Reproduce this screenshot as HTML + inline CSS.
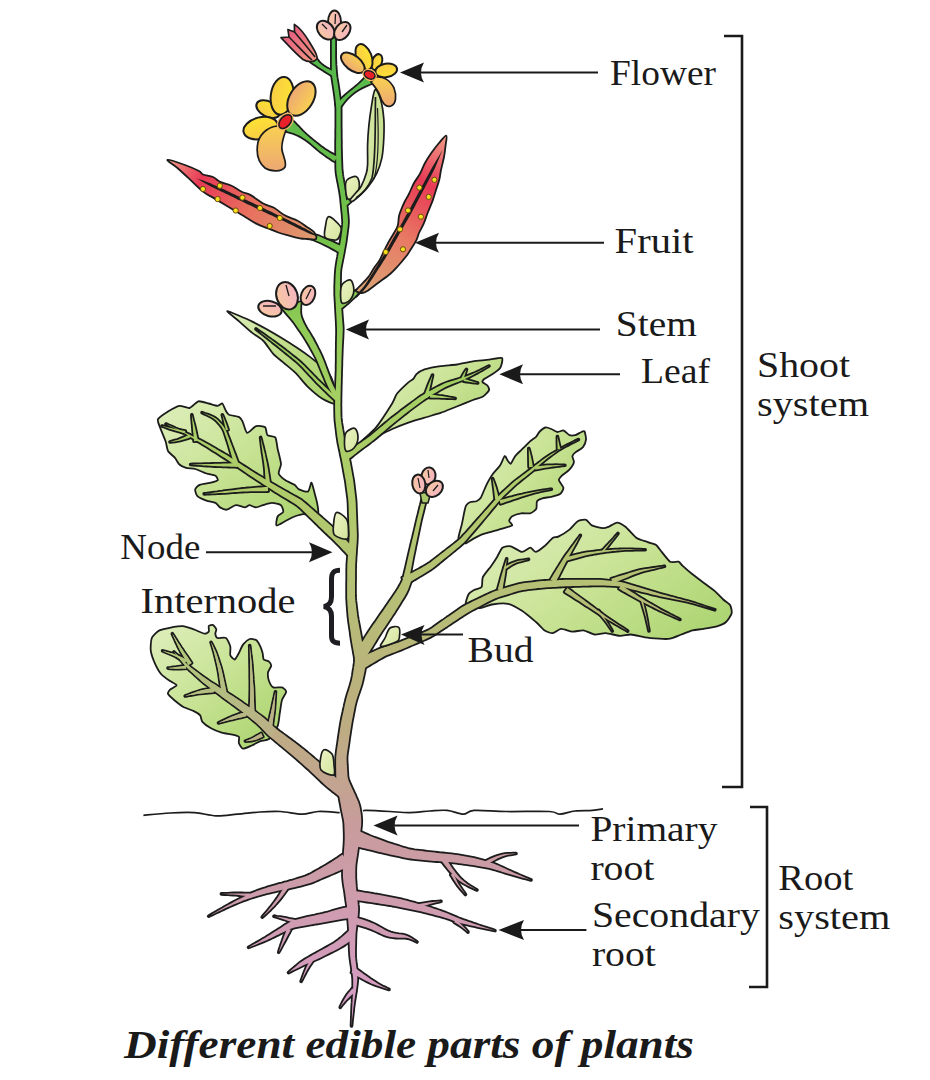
<!DOCTYPE html>
<html><head><meta charset="utf-8"><style>
html,body{margin:0;padding:0;background:#fff;width:930px;height:1080px;overflow:hidden}
svg{display:block}
.t{font-family:"Liberation Serif",serif;font-size:36px;fill:#1a1a1a}
.cap{font-family:"Liberation Serif",serif;font-size:40px;font-weight:bold;font-style:italic;fill:#1a1a1a}
.ln{stroke:#1a1a1a;stroke-width:2;fill:none}
.br{stroke:#1a1a1a;stroke-width:2.6;fill:none}
.ah{fill:#1a1a1a}
</style></head><body>
<svg width="930" height="1080" viewBox="0 0 930 1080">
<defs>
<linearGradient id="gStem" gradientUnits="userSpaceOnUse" x1="0" y1="0" x2="0" y2="1030">
<stop offset="0" stop-color="#4cb44c"/>
<stop offset="0.10" stop-color="#5cba4a"/>
<stop offset="0.25" stop-color="#78c34a"/>
<stop offset="0.38" stop-color="#a4d062"/>
<stop offset="0.48" stop-color="#b0cb6a"/>
<stop offset="0.58" stop-color="#b6bf76"/>
<stop offset="0.68" stop-color="#bcb07e"/>
<stop offset="0.74" stop-color="#c0a88a"/>
<stop offset="0.80" stop-color="#c89c9c"/>
<stop offset="1" stop-color="#d89cca"/>
</linearGradient>
<linearGradient id="gLeaf" x1="0" y1="0" x2="1" y2="1">
<stop offset="0" stop-color="#dfefbd"/>
<stop offset="0.5" stop-color="#c6e292"/>
<stop offset="1" stop-color="#a6d168"/>
</linearGradient>
<linearGradient id="gLeafR" x1="0" y1="0.2" x2="1" y2="0.8">
<stop offset="0" stop-color="#dcedb8"/>
<stop offset="0.5" stop-color="#c9e395"/>
<stop offset="1" stop-color="#add572"/>
</linearGradient>
<linearGradient id="gLeafL" x1="1" y1="1" x2="0" y2="0">
<stop offset="0" stop-color="#a6d168"/>
<stop offset="0.6" stop-color="#c4e08e"/>
<stop offset="1" stop-color="#deeebc"/>
</linearGradient>
<linearGradient id="gStip" x1="0" y1="0" x2="1" y2="1">
<stop offset="0" stop-color="#eef3c6"/>
<stop offset="1" stop-color="#d2e59c"/>
</linearGradient>
<linearGradient id="gYel" x1="0" y1="0" x2="0" y2="1">
<stop offset="0" stop-color="#fee233"/>
<stop offset="1" stop-color="#f8cc46"/>
</linearGradient>
<linearGradient id="gOra" x1="0" y1="0" x2="0" y2="1">
<stop offset="0" stop-color="#f9d052"/>
<stop offset="1" stop-color="#eda873"/>
</linearGradient>
<linearGradient id="gPink" x1="0" y1="0" x2="0" y2="1">
<stop offset="0" stop-color="#f4b4c0"/>
<stop offset="1" stop-color="#f8c8a2"/>
</linearGradient>
<linearGradient id="gTulip" x1="0" y1="0" x2="1" y2="1">
<stop offset="0" stop-color="#e2507e"/>
<stop offset="1" stop-color="#f29a82"/>
</linearGradient>
<linearGradient id="gFruitL" gradientUnits="userSpaceOnUse" x1="168" y1="160" x2="322" y2="240">
<stop offset="0" stop-color="#f29a86"/>
<stop offset="0.22" stop-color="#e83a56"/>
<stop offset="0.55" stop-color="#e8705e"/>
<stop offset="1" stop-color="#dca070"/>
</linearGradient>
<linearGradient id="gFruitR" gradientUnits="userSpaceOnUse" x1="446" y1="136" x2="356" y2="296">
<stop offset="0" stop-color="#f29a86"/>
<stop offset="0.28" stop-color="#e83a56"/>
<stop offset="0.6" stop-color="#e87a64"/>
<stop offset="1" stop-color="#daa878"/>
</linearGradient>
<linearGradient id="gPod" x1="0" y1="0" x2="1" y2="0">
<stop offset="0" stop-color="#e6f0c0"/>
<stop offset="1" stop-color="#c6df8e"/>
</linearGradient>
<clipPath id="cBll"><path d="M151.8,638C152.7,635.7 157.1,631.6 159.4,630.4C161.7,629.2 169.7,627.7 172.3,627.2C174.9,626.7 180.6,625.9 183,626.1C185.4,626.3 191.4,628.6 193.8,629.4C196.2,630.2 202.8,633.5 204.5,633.7C206.2,633.9 208.3,632.3 208.8,631.5C209.3,630.7 208.3,626.8 208.8,626.1C209.3,625.4 212.3,624.7 213.1,625.1C213.9,625.5 216.1,628.5 216.3,629.4C216.5,630.3 215.2,632.8 215.3,633.7C215.4,634.6 216.2,637.5 217.4,638C218.6,638.5 224.6,637.1 226,638C227.4,638.9 229.8,644.7 230.3,646.6C230.8,648.5 229.8,653.8 230.3,655.2C230.8,656.6 233.7,659.7 234.6,659.5C235.5,659.3 238,654.7 238.9,653C239.8,651.3 242,645.9 243.2,644.4C244.4,642.9 248.3,639.5 249.7,639C251.1,638.5 254.9,639.3 256.1,640.1C257.3,640.9 259.7,645.2 260.4,646.6C261.1,648 262.2,651.6 262.6,653C263,654.4 263,658.6 263.7,659.5C264.4,660.4 268.2,660.9 269,661.6C269.8,662.3 271.3,664.7 271.2,665.9C271.1,667.1 268.2,670.7 268,672.4C267.8,674.1 268.4,679.4 269,681C269.6,682.6 271.9,686.7 273.3,687.4C274.7,688.1 280.5,686.9 281.9,687.4C283.3,687.9 286.2,690.3 286.2,691.7C286.2,693.1 282.6,697.9 281.9,700.3C281.2,702.7 280.3,710.4 279.8,713.2C279.3,716 278.8,723.3 277.6,726.1C276.4,728.9 270.9,737.3 269,739C267.1,740.7 262.3,740.5 260.4,741.2C258.5,741.9 253.7,744.7 251.8,745.5C249.9,746.3 244.6,748.9 243.2,748.7C241.8,748.5 239.4,744.6 238.9,743.3C238.4,742 239.6,737.8 238.9,736.9C238.2,736 234.4,735.2 232.5,734.7C230.6,734.2 224.1,733.3 221.7,732.6C219.3,731.9 213.1,729.5 211,728.3C208.9,727.1 203.6,723.2 202.4,721.8C201.2,720.4 201.1,716.6 200.2,715.4C199.3,714.2 195.7,712 193.8,711.1C191.9,710.2 185.1,708 183,706.8C180.9,705.6 176.1,701.7 174.4,700.3C172.8,698.9 168.5,695.1 168,693.9C167.5,692.7 169.2,690.5 170.1,689.6C171,688.7 176.6,686.2 176.6,685.3C176.6,684.4 171.8,682.2 170.1,681C168.4,679.8 163.2,676.4 161.5,674.5C159.8,672.6 156.3,666.4 155.1,663.8C153.9,661.2 151.2,653.7 150.8,650.9C150.4,648.1 150.9,640.3 151.8,638Z"/></clipPath><linearGradient id="gBllV" gradientUnits="userSpaceOnUse" x1="282" y1="738" x2="175" y2="650"><stop offset="0" stop-color="#bcae88"/><stop offset="0.35" stop-color="#b6b884"/><stop offset="1" stop-color="#aec878"/></linearGradient></defs>
<g id="plant">
<path d="M143.4,815.3C147.8,814.9 161.5,813.5 170,813C178.5,812.5 186.8,812.1 194.5,812.6C202.2,813.1 208.8,815.5 216,815.8C223.2,816.1 230.2,814.8 237.5,814.2C244.8,813.6 252.8,812.5 260,812C267.2,811.5 273.5,811.1 280.5,811.5C287.5,811.9 295.7,814.2 302,814.2C308.3,814.2 311.9,811.8 318.2,811.5C324.5,811.2 336.1,812.4 339.7,812.6 M363,811C363.6,810.9 362.1,810.3 366.6,810.4C371.1,810.5 382.8,811.1 390,811.5C397.2,811.9 402.9,812.7 409.6,812.6C416.3,812.5 423.7,811.4 430,811C436.3,810.6 441.6,809.9 447.2,810.4C452.8,810.9 458.8,814.2 463.3,814.2C467.8,814.2 466.9,810.9 474.1,810.4C481.3,809.9 493.8,811.3 506.3,811.5C518.9,811.7 540.4,811 549.4,811.5C558.4,812 555.7,814.3 560,814.2C564.3,814.1 569.6,811.6 575,811C580.4,810.4 587.7,810.8 592.4,810.4C597.1,810 601.2,809.1 603,808.8" fill="none" stroke="#1c1c1c" stroke-width="1.7"/>
<path d="M227.3,311.1C228.7,311.1 246.4,318.7 252.3,321.6C258.2,324.5 274.9,333.8 281.3,337.7C287.7,341.6 305,353 310.3,357.1C315.6,361.2 327,371.2 329.7,374.8C332.4,378.4 334.3,386.8 335,390C335.7,393.2 337.4,403.1 336,404C334.6,404.9 325.2,400.5 322,398.5C318.8,396.5 310,388.9 307.1,386.1C304.2,383.3 298.3,375.7 295.8,373.2C293.3,370.7 287,365.6 284.5,363.5C282,361.4 275.5,356.4 273.2,353.9C270.9,351.4 265.8,343.3 263.5,341C261.2,338.7 255,335 252.3,332.9C249.6,330.8 242.2,324 239.4,321.6C236.7,319.2 225.9,311.1 227.3,311.1Z" fill="url(#gLeafL)" stroke="#1c1c1c" stroke-width="1.8" stroke-linejoin="round"/>
<path d="M502,358C503.2,358.9 501.4,365.9 500.3,367.7C499.2,369.5 494.1,373 492.3,374.2C490.5,375.4 485.3,378.1 484.2,379C483.1,379.9 482.2,381.6 482.6,382.3C483,383 486.7,384.6 487.4,385.5C488.1,386.4 489.5,389.1 489,390.3C488.5,391.5 484.4,395.7 482.6,396.8C480.8,397.9 475.7,398.9 472.9,400C470.1,401.1 460.4,405.1 456.8,406.5C453.2,407.9 444.2,411.7 440.6,412.9C437,414.1 428,416.6 424.5,417.7C421,418.8 411.9,421.4 408.4,422.6C404.9,423.8 395.9,427.4 392.3,429C388.7,430.6 379,435.6 376.1,437.1C373.2,438.6 367.6,442.6 366,443C364.4,443.4 360.9,442.7 362,441C363.1,439.3 372.8,431.6 376.1,427.4C379.4,423.2 390,406.9 392.3,403.2C394.6,399.5 395.3,395.8 397.1,393.5C398.9,391.2 406.6,383.9 408.4,382.3C410.2,380.7 412.3,379.9 413.2,379C414.1,378.1 415.3,375.3 416.5,374.2C417.7,373.1 421.8,370.3 424.5,369.4C427.2,368.5 437,366.6 440.6,366.1C444.2,365.6 453.2,365 456.8,364.5C460.4,364 469.4,361.8 472.9,361.3C476.4,360.8 485.8,360.1 489,359.7C492.2,359.3 500.8,357.1 502,358Z" fill="url(#gLeafR)" stroke="#1c1c1c" stroke-width="1.8" stroke-linejoin="round"/>
<path d="M157.9,419.4C158.6,417.3 165.6,413 168,411.5C170.4,410 177,406.2 179.4,405.8C181.8,405.4 187.4,408.5 189.5,408C191.6,407.5 196.4,401.8 198.5,401.3C200.6,400.8 206.6,403 208.7,403.5C210.8,404 216.2,405.8 217.7,405.8C219.2,405.8 221.4,403 222.3,403.5C223.2,404 224.9,409.1 225.6,410.3C226.3,411.5 227.5,414.1 229,414.8C230.5,415.5 237.7,416.4 239.2,417.1C240.7,417.8 241.7,419.9 242.6,421.6C243.5,423.3 245.6,432.4 247.1,432.9C248.6,433.4 254.1,426.7 256.1,426.1C258.1,425.5 264,426.3 265.2,427.3C266.4,428.3 266.3,434.1 267.4,435.2C268.5,436.3 274.2,435.9 275.3,437.4C276.4,438.9 277.1,446.5 277.6,448.7C278.1,450.9 279.4,456 279.8,457.7C280.2,459.4 281.1,462.8 281,464.5C280.9,466.2 278.2,471.8 278.7,473.5C279.2,475.2 283.8,479.1 285.5,480.3C287.2,481.5 293,483.8 294.5,484.8C296,485.8 297.5,488.7 299,489.4C300.5,490.1 306.6,492.3 308,491.6C309.4,490.9 310.8,482.3 311.5,482.6C312.2,482.9 314.2,491.7 314.8,493.9C315.4,496.1 316.7,500.8 317.1,502.9C317.5,505 318.7,511.7 318.2,513.1C317.7,514.5 314.2,515.2 312.6,515.3C311,515.4 305.5,514.1 303.5,514.2C301.5,514.3 296.5,515.8 294.5,516.5C292.5,517.2 287.5,520 285.5,521C283.5,522 277.4,526 276.5,525.5C275.6,525 276.9,518 277.6,516.5C278.3,515 282.8,513.2 283.2,512C283.6,510.8 282.2,506.2 281,505.2C279.8,504.2 274,502.9 272,502.9C270,502.9 264.6,504.7 262.9,505.2C261.2,505.7 257.6,507.4 256.1,507.4C254.6,507.4 250.6,505.2 249.4,505.2C248.2,505.2 246.3,507.4 244.8,507.4C243.3,507.4 237.8,504.9 235.8,505.2C233.8,505.5 228.5,509.5 226.8,509.7C225.1,509.9 221.2,508.1 220,507.4C218.8,506.7 217,503.6 215.5,502.9C214,502.2 208.5,501.3 206.5,500.6C204.5,499.9 198.6,497.3 197.4,496.1C196.2,494.9 194.9,490.6 195.2,489.4C195.5,488.2 198,485.5 199.7,484.8C201.4,484.1 209,483.1 211,482.6C213,482.1 217.2,481 217.7,480.3C218.2,479.6 216.7,476.5 215.5,475.8C214.3,475.1 208.7,474.2 206.5,473.5C204.3,472.8 197.4,469.6 195.2,469C193,468.4 187.8,468.4 186.1,467.9C184.4,467.4 180.6,465.6 179.4,464.5C178.2,463.4 176.1,459.2 174.8,457.7C173.5,456.2 169,452.7 168,451C167,449.3 166.5,444.1 165.8,441.9C165.1,439.7 162.2,433.1 161.3,430.6C160.4,428.1 157.2,421.5 157.9,419.4Z" fill="url(#gLeaf)" stroke="#1c1c1c" stroke-width="1.8" stroke-linejoin="round"/>
<path d="M584.5,431.3C585,432.1 586.2,437.9 586,439.6C585.8,441.3 584.2,445.7 583,447.1C581.8,448.5 576.6,451.4 575.4,452.4C574.2,453.4 572.6,455 572.4,456.1C572.2,457.2 574.2,460.7 573.9,462.2C573.6,463.7 570.7,468.2 569.4,469.7C568.1,471.2 563.1,474.5 561.9,475.7C560.7,476.9 558.7,478.9 558.9,480.2C559.1,481.5 563.2,486.2 563.4,487.7C563.6,489.2 561.7,492.8 560.4,493.8C559.1,494.8 553.3,496.3 551.3,496.8C549.3,497.3 543.9,497.8 542.3,498.3C540.7,498.8 537.7,500.1 537,501.3C536.3,502.5 537,507.5 536.3,508.8C535.6,510.1 532,512.8 530.3,513.3C528.6,513.8 523.2,513 521.2,513.3C519.2,513.6 513.5,515.5 512.2,516.3C510.9,517.1 509.2,519.9 509.2,520.9C509.2,521.9 512.9,524.6 512.2,525.4C511.5,526.2 505.4,527.7 503.2,528.4C501,529.1 494.9,530.7 492.6,531.4C490.3,532.1 484.2,533.6 482.1,534.4C480,535.2 474.9,537.9 473.1,538.9C471.3,539.9 467.3,543 466.1,543.3C464.9,543.6 462.8,542.6 462,542C461.2,541.4 458.4,540.1 458.4,538.2C458.4,536.3 461.1,527.3 461.8,524.4C462.5,521.5 463.9,513.6 464.4,511.5C464.9,509.4 465.4,506.5 466.1,505.5C466.8,504.5 469.3,502.5 470.4,502C471.5,501.5 475.4,501.7 476.5,501.2C477.6,500.7 480,498.9 480.8,497.7C481.6,496.5 483.4,491.8 484.2,490C485,488.2 487.2,483.4 488.1,481.7C489,480 491.3,476 492.6,474.2C493.9,472.4 498.9,467.2 500.2,465.2C501.5,463.2 503.9,456.6 504.7,456.1C505.5,455.6 507,459.8 507.7,460.6C508.4,461.4 509.9,464.2 510.7,463.7C511.5,463.2 514,457.6 515.2,456.1C516.4,454.6 520,451.3 521.2,450.1C522.4,448.9 524.8,446.6 525.8,445.6C526.8,444.6 529.1,442.1 530.3,441.1C531.5,440.1 535.3,437.6 536.3,436.6C537.3,435.6 538.3,433 539.3,432C540.3,431 544,427.8 545.3,427.5C546.6,427.2 550,428.5 551.3,429C552.6,429.5 556.1,431.8 557.4,432C558.7,432.2 562.1,430.2 563.4,430.5C564.7,430.8 568.1,434.6 569.4,435.1C570.7,435.6 574.1,435.4 575.4,435.1C576.7,434.8 580.4,432.4 581.4,432C582.4,431.6 584,430.5 584.5,431.3Z" fill="url(#gLeafR)" stroke="#1c1c1c" stroke-width="1.8" stroke-linejoin="round"/>
<path d="M466,605C464.8,603.5 467.8,595.6 468.7,594C469.6,592.4 472.6,590.8 474,590C475.4,589.2 480.6,588.4 481.6,587C482.6,585.6 481.8,579.3 482.9,577C484,574.7 489.7,568 491.2,565.9C492.7,563.8 495.6,559.5 496.8,557.5C498,555.5 500.9,548.9 502.4,547.7C503.9,546.5 508.7,545.8 510.8,546.3C512.9,546.8 519.8,551.7 521.9,551.9C524,552.1 528.8,547.7 530.3,547.7C531.8,547.7 534.4,552.1 535.9,551.9C537.4,551.7 542.5,547.8 544.3,546.3C546.1,544.8 551.2,539.1 552.7,538C554.2,536.9 556.5,537.5 558.3,536.6C560.1,535.7 567.4,531.3 569.5,529.6C571.6,527.9 576,522.3 577.8,521.2C579.6,520.1 584.7,519.3 586.2,519.8C587.7,520.3 590,524.5 591.8,525.4C593.6,526.3 601.2,528 603,528.2C604.8,528.4 607.1,527.4 608.6,526.8C610.1,526.2 615.2,522.6 617,522.6C618.8,522.6 623.2,525.1 625.4,526.8C627.6,528.5 634.1,536.3 636.6,538C639.1,539.7 645.6,541.3 647.7,542.1C649.8,542.9 654.6,543.8 656.1,544.9C657.6,546 660.2,550.1 661.7,551.9C663.2,553.7 668.3,560.6 670.1,561.7C671.9,562.8 677.1,561.2 678.5,561.7C679.9,562.2 681.2,564.5 682.7,565.9C684.2,567.3 690.2,572.5 692.5,574.3C694.8,576.1 701.1,580.9 703.6,582.7C706.1,584.5 712.6,589.3 714.8,591.1C717,592.9 721.5,597.9 723.2,599.5C724.9,601.1 729.3,603.7 730.2,605.2C731.1,606.7 732.1,611.7 731.6,613.5C731.1,615.3 727.5,620.6 726,622C724.5,623.4 720.1,625.3 717.6,626.1C715.1,626.9 706.4,628.4 703.6,628.9C700.8,629.4 695,629.7 692.5,630.3C690,630.9 683.8,633.6 681.3,634.5C678.8,635.4 672.5,638.2 670,638.7C667.5,639.2 661.8,638.9 659,638.7C656.2,638.5 648.1,637.8 645,637.3C641.9,636.8 633.8,634.7 631,634.5C628.2,634.3 622.6,636.1 619.8,635.9C617,635.7 608.6,633.3 605.8,633.1C603,632.9 597.1,634.8 594.6,634.5C592.1,634.2 585.9,630.6 583.4,630.3C580.9,630 574.8,631.9 572.3,631.7C569.8,631.5 563.2,628.7 561,628.9C558.8,629.1 554.5,632.9 552.7,633.1C550.9,633.3 546.1,631.5 544.3,630.3C542.5,629.1 538.5,624.1 536,622C533.5,619.9 525.1,612.8 522,610.8C518.9,608.8 511.3,604.5 508,603.8C504.7,603.1 495.1,604 492,604.5C488.9,605 482.9,607.9 480,608C477.1,608.1 467.2,606.5 466,605Z" fill="url(#gLeafR)" stroke="#1c1c1c" stroke-width="1.8" stroke-linejoin="round"/>
<path d="M151.8,638C152.7,635.7 157.1,631.6 159.4,630.4C161.7,629.2 169.7,627.7 172.3,627.2C174.9,626.7 180.6,625.9 183,626.1C185.4,626.3 191.4,628.6 193.8,629.4C196.2,630.2 202.8,633.5 204.5,633.7C206.2,633.9 208.3,632.3 208.8,631.5C209.3,630.7 208.3,626.8 208.8,626.1C209.3,625.4 212.3,624.7 213.1,625.1C213.9,625.5 216.1,628.5 216.3,629.4C216.5,630.3 215.2,632.8 215.3,633.7C215.4,634.6 216.2,637.5 217.4,638C218.6,638.5 224.6,637.1 226,638C227.4,638.9 229.8,644.7 230.3,646.6C230.8,648.5 229.8,653.8 230.3,655.2C230.8,656.6 233.7,659.7 234.6,659.5C235.5,659.3 238,654.7 238.9,653C239.8,651.3 242,645.9 243.2,644.4C244.4,642.9 248.3,639.5 249.7,639C251.1,638.5 254.9,639.3 256.1,640.1C257.3,640.9 259.7,645.2 260.4,646.6C261.1,648 262.2,651.6 262.6,653C263,654.4 263,658.6 263.7,659.5C264.4,660.4 268.2,660.9 269,661.6C269.8,662.3 271.3,664.7 271.2,665.9C271.1,667.1 268.2,670.7 268,672.4C267.8,674.1 268.4,679.4 269,681C269.6,682.6 271.9,686.7 273.3,687.4C274.7,688.1 280.5,686.9 281.9,687.4C283.3,687.9 286.2,690.3 286.2,691.7C286.2,693.1 282.6,697.9 281.9,700.3C281.2,702.7 280.3,710.4 279.8,713.2C279.3,716 278.8,723.3 277.6,726.1C276.4,728.9 270.9,737.3 269,739C267.1,740.7 262.3,740.5 260.4,741.2C258.5,741.9 253.7,744.7 251.8,745.5C249.9,746.3 244.6,748.9 243.2,748.7C241.8,748.5 239.4,744.6 238.9,743.3C238.4,742 239.6,737.8 238.9,736.9C238.2,736 234.4,735.2 232.5,734.7C230.6,734.2 224.1,733.3 221.7,732.6C219.3,731.9 213.1,729.5 211,728.3C208.9,727.1 203.6,723.2 202.4,721.8C201.2,720.4 201.1,716.6 200.2,715.4C199.3,714.2 195.7,712 193.8,711.1C191.9,710.2 185.1,708 183,706.8C180.9,705.6 176.1,701.7 174.4,700.3C172.8,698.9 168.5,695.1 168,693.9C167.5,692.7 169.2,690.5 170.1,689.6C171,688.7 176.6,686.2 176.6,685.3C176.6,684.4 171.8,682.2 170.1,681C168.4,679.8 163.2,676.4 161.5,674.5C159.8,672.6 156.3,666.4 155.1,663.8C153.9,661.2 151.2,653.7 150.8,650.9C150.4,648.1 150.9,640.3 151.8,638Z" fill="url(#gLeaf)" stroke="#1c1c1c" stroke-width="1.8" stroke-linejoin="round"/>
<g fill="#1c1c1c" stroke="#1c1c1c" stroke-width="3.6" stroke-linejoin="round"><path d="M331.8,36 L331.8,38.7 L331.8,41.3 L331.8,44 L331.8,46.7 L331.8,49.3 L331.8,52 L331.8,54.7 L331.8,57.3 L331.8,59.9 L331.8,62.5 L331.8,65.1 L331.8,67.6 L331.8,70.1 L331.9,72.6 L332,75.2 L332.3,77.8 L332.7,80.3 L333.1,82.9 L333.5,85.4 L333.9,87.9 L334.3,90.4 L334.6,93 L335,95.6 L335.3,98.3 L335.6,100.9 L335.9,103.6 L336.1,106.2 L336.3,108.8 L336.3,111.4 L336.3,114.1 L336.3,116.9 L336.3,119.6 L336.3,122.3 L336.3,124.9 L336.3,127.5 L336.2,130 L336.2,132.5 L336.2,135 L336.2,137.5 L336.1,140 L336.1,142.5 L336.1,145 L336.1,147.5 L336.1,150.1 L336.1,152.8 L336.1,155.6 L336.1,158.3 L336.2,161.1 L336.2,163.8 L336.2,166.6 L336.3,169.4 L336.5,172.3 L336.9,175.1 L337.4,177.9 L337.9,180.7 L338.5,183.5 L339,186.2 L339.5,188.9 L340,191.6 L340.4,194.3 L340.8,196.8 L341.1,199.3 L341.3,201.9 L341.6,204.4 L341.8,207 L342.1,209.5 L342.3,212.1 L342.6,214.6 L342.8,217.1 L343,219.6 L343.1,222 L343,224.4 L342.7,226.9 L342.4,229.4 L342.1,232 L341.7,234.5 L341.4,237.1 L341,239.6 L340.6,242.1 L340.2,244.6 L339.7,247.1 L339.3,249.6 L338.8,252.1 L338.4,254.6 L338,257.1 L337.5,259.6 L337.1,262.1 L336.7,264.6 L336.3,267.2 L336,269.9 L335.8,272.7 L335.6,275.4 L335.5,278.2 L335.4,280.9 L335.3,283.7 L335.2,286.5 L335.2,289.2 L335.2,292.1 L335.2,294.9 L335.4,297.7 L335.5,300.4 L335.7,303.2 L335.8,305.9 L336,308.7 L336.1,311.4 L336.3,314.1 L336.4,316.7 L336.6,319.2 L336.7,321.7 L336.8,324.2 L336.9,326.6 L337,329.1 L337,331.7 L337,334.3 L336.9,337 L336.9,339.8 L336.8,342.5 L336.8,345.2 L336.8,347.9 L336.7,350.7 L336.7,353.5 L336.7,356.2 L336.7,359 L336.7,361.7 L336.6,364.5 L336.6,367.2 L336.6,369.8 L336.5,372.4 L336.4,374.9 L336.3,377.4 L336.2,379.9 L336.1,382.4 L336,384.9 L335.9,387.4 L335.7,389.9 L335.6,392.4 L335.5,394.9 L335.4,397.4 L335.3,399.9 L335.1,402.4 L335.1,405 L335.1,407.5 L335.1,410 L335.2,412.6 L335.2,415.1 L335.3,417.6 L335.4,420.2 L335.7,422.8 L336,425.4 L336.3,427.9 L336.6,430.4 L336.9,432.9 L337.2,435.5 L337.6,438 L338,440.6 L338.4,443.3 L339,445.9 L339.5,448.5 L340.1,451.1 L340.6,453.7 L341.1,456.3 L341.7,458.8 L342.2,461.5 L342.7,464.2 L343.2,466.9 L343.7,469.7 L344.2,472.4 L344.7,475.2 L345.2,477.9 L345.7,480.5 L346.1,483 L346.4,485.5 L346.7,488 L347.1,490.5 L347.4,493 L347.7,495.4 L348.1,497.9 L348.3,500.4 L348.5,502.9 L348.6,505.4 L348.7,508.1 L348.7,510.7 L348.8,513.3 L348.9,516 L349,518.6 L349.1,521.3 L349.2,523.9 L349.3,526.6 L349.3,529.2 L349.4,531.8 L349.5,534.4 L349.5,536.9 L349.4,539.3 L349.2,541.8 L349,544.4 L348.8,546.9 L348.5,549.4 L348.3,552 L348.1,554.5 L347.9,557.1 L347.7,559.6 L347.5,562.2 L347.3,564.8 L347.3,567.5 L347.2,570 L347.2,572.6 L347.2,575.1 L347.2,577.7 L347.2,580.2 L347.1,582.7 L347.1,585.3 L347.1,587.8 L347.1,590.4 L347.1,592.9 L347.1,595.5 L347.1,598.2 L347.3,600.8 L347.4,603.4 L347.6,605.9 L347.8,608.4 L348,610.9 L348.2,613.5 L348.4,616 L348.7,618.7 L349,621.4 L349.4,624.1 L349.8,626.8 L350.2,629.4 L350.6,632.1 L350.9,634.8 L351.3,637.5 L351.7,640.2 L352.2,642.9 L352.6,645.6 L353.1,648.2 L353.6,650.9 L354,653.4 L354.5,655.9 L354.8,658.1 L354.9,660.2 L354.8,662.2 L354.5,664.6 L354.1,667.3 L353.6,670 L353.2,672.8 L352.8,675.5 L352.3,678.1 L351.8,680.6 L351.1,683.1 L350.4,685.6 L349.6,688.1 L348.8,690.7 L347.9,693.3 L347.1,696 L346.3,698.7 L345.7,701.4 L345,704.1 L344.5,706.6 L343.9,709.2 L343.4,711.7 L342.8,714.3 L342.2,716.9 L341.7,719.5 L341.2,722.1 L340.7,724.8 L340.3,727.5 L339.9,730.1 L339.5,732.7 L339.1,735.3 L338.7,737.9 L338.4,740.6 L338,743.2 L337.6,745.8 L337.2,748.4 L336.8,751.1 L336.5,753.8 L336.2,756.7 L336.1,759.5 L336.1,762.2 L336.1,764.8 L336.1,767.4 L336.2,770 L336.2,772.5 L336.2,775.2 L336.3,778 L336.6,780.9 L337,783.9 L337.5,786.7 L338,789.3 L338.4,791.9 L338.9,794.5 L339.4,797 L339.8,799.6 L340.3,802.1 L340.8,804.6 L341.2,807 L341.6,809.3 L342.1,811.7 L342.7,814.2 L343.2,816.9 L343.7,819.3 L344.1,821.5 L344.3,823.7 L344.4,826.1 L344.5,828.7 L344.6,831.4 L344.7,834.1 L344.7,836.8 L344.7,839.3 L344.6,841.8 L344.5,844.2 L344.3,846.7 L344.1,849.2 L343.9,851.8 L343.8,854.3 L343.6,856.8 L343.4,859.3 L343.2,862 L343.1,864.7 L343,867.4 L342.9,870.1 L342.9,872.8 L342.9,875.6 L343.1,878.6 L343.4,881.6 L343.8,884.7 L344.3,887.7 L344.8,890.5 L345.2,893.1 L345.5,895.7 L345.9,898.2 L346.2,900.7 L346.6,903.2 L346.9,905.6 L347.2,908 L347.5,910.3 L347.7,912.6 L347.9,915 L348.1,917.5 L348.2,920.1 L348.4,922.7 L348.6,925.2 L348.8,927.8 L348.9,930.4 L349.1,933 L349.2,935.6 L349.3,938.1 L349.4,940.7 L349.5,943.2 L349.6,945.8 L349.7,948.4 L349.8,950.9 L350,953.6 L350.2,956.3 L350.5,959 L350.9,961.8 L351.3,964.6 L351.7,967.3 L352.1,970.1 L352.5,972.8 L352.8,975.5 L353.1,978.2 L353.2,981 L353.2,983.9 L353.2,986.8 L353.1,989.6 L353,992.3 L352.9,994.9 L352.7,997.4 L352.6,999.9 L352.5,1002.4 L352.3,1005 L352.2,1007.6 L352.1,1010.2 L352,1012.8 L351.9,1015.5 L351.8,1018.1 L351.7,1020.7 L351.6,1023.4 L351.5,1026 L351.5,1026 L351.8,1023.4 L352,1020.8 L352.3,1018.1 L352.6,1015.5 L352.9,1012.9 L353.2,1010.3 L353.4,1007.7 L353.8,1005.1 L354.1,1002.6 L354.5,1000.1 L354.9,997.6 L355.3,995.1 L355.7,992.6 L356.1,989.9 L356.5,987.1 L356.9,984.1 L357.2,981.1 L357.3,978.1 L357.3,975.1 L357,972.2 L356.6,969.4 L356.3,966.7 L356,963.9 L355.6,961.2 L355.3,958.5 L355.1,955.9 L355.1,953.4 L355.1,950.8 L355.1,948.3 L355.2,945.8 L355.3,943.2 L355.3,940.6 L355.4,938.1 L355.5,935.6 L355.6,933 L355.9,930.5 L356.2,928 L356.5,925.5 L356.8,922.9 L357.1,920.4 L357.5,917.8 L357.8,915.2 L358,912.5 L358.2,909.8 L358.1,907 L357.8,904.4 L357.6,901.8 L357.3,899.3 L357,896.8 L356.7,894.3 L356.4,891.7 L356.2,889.1 L355.9,886.2 L355.7,883.3 L355.5,880.5 L355.3,877.8 L355.3,875.3 L355.3,872.8 L355.3,870.3 L355.4,867.8 L355.5,865.4 L355.8,863.1 L356.1,860.7 L356.5,858.2 L356.9,855.7 L357.3,853.2 L357.6,850.8 L358,848.3 L358.4,845.7 L358.8,843.2 L359.2,840.5 L359.5,837.7 L359.9,835 L360.3,832.3 L360.6,829.6 L361,826.7 L361.2,823.7 L361.3,820.4 L361.1,817.1 L360.8,813.9 L360.3,811 L359.8,808 L359.1,805 L358.2,802.2 L357.1,799.6 L356,797.2 L355,794.8 L353.9,792.4 L352.8,790.1 L351.7,787.7 L350.7,785.4 L349.6,783.1 L348.7,781 L348.1,779 L347.6,776.9 L347.4,774.6 L347.3,772.1 L347.1,769.6 L347,767 L346.8,764.5 L346.7,762 L346.6,759.6 L346.6,757.3 L346.8,754.9 L347.1,752.5 L347.5,749.9 L347.9,747.3 L348.3,744.7 L348.7,742.1 L349,739.4 L349.4,736.8 L349.8,734.2 L350.2,731.6 L350.6,729 L351,726.4 L351.4,723.9 L351.8,721.4 L352.3,718.9 L352.8,716.4 L353.3,713.8 L353.8,711.3 L354.3,708.7 L354.8,706.2 L355.4,703.7 L356,701.3 L356.7,698.9 L357.5,696.4 L358.4,693.9 L359.3,691.3 L360.2,688.7 L361.1,686 L361.9,683.2 L362.6,680.3 L363.2,677.5 L363.8,674.7 L364.4,672 L364.9,669.2 L365.5,666.4 L366,663.3 L366.1,660 L365.8,656.8 L365.2,653.8 L364.5,651.1 L363.9,648.6 L363.2,646 L362.5,643.5 L361.9,641 L361.4,638.5 L360.9,635.9 L360.4,633.2 L359.9,630.6 L359.4,627.9 L358.9,625.2 L358.4,622.6 L357.9,620 L357.5,617.5 L357.1,615 L356.8,612.6 L356.5,610.1 L356.2,607.6 L355.9,605.1 L355.6,602.6 L355.3,600.2 L355.1,597.8 L355,595.4 L355,592.9 L355,590.4 L355,587.9 L355,585.3 L355,582.8 L355.1,580.3 L355.1,577.7 L355.1,575.2 L355.1,572.6 L355.1,570.1 L355.2,567.6 L355.2,565.2 L355.3,562.7 L355.5,560.2 L355.6,557.7 L355.8,555.1 L356,552.6 L356.1,550 L356.3,547.5 L356.5,544.9 L356.7,542.3 L356.8,539.7 L356.9,537 L356.9,534.3 L356.8,531.6 L356.7,528.9 L356.6,526.3 L356.5,523.7 L356.4,521 L356.3,518.4 L356.2,515.7 L356.1,513.1 L356,510.4 L355.9,507.8 L355.8,505.1 L355.7,502.5 L355.5,499.8 L355.2,497.1 L354.9,494.6 L354.6,492 L354.3,489.5 L354,487 L353.7,484.5 L353.4,481.9 L353,479.3 L352.5,476.6 L352,473.8 L351.5,471.1 L351,468.3 L350.5,465.6 L350,462.8 L349.4,460.1 L348.8,457.3 L348.2,454.7 L347.5,452 L346.8,449.5 L346.2,446.9 L345.5,444.4 L344.8,441.9 L344.3,439.4 L343.7,437 L343.3,434.5 L342.9,432.1 L342.4,429.6 L342,427.1 L341.6,424.6 L341.2,422.2 L340.9,419.8 L340.7,417.4 L340.6,414.9 L340.5,412.4 L340.5,410 L340.5,407.5 L340.4,405 L340.5,402.6 L340.5,400.1 L340.5,397.6 L340.6,395.1 L340.6,392.6 L340.7,390.1 L340.7,387.6 L340.8,385.1 L340.9,382.6 L340.9,380.1 L341,377.6 L341.1,375.1 L341.1,372.5 L341.2,369.9 L341.3,367.3 L341.4,364.5 L341.4,361.8 L341.5,359 L341.6,356.3 L341.7,353.5 L341.8,350.8 L341.9,348.1 L342,345.4 L342.2,342.7 L342.3,340 L342.5,337.2 L342.6,334.5 L342.7,331.8 L342.8,329.1 L342.7,326.4 L342.5,323.8 L342.3,321.3 L342.1,318.8 L341.9,316.3 L341.7,313.7 L341.5,311 L341.3,308.3 L341,305.6 L340.8,302.8 L340.6,300.1 L340.4,297.3 L340.2,294.6 L340.1,291.9 L340,289.3 L340,286.5 L340,283.8 L340.1,281.1 L340.1,278.3 L340.1,275.6 L340.2,272.9 L340.4,270.3 L340.7,267.9 L341.2,265.4 L341.7,262.9 L342.2,260.4 L342.7,257.9 L343.2,255.4 L343.7,252.9 L344.1,250.4 L344.6,247.9 L345,245.4 L345.5,242.9 L345.9,240.3 L346.2,237.8 L346.6,235.2 L346.9,232.6 L347.2,230 L347.6,227.4 L347.8,224.8 L348,222 L347.9,219.3 L347.7,216.7 L347.5,214.1 L347.2,211.6 L347,209 L346.7,206.5 L346.5,203.9 L346.2,201.4 L345.9,198.8 L345.7,196.2 L345.3,193.6 L344.9,190.8 L344.5,188.1 L344,185.3 L343.5,182.5 L343.1,179.8 L342.6,177.1 L342.2,174.4 L341.9,171.7 L341.6,169.1 L341.5,166.4 L341.4,163.7 L341.3,160.9 L341.2,158.2 L341.1,155.5 L341.1,152.7 L341,150.1 L340.9,147.5 L340.9,145 L340.9,142.5 L340.9,140 L340.8,137.5 L340.8,135 L340.8,132.5 L340.8,130 L340.7,127.5 L340.7,124.9 L340.7,122.3 L340.7,119.6 L340.7,116.9 L340.7,114.1 L340.7,111.4 L340.7,108.7 L340.5,105.9 L340.3,103.1 L340,100.4 L339.7,97.7 L339.3,95.1 L339,92.4 L338.6,89.8 L338.2,87.2 L337.8,84.6 L337.4,82.1 L337,79.7 L336.6,77.2 L336.3,74.8 L336.1,72.4 L335.9,69.9 L335.7,67.4 L335.5,64.9 L335.4,62.4 L335.3,59.9 L335.2,57.3 L335.2,54.7 L335.2,52 L335.2,49.3 L335.2,46.7 L335.2,44 L335.2,41.3 L335.2,38.7 L335.2,36Z"/><path d="M310.8,61.8 L313.3,63.4 L315.8,65.1 L318.5,66.9 L321.3,68.7 L324.2,70.6 L327.2,72.4 L330.1,74.2 L333,76 L335,72 L331.9,70.7 L328.9,69.3 L325.9,67.8 L323.2,66 L320.7,64.1 L318.6,61.9 L316.9,59.6 L315.2,57.2Z"/><path d="M368.4,74.6 L365.9,77.2 L363.5,79.7 L361.3,82 L359.1,84.1 L356.9,86 L354.7,87.8 L352.4,89.7 L350,91.6 L347.6,93.6 L345.2,95.7 L342.9,97.8 L340.6,100 L338.3,102.2 L336.1,104.4 L339.9,107.6 L341.7,105.1 L343.5,102.7 L345.4,100.3 L347.5,98 L349.7,95.9 L352,93.9 L354.3,92.1 L356.6,90.5 L359.1,89 L361.6,87.6 L364.2,86.3 L367.1,85 L370.3,83.7 L373.6,82.4Z"/><path d="M283.7,130.3 L286.3,131 L289,131.7 L291.6,132.4 L294.2,133.3 L296.8,134.4 L299.3,135.6 L301.6,136.8 L303.7,138.2 L305.8,139.5 L307.9,141 L309.9,142.6 L311.9,144.2 L313.8,145.9 L315.8,147.6 L317.9,149.4 L320.1,151.2 L322.6,153 L325.1,154.9 L327.6,156.7 L330.1,158.3 L332.4,159.9 L334.7,161.3 L337.3,156.7 L334.9,155.5 L332.5,154.2 L330,152.9 L327.5,151.3 L324.9,149.7 L322.5,148 L320.3,146.4 L318.2,144.7 L316.2,143.1 L314.1,141.5 L312.1,139.8 L310.1,138.2 L308.2,136.5 L306.2,134.8 L304.3,133.1 L302.4,131.3 L300.5,129.2 L298.5,127.1 L296.4,124.9 L294.4,122.7 L292.3,120.7 L290.3,118.7Z"/><path d="M346.3,205.5 L348.5,203.4 L350.8,201.4 L353.1,199.3 L355.4,197.3 L357.8,195.3 L360.1,193.3 L357.9,190.7 L355.6,192.7 L353.2,194.7 L350.9,196.7 L348.5,198.6 L346.1,200.6 L343.7,202.5Z"/><path d="M341.4,246.1 L338.9,245 L336.3,243.9 L333.8,242.7 L331.2,241.6 L328.7,240.5 L326.3,239.4 L323.8,238.4 L321.4,237.3 L318.9,236.3 L316.3,235.4 L313.8,234.6 L311.2,233.7 L308.7,232.9 L307.3,237.1 L309.8,238 L312.2,238.9 L314.7,239.9 L317,240.9 L319.4,241.9 L321.7,243 L324.1,244.2 L326.5,245.3 L328.9,246.5 L331.3,247.8 L333.7,249.1 L336.1,250.5 L338.6,251.9Z"/><path d="M341.6,308.2 L343.5,306.6 L345.5,304.9 L347.5,303.3 L349.5,301.5 L351.6,299.5 L353.8,297.5 L356,295.4 L358.1,293.3 L355.9,290.7 L353.5,292.6 L351.2,294.5 L348.9,296.4 L346.7,298.1 L344.6,299.6 L342.5,301 L340.5,302.4 L338.4,303.8Z"/><path d="M338.9,397 L337.6,394.3 L336.2,391.7 L334.9,389.1 L333.6,386.5 L332.4,384.1 L331.4,381.7 L330.5,379.4 L329.6,377.1 L328.8,374.7 L327.9,372.4 L327,370 L326.1,367.7 L325.3,365.3 L324.4,363 L323.5,360.6 L322.5,358.2 L321.5,355.7 L320.3,353.2 L319.1,350.7 L317.8,348.3 L316.6,345.8 L315.3,343.4 L314,340.9 L312.7,338.4 L311.2,336 L309.8,333.6 L308.3,331.2 L306.8,328.9 L305.5,326.5 L304.2,324.2 L303.1,321.9 L302.1,319.5 L301.2,317.2 L300.6,314.8 L300.3,312.3 L300.3,309.8 L300.4,307.3 L300.5,304.8 L300.8,302.1 L282.2,307.9 L284,310.2 L285.9,312.5 L287.8,314.8 L289.8,317 L291.6,319.2 L293.3,321.3 L294.9,323.5 L296.5,325.7 L298,327.9 L299.6,330.2 L301.2,332.5 L302.7,334.8 L304.2,337.1 L305.7,339.4 L307.1,341.7 L308.5,344 L309.8,346.3 L311.1,348.7 L312.4,351.1 L313.7,353.5 L315,355.9 L316.2,358.2 L317.2,360.5 L318.2,362.7 L319.1,365 L320.1,367.4 L321,369.7 L322,372 L322.9,374.3 L323.9,376.6 L324.9,378.9 L325.8,381.3 L326.9,383.7 L328,386.2 L329.3,388.7 L330.7,391.3 L332.2,393.9 L333.6,396.5 L335.1,399Z"/><path d="M364.8,659 L366.2,656.8 L367.5,654.6 L368.9,652.4 L370.2,650.2 L371.6,648.1 L372.9,645.9 L374.2,643.7 L375.6,641.5 L376.9,639.3 L378.3,637.1 L379.6,635 L381,632.8 L382.5,630.6 L383.9,628.4 L385.4,626.2 L386.9,624 L388.4,621.8 L389.9,619.6 L391.3,617.4 L392.8,615.1 L394.3,612.9 L395.7,610.6 L397.2,608.3 L398.6,606.1 L400,603.8 L401.3,601.6 L402.8,599.3 L404.2,597 L405.6,594.6 L406.9,592.1 L408.1,589.5 L409,586.9 L409.9,584.4 L410.8,582 L411.6,579.5 L404.4,576.5 L403.2,578.8 L402.1,581.2 L401,583.5 L399.8,585.7 L398.7,587.7 L397.4,589.8 L396,591.9 L394.6,594 L393.1,596.2 L391.6,598.4 L390.1,600.6 L388.6,602.8 L387.1,605 L385.7,607.1 L384.2,609.3 L382.7,611.4 L381.1,613.6 L379.6,615.8 L378.1,618 L376.6,620.2 L375.1,622.4 L373.5,624.6 L372,626.8 L370.5,629 L369,631.2 L367.6,633.4 L366.2,635.6 L364.8,637.8 L363.5,640 L362.1,642.1 L360.7,644.3 L359.3,646.5 L357.9,648.6 L356.5,650.8 L355.2,653Z"/><path d="M408.9,580.6 L409.4,577.9 L409.9,575.2 L410.4,572.6 L410.9,569.9 L411.4,567.2 L411.9,564.5 L412.4,561.9 L412.9,559.2 L413.4,556.6 L413.9,554 L414.5,551.4 L415,548.8 L415.5,546.2 L416.1,543.6 L416.6,541.1 L417.1,538.5 L417.7,535.9 L418.2,533.3 L418.8,530.7 L419.3,528.2 L419.8,525.6 L420.4,523 L420.9,520.5 L421.5,518 L422.1,515.5 L422.8,513 L423.4,510.5 L424,508 L424.6,505.5 L425.3,503 L425.9,500.5 L422.1,499.5 L421.5,502 L420.9,504.5 L420.2,507 L419.6,509.5 L419,512 L418.4,514.5 L417.7,517 L417.1,519.6 L416.5,522.1 L415.9,524.7 L415.3,527.3 L414.7,529.8 L414.1,532.4 L413.5,535 L412.9,537.5 L412.2,540.1 L411.6,542.7 L411,545.2 L410.4,547.8 L409.8,550.3 L409.2,552.9 L408.6,555.5 L408,558.2 L407.4,560.8 L406.8,563.5 L406.2,566.1 L405.6,568.8 L404.9,571.4 L404.3,574.1 L403.7,576.7 L403.1,579.4Z"/><path d="M352.5,845.5 L355.1,846.1 L357.6,846.7 L360.2,847.3 L362.8,847.9 L365.5,848.5 L368.2,849.2 L370.9,849.8 L373.7,850.5 L376.5,851.2 L379.3,851.9 L382.1,852.5 L384.9,853.2 L387.5,853.8 L390.1,854.4 L392.7,854.9 L395.2,855.5 L397.7,856.1 L400.3,856.6 L402.8,857.2 L405.5,857.7 L408.2,858.2 L410.9,858.6 L413.5,858.9 L416,859.2 L418.6,859.4 L421.1,859.7 L423.6,859.9 L426.1,860.2 L428.7,860.4 L431.3,860.7 L434,860.9 L436.8,861.1 L439.6,861.3 L442.4,861.6 L445.2,861.8 L448,862 L450.8,862.2 L453.5,862.5 L456.2,862.8 L458.9,863.2 L461.7,863.5 L464.4,863.9 L467.2,864.3 L469.9,864.7 L472.7,865 L475.4,865.5 L478.1,865.9 L480.9,866.5 L483.8,867 L486.6,867.5 L489.4,868.1 L492.1,868.7 L494.7,869.4 L497.3,870.2 L499.9,871 L502.6,871.9 L505.2,872.7 L507.8,873.5 L510.5,874.3 L513.1,875.1 L515.6,875.8 L518.2,876.5 L520.8,877.2 L523.3,877.9 L525.9,878.6 L528.4,879.3 L531,880 L531,880 L528.6,879 L526.1,877.9 L523.7,876.9 L521.2,875.8 L518.8,874.8 L516.4,873.7 L513.9,872.7 L511.5,871.6 L509,870.5 L506.5,869.3 L504,868.1 L501.5,867 L499,865.8 L496.4,864.7 L493.7,863.6 L490.9,862.7 L488,861.8 L485.2,861 L482.4,860.2 L479.6,859.5 L476.7,858.8 L473.9,858.1 L471.1,857.6 L468.3,857.1 L465.6,856.6 L462.8,856.1 L460.1,855.6 L457.3,855.1 L454.5,854.7 L451.6,854.3 L448.8,854 L446,853.7 L443.2,853.4 L440.4,853.2 L437.6,852.9 L434.8,852.6 L432.2,852.3 L429.6,852 L427,851.7 L424.5,851.4 L422,851.1 L419.5,850.8 L417,850.5 L414.5,850.2 L412.2,849.8 L409.8,849.4 L407.5,848.8 L405.2,848.1 L402.7,847.4 L400.3,846.6 L397.8,845.8 L395.3,845.1 L392.9,844.3 L390.4,843.5 L387.9,842.7 L385.3,841.8 L382.7,840.8 L380,839.8 L377.3,838.8 L374.6,837.8 L372.1,836.8 L369.6,835.8 L367.2,834.7 L364.8,833.7 L362.4,832.6 L359.9,831.5 L357.5,830.5Z"/><path d="M486.9,864.7 L489.1,863.3 L491.3,862 L493.5,860.7 L495.7,859.5 L498,858.3 L500.4,857.3 L502.8,856.3 L505.3,855.5 L507.9,854.8 L510.5,854.4 L513.3,853.9 L516,853.5 L516,853.5 L513.2,853.6 L510.5,853.7 L507.7,853.8 L505,854.1 L502.3,854.6 L499.7,855.2 L497.1,856 L494.5,856.9 L492.1,857.9 L489.7,859 L487.4,860.2 L485.1,861.3Z"/><path d="M442,861.4 L443.8,863.8 L445.7,866.3 L447.6,868.7 L449.5,871 L451.4,873.1 L453.4,875.1 L455.3,877 L457.3,878.9 L459.4,880.7 L461.7,882.2 L464.1,883.7 L466.5,885 L469,886.3 L471.6,887.6 L474.3,888.8 L477,890 L477,890 L474.4,888.5 L471.9,887 L469.4,885.5 L467.1,883.9 L465,882.3 L462.9,880.6 L461,878.9 L459.2,877 L457.5,875 L455.8,872.9 L454.2,870.8 L452.5,868.6 L450.9,866.2 L449.3,863.7 L447.7,861.2 L446,858.6Z"/><path d="M450.7,874.7 L452.1,876.8 L453.4,879 L454.7,881.1 L456.2,883.3 L457.7,885.5 L459.5,887.7 L461.5,890 L463.5,892.2 L465.5,894.5 L465.5,894.5 L463.8,892 L462,889.5 L460.4,887.1 L458.9,884.7 L457.6,882.4 L456.5,880.1 L455.4,877.8 L454.3,875.6 L453.3,873.3Z"/><path d="M351.3,899.4 L353.9,899.8 L356.5,900.1 L359,900.5 L361.6,900.8 L364.1,901.2 L366.7,901.6 L369.2,901.9 L371.8,902.3 L374.3,902.7 L376.9,903.1 L379.4,903.5 L382,903.9 L384.5,904.3 L387.1,904.7 L389.6,905.1 L392.2,905.6 L394.7,906 L397.2,906.4 L399.6,906.9 L402,907.4 L404.5,907.9 L407,908.4 L409.4,909 L411.9,909.5 L414.4,910 L416.8,910.5 L419.3,911.1 L421.7,911.6 L424.2,912.2 L426.7,912.8 L429.1,913.4 L431.7,914 L434.2,914.7 L436.7,915.4 L439.2,916 L441.7,916.7 L444.2,917.4 L446.7,918.2 L449.2,919.1 L451.7,920 L454.2,921 L456.8,921.9 L459.4,922.7 L462.1,923.4 L464.7,924 L467.3,924.6 L469.9,925.2 L472.5,925.8 L475.1,926.3 L477.7,926.9 L480.2,927.4 L482.7,928 L485.1,928.5 L487.6,929 L490.1,929.5 L492.5,930.1 L495,930.6 L495,930.6 L492.6,929.8 L490.2,929 L487.8,928.2 L485.4,927.4 L483,926.7 L480.6,925.9 L478.2,925.1 L475.7,924.2 L473.2,923.4 L470.7,922.5 L468.1,921.7 L465.6,920.8 L463.1,920 L460.6,919 L458.2,918.1 L455.8,917 L453.3,916 L450.8,914.9 L448.3,913.8 L445.8,912.8 L443.3,911.9 L440.8,911 L438.3,910.1 L435.8,909.3 L433.3,908.5 L430.9,907.6 L428.4,906.8 L425.9,906 L423.4,905.3 L420.9,904.6 L418.4,903.9 L416,903.3 L413.6,902.6 L411.1,901.9 L408.7,901.3 L406.2,900.6 L403.8,900 L401.3,899.3 L398.7,898.7 L396.2,898.2 L393.6,897.7 L391,897.2 L388.5,896.7 L385.9,896.2 L383.4,895.8 L380.8,895.3 L378.3,894.8 L375.7,894.4 L373.1,893.9 L370.5,893.5 L368,893.1 L365.4,892.7 L362.9,892.3 L360.3,891.8 L357.8,891.4 L355.2,891 L352.7,890.6Z"/><path d="M418.4,907.6 L421.4,906.7 L424.3,905.8 L427.2,904.9 L430.1,904.1 L432.8,903.3 L435.6,902.6 L438.3,902 L441,901.3 L441,901.3 L438.2,901.5 L435.4,901.7 L432.6,901.9 L429.7,902.2 L426.7,902.7 L423.7,903.2 L420.6,903.8 L417.6,904.4Z"/><path d="M454.2,922.2 L456.6,923.6 L459,925.1 L461.4,926.7 L463.6,928.4 L465.8,930.2 L468,932 L468,932 L466.2,929.8 L464.3,927.7 L462.3,925.6 L460.2,923.6 L458,921.7 L455.8,919.8Z"/><path d="M351.1,923.3 L353.7,924 L356.3,924.6 L358.9,925.3 L361.5,926 L364,926.7 L366.7,927.6 L369.3,928.6 L372,929.6 L374.5,930.7 L376.8,931.7 L379.1,932.8 L381.4,933.9 L383.9,935 L386.6,936 L389.5,936.8 L392.6,937.3 L395.8,937.6 L398.9,937.7 L401.9,937.7 L404.8,937.8 L407.7,938.1 L410.8,939 L413.9,940.3 L417,942 L417,942 L414.1,939.9 L411.2,938 L408.3,936.4 L405.2,935.2 L402.1,934.5 L399.1,934.2 L396.2,933.8 L393.4,933.2 L390.7,932.4 L388.2,931.5 L385.9,930.4 L383.8,929.2 L381.7,928 L379.4,926.7 L377,925.4 L374.4,924.1 L371.7,922.9 L368.9,921.7 L366.1,920.7 L363.4,919.7 L360.7,918.9 L358.1,918.2 L355.5,917.4 L352.9,916.7Z"/><path d="M351.4,972.5 L353.7,973.9 L356,975.3 L358.4,976.7 L360.8,978 L363.4,979.4 L365.9,980.8 L368.6,982.1 L371.3,983.4 L374.1,984.5 L376.9,985.6 L379.9,986.6 L382.9,987.6 L385.9,988.5 L389,989.4 L389,989.4 L386.1,988 L383.2,986.7 L380.5,985.2 L377.8,983.7 L375.3,982.1 L372.9,980.5 L370.5,978.9 L368.1,977.2 L365.7,975.6 L363.4,974 L361.2,972.3 L359,970.7 L356.8,969.1 L354.6,967.5Z"/><path d="M352.4,988.4 L350.6,990.6 L348.7,992.8 L346.8,995.2 L345.1,997.9 L343.4,1000.9 L341.8,1004.1 L340.2,1007.4 L340.2,1007.4 L342.4,1004.5 L344.7,1001.8 L346.9,999.4 L349.2,997.3 L351.3,995.3 L353.4,993.4 L355.6,991.6Z"/><path d="M342.6,854.5 L340,856.3 L337.6,858 L335.2,859.6 L332.9,861.1 L330.7,862.4 L328.4,863.8 L326.1,865.2 L323.8,866.6 L321.4,867.9 L319.1,869.3 L316.7,870.6 L314.3,871.9 L312,873.3 L309.7,874.5 L307.5,875.5 L305.2,876.5 L302.8,877.3 L300.3,878 L297.7,878.8 L295.2,879.6 L292.6,880.4 L290,881.1 L287.3,881.9 L284.6,882.6 L281.8,883.4 L278.9,884.1 L276.1,884.9 L273.3,885.7 L270.6,886.5 L267.9,887.3 L265.3,888.2 L262.6,889 L259.9,889.9 L257.3,890.8 L254.6,891.9 L252,893 L249.5,894.1 L246.9,895.3 L244.4,896.5 L241.9,897.7 L239.4,899 L236.9,900.3 L234.5,901.6 L232.1,902.9 L229.6,904.2 L227.3,905.5 L224.9,906.8 L222.6,908.2 L220.3,909.5 L218,910.8 L215.7,912.2 L213.3,913.5 L211,914.9 L208.7,916.2 L208.7,916.2 L211.1,915 L213.5,913.9 L215.9,912.7 L218.4,911.6 L220.8,910.4 L223.2,909.3 L225.6,908.1 L228,907 L230.5,905.9 L233,904.8 L235.5,903.8 L238.1,902.7 L240.6,901.7 L243.2,900.6 L245.7,899.7 L248.3,898.7 L250.9,897.9 L253.6,897 L256.2,896.2 L258.8,895.4 L261.4,894.7 L264.1,894 L266.7,893.3 L269.4,892.7 L272.1,892 L274.8,891.4 L277.6,890.8 L280.4,890.2 L283.2,889.6 L286.1,889 L288.9,888.4 L291.7,887.8 L294.4,887.2 L297.1,886.5 L299.7,885.9 L302.3,885.2 L304.9,884.6 L307.6,883.8 L310.4,883 L313.1,882 L315.7,880.9 L318.2,879.8 L320.7,878.7 L323.2,877.6 L325.7,876.5 L328.2,875.5 L330.7,874.4 L333.2,873.4 L335.7,872.3 L338.3,871.2 L341,869.9 L343.8,868.5 L346.6,867 L349.4,865.5Z"/><path d="M250.1,893.6 L247.3,893.5 L244.5,893.5 L241.7,893.4 L238.8,893.4 L236,893.4 L233.1,893.4 L230.2,893.5 L227.2,893.7 L224.3,893.8 L221.4,893.9 L221.4,893.9 L224.3,894.1 L227.2,894.2 L230.2,894.4 L233.1,894.6 L235.9,894.8 L238.7,895.1 L241.5,895.4 L244.3,895.7 L247.1,896.1 L249.9,896.4Z"/><path d="M285.1,884.8 L283.9,887.1 L282.6,889.4 L281.3,891.6 L280,893.9 L278.7,896 L277.3,898.2 L275.8,900.2 L274.3,902.3 L272.8,904.3 L271.2,906.4 L269.4,908.5 L267.7,910.7 L265.8,912.9 L264,915 L262.2,917.2 L262.2,917.2 L264.3,915.3 L266.4,913.4 L268.5,911.5 L270.5,909.6 L272.5,907.6 L274.4,905.7 L276.1,903.7 L277.8,901.8 L279.5,899.8 L281.1,897.8 L282.7,895.7 L284.3,893.5 L285.8,891.4 L287.3,889.3 L288.9,887.2Z"/><path d="M351.2,906.6 L347.7,907.2 L344.4,907.8 L341.3,908.5 L338.4,909.3 L335.7,910 L333,910.8 L330.4,911.6 L327.7,912.4 L325.1,913 L322.5,913.7 L319.9,914.3 L317.3,914.8 L314.7,915.4 L312.1,915.9 L309.5,916.5 L306.8,917.1 L304.1,917.7 L301.2,918.4 L298.2,919.2 L295.2,920 L292.2,921 L289.6,922.3 L287.2,923.7 L285,925.1 L282.9,926.5 L280.8,927.9 L278.6,929.3 L276.4,930.7 L274.2,932.1 L271.9,933.5 L269.7,934.9 L267.5,936.3 L265.3,937.7 L262.9,939.1 L260.6,940.5 L258.2,941.9 L255.8,943.2 L253.4,944.6 L251,946 L248.6,947.4 L248.6,947.4 L251.2,946.4 L253.8,945.4 L256.3,944.4 L258.9,943.3 L261.5,942.3 L264,941.3 L266.6,940.2 L269,939.1 L271.4,937.9 L273.8,936.8 L276.1,935.6 L278.5,934.5 L280.8,933.3 L283.2,932.2 L285.5,931.1 L287.8,930.1 L290,929.1 L292.2,928.2 L294.5,927.5 L297,926.9 L299.8,926.4 L302.7,925.9 L305.6,925.4 L308.3,924.9 L311,924.5 L313.6,924.1 L316.3,923.6 L318.9,923.2 L321.6,922.7 L324.3,922.3 L327,921.8 L329.7,921.3 L332.5,920.8 L335.3,920.3 L338,919.8 L340.7,919.3 L343.5,918.8 L346.3,918.4 L349.5,917.9 L352.8,917.4Z"/><path d="M297.4,920.4 L294.6,919.8 L291.8,919.2 L289,918.7 L286.1,918.1 L283.1,917.6 L280.1,917.1 L277,916.7 L273.9,916.2 L273.9,916.2 L276.9,917.1 L279.8,918.1 L282.8,919 L285.6,919.9 L288.4,920.9 L291.2,921.8 L293.9,922.7 L296.6,923.6Z"/><path d="M287.2,928.2 L286.1,931 L285.1,933.8 L284,936.6 L283,939.4 L282.1,942 L281.2,944.6 L280.4,947.1 L279.5,949.7 L278.7,952.2 L278.7,952.2 L280,949.9 L281.3,947.5 L282.5,945.2 L283.8,942.8 L285.2,940.3 L286.5,937.8 L287.9,935.1 L289.4,932.5 L290.8,929.8Z"/><path d="M349.1,930.6 L346.9,932.7 L344.7,934.7 L342.6,936.6 L340.5,938.3 L338.4,939.9 L336.3,941.4 L334.2,942.9 L332,944.3 L329.7,945.6 L327.4,946.9 L325,948.2 L322.7,949.5 L320.3,950.8 L318,952.1 L315.7,953.4 L313.4,954.6 L311.1,955.9 L308.8,957.2 L306.6,958.5 L304.2,959.9 L301.9,961.4 L299.6,963.1 L297.4,965 L295.1,966.9 L292.9,968.8 L290.7,970.7 L288.5,972.6 L288.5,972.6 L291.1,971.3 L293.7,970 L296.4,968.7 L299,967.4 L301.5,966.2 L304,965 L306.4,963.9 L308.8,962.9 L311.2,961.8 L313.5,960.7 L315.9,959.7 L318.4,958.6 L320.8,957.4 L323.2,956.2 L325.6,955 L328,953.8 L330.4,952.6 L332.8,951.4 L335.3,950.2 L337.7,948.9 L340.2,947.5 L342.6,946.1 L345,944.6 L347.4,942.9 L349.9,941.1 L352.4,939.3 L354.9,937.4Z"/><path d="M311.5,957.1 L310.2,959.7 L308.9,962.3 L307.5,965 L306.3,967.6 L305.2,970.4 L304.1,973.1 L303.1,975.9 L302.1,978.6 L301.1,981.4 L301.1,981.4 L302.5,978.8 L303.8,976.2 L305.2,973.6 L306.5,971 L308,968.5 L309.5,966.1 L311.1,963.7 L312.8,961.3 L314.5,958.9Z"/><path d="M338.1,398.9 L336.1,397.1 L334.2,395.3 L332.3,393.5 L330.4,391.7 L328.5,390 L326.6,388.2 L324.6,386.4 L322.7,384.6 L320.8,382.8 L319,381 L317.1,379.2 L315.3,377.3 L313.5,375.5 L311.7,373.6 L309.9,371.7 L308,369.8 L306.2,367.9 L304.4,366 L302.5,364.2 L300.6,362.4 L298.6,360.7 L296.6,359 L294.6,357.4 L292.6,355.9 L290.6,354.3 L288.6,352.7 L286.5,351.1 L284.5,349.5 L282.5,348 L280.5,346.4 L278.4,344.9 L276.4,343.5 L274.4,342 L272.3,340.6 L270.3,339.1 L268.2,337.7 L266.2,336.2 L264.2,334.8 L262.1,333.3 L260.1,331.9 L258,330.4 L256,329 L256,329 L258,330.6 L259.9,332.1 L261.9,333.7 L263.8,335.2 L265.8,336.8 L267.8,338.3 L269.7,339.9 L271.7,341.4 L273.6,343 L275.6,344.5 L277.6,346.1 L279.5,347.7 L281.5,349.3 L283.5,350.9 L285.5,352.5 L287.4,354.1 L289.4,355.7 L291.4,357.3 L293.4,359 L295.4,360.6 L297.3,362.2 L299.2,363.9 L301,365.7 L302.8,367.6 L304.6,369.5 L306.4,371.4 L308.1,373.3 L309.9,375.2 L311.7,377.1 L313.5,379.1 L315.3,381 L317.1,382.9 L319,384.7 L320.9,386.6 L322.8,388.4 L324.6,390.2 L326.5,392 L328.4,393.9 L330.3,395.7 L332.2,397.5 L334.1,399.3 L335.9,401.1Z"/><path d="M348,459.6 L349.9,458.1 L351.9,456.5 L353.8,454.9 L355.8,453.4 L357.8,451.8 L359.8,450.2 L362,448.6 L364.3,446.9 L366.6,445.2 L368.9,443.5 L371.2,441.7 L373.4,440 L375.6,438.3 L377.6,436.6 L379.7,434.8 L381.7,433.1 L383.7,431.4 L385.7,429.7 L387.7,428 L389.6,426.3 L391.6,424.7 L393.6,423 L395.6,421.4 L397.5,419.9 L399.5,418.3 L401.5,416.7 L403.5,415.1 L405.5,413.5 L407.4,412 L409.4,410.4 L411.4,408.9 L413.4,407.4 L415.5,405.9 L417.6,404.4 L419.6,402.9 L421.7,401.4 L423.7,399.9 L425.8,398.5 L427.9,397.2 L430.1,395.8 L432.4,394.5 L434.6,393.2 L436.9,391.9 L439.1,390.5 L441.4,389.2 L443.6,388 L445.8,386.8 L448.2,385.8 L450.6,384.8 L453,383.8 L455.5,382.8 L457.9,381.9 L460.4,380.9 L462.9,379.9 L465.4,378.8 L468,377.6 L470.5,376.3 L473,374.9 L475.5,373.6 L478,372.3 L480.3,371 L482.5,369.8 L484.7,368.5 L486.8,367.3 L489,366 L489,366 L486.8,367.1 L484.5,368.3 L482.3,369.4 L480,370.6 L477.7,371.7 L475.2,372.8 L472.5,373.9 L469.9,374.9 L467.3,375.9 L464.7,376.9 L462.1,377.8 L459.6,378.6 L457.1,379.4 L454.5,380.2 L452,380.9 L449.5,381.7 L446.9,382.6 L444.4,383.6 L441.9,384.7 L439.5,385.9 L437.2,387.1 L434.9,388.3 L432.6,389.6 L430.3,390.8 L428,392 L425.7,393.3 L423.4,394.7 L421.2,396.1 L419,397.6 L416.9,399.1 L414.9,400.6 L412.8,402.1 L410.7,403.7 L408.6,405.2 L406.6,406.7 L404.6,408.2 L402.5,409.8 L400.5,411.3 L398.5,412.9 L396.5,414.4 L394.5,415.9 L392.4,417.5 L390.4,419.1 L388.4,420.8 L386.4,422.5 L384.3,424.2 L382.3,425.9 L380.3,427.6 L378.3,429.3 L376.3,431 L374.4,432.6 L372.3,434.3 L370.3,436 L368.1,437.6 L365.8,439.2 L363.4,440.8 L361.1,442.5 L358.8,444.1 L356.5,445.6 L354.3,447.2 L352.2,448.6 L350.2,450.1 L348.1,451.5 L346.1,452.9 L344,454.4Z"/><path d="M354.2,549.1 L352.5,547.2 L350.8,545.3 L349.1,543.4 L347.4,541.6 L345.7,539.7 L344,537.8 L342.1,535.9 L340.2,534 L338.3,532.3 L336.4,530.6 L334.6,528.9 L332.7,527.2 L330.8,525.5 L328.8,523.8 L326.8,522 L324.8,520.3 L322.7,518.5 L320.7,516.7 L318.6,515 L316.6,513.2 L314.5,511.4 L312.5,509.6 L310.4,507.8 L308.4,506 L306.3,504.2 L304.2,502.4 L301.9,500.6 L299.6,499.1 L297.3,497.7 L295.1,496.5 L292.8,495.2 L290.6,494 L288.4,492.7 L286.2,491.5 L284,490.3 L281.8,489 L279.6,487.8 L277.4,486.6 L275.3,485.3 L273.1,484 L270.9,482.7 L268.7,481.3 L266.5,480 L264.2,478.7 L262,477.3 L259.8,476 L257.6,474.7 L255.4,473.4 L253.2,472 L251.1,470.7 L248.9,469.2 L246.7,467.8 L244.4,466.4 L242.2,465 L240,463.6 L237.8,462.2 L235.6,460.8 L233.4,459.3 L231.2,457.9 L228.9,456.5 L226.6,455.1 L224.3,453.8 L222,452.4 L219.6,451 L217.3,449.7 L215,448.3 L212.7,447 L210.3,445.6 L208,444.3 L205.7,443 L203.4,441.7 L201.1,440.6 L198.8,439.4 L196.6,438.3 L194.3,437.1 L192.1,436 L189.8,434.8 L187.5,433.7 L185.2,432.5 L182.8,431.5 L180.4,430.4 L178,429.3 L175.6,428.3 L173.2,427.2 L170.8,426.1 L168.4,425.1 L166,424 L166,424 L168.3,425.2 L170.7,426.4 L173,427.6 L175.4,428.7 L177.7,429.9 L180.1,431.1 L182.4,432.3 L184.7,433.5 L186.9,434.8 L189.1,436.1 L191.3,437.4 L193.5,438.7 L195.6,440 L197.8,441.3 L200,442.5 L202.2,443.9 L204.4,445.2 L206.6,446.6 L208.9,448 L211.1,449.4 L213.4,450.9 L215.7,452.3 L218,453.8 L220.2,455.2 L222.5,456.7 L224.8,458.1 L227,459.5 L229.2,461 L231.3,462.5 L233.5,464 L235.6,465.5 L237.8,467 L239.9,468.5 L242.1,469.9 L244.3,471.4 L246.4,472.9 L248.6,474.4 L250.8,475.9 L252.9,477.3 L255.1,478.8 L257.3,480.2 L259.4,481.6 L261.6,483 L263.7,484.4 L265.9,485.8 L268,487.2 L270.2,488.6 L272.4,490 L274.6,491.4 L276.7,492.7 L278.9,494 L281.1,495.4 L283.2,496.7 L285.4,498 L287.5,499.3 L289.7,500.6 L291.9,501.9 L294,503.2 L296,504.5 L297.9,505.9 L299.8,507.5 L301.7,509.3 L303.6,511.2 L305.6,513.1 L307.5,515 L309.5,516.9 L311.4,518.8 L313.4,520.7 L315.3,522.6 L317.3,524.5 L319.2,526.4 L321.1,528.3 L323,530.1 L324.9,531.9 L326.7,533.6 L328.6,535.4 L330.4,537.1 L332.2,538.8 L334,540.6 L335.7,542.3 L337.4,544 L339.2,545.8 L340.9,547.6 L342.6,549.4 L344.4,551.3 L346.1,553.1 L347.8,554.9Z"/><path d="M405.8,584.3 L408.1,583 L410.4,581.7 L412.7,580.4 L415,579.1 L417.3,577.7 L419.7,576.3 L422,574.9 L424.4,573.5 L426.8,572 L429.2,570.5 L431.6,568.9 L433.9,567.2 L436.1,565.5 L438.2,563.8 L440.3,562 L442.4,560.3 L444.5,558.6 L446.6,556.9 L448.8,555.2 L450.9,553.4 L453,551.7 L455.1,550 L457.2,548.2 L459.4,546.5 L461.5,544.6 L463.6,542.7 L465.5,540.7 L467.3,538.7 L469.1,536.6 L470.8,534.6 L472.6,532.6 L474.3,530.6 L476,528.5 L477.7,526.5 L479.4,524.5 L481.1,522.5 L482.8,520.4 L484.5,518.4 L486.2,516.4 L487.9,514.4 L489.6,512.3 L491.2,510.3 L492.9,508.3 L494.6,506.3 L496.3,504.2 L498,502.2 L499.7,500.3 L501.4,498.4 L503.1,496.5 L504.9,494.8 L506.8,493 L508.6,491.2 L510.5,489.5 L512.3,487.7 L514.2,485.9 L516.1,484.2 L518.2,482.5 L520.3,480.8 L522.4,479.1 L524.6,477.4 L526.8,475.7 L528.9,473.9 L531.1,472.2 L533.2,470.4 L535.2,468.6 L537.3,466.8 L539.3,465 L541.4,463.2 L543.5,461.5 L545.5,459.7 L547.6,458.1 L549.7,456.5 L551.9,454.9 L554,453.4 L556.1,451.8 L558.3,450.3 L560.5,448.9 L562.7,447.6 L564.9,446.4 L567.2,445.3 L569.4,444.1 L571.7,443 L573.9,441.9 L576.2,440.7 L578.4,439.6 L578.4,439.6 L576.1,440.7 L573.9,441.8 L571.6,443 L569.4,444.1 L567.1,445.2 L564.9,446.3 L562.6,447.5 L560.4,448.7 L558.1,450 L555.9,451.4 L553.6,452.7 L551.3,454.1 L549.1,455.5 L546.8,457 L544.6,458.5 L542.4,460.1 L540.2,461.8 L538.1,463.4 L535.9,465.1 L533.8,466.8 L531.6,468.5 L529.5,470.2 L527.3,471.8 L525.1,473.5 L522.9,475.1 L520.7,476.8 L518.5,478.5 L516.3,480.1 L514.1,481.8 L512.1,483.6 L510.2,485.3 L508.3,487 L506.4,488.8 L504.5,490.5 L502.6,492.2 L500.7,494 L498.8,495.9 L496.9,497.8 L495.2,499.8 L493.4,501.8 L491.7,503.7 L489.9,505.7 L488.2,507.7 L486.4,509.7 L484.7,511.6 L483,513.6 L481.2,515.6 L479.5,517.6 L477.7,519.5 L476,521.5 L474.2,523.5 L472.5,525.5 L470.7,527.4 L468.9,529.4 L467.2,531.4 L465.4,533.4 L463.6,535.3 L461.9,537.2 L460.1,539 L458.1,540.7 L456,542.4 L453.9,544.1 L451.7,545.8 L449.6,547.4 L447.4,549.1 L445.3,550.8 L443.1,552.5 L441,554.1 L438.8,555.8 L436.7,557.5 L434.5,559.1 L432.4,560.8 L430.3,562.4 L428.1,563.8 L425.9,565.2 L423.6,566.6 L421.2,567.9 L418.8,569.3 L416.4,570.5 L414,571.8 L411.7,572.9 L409.3,574.1 L407,575.3 L404.6,576.5 L402.2,577.7Z"/><path d="M362.7,669.1 L364.9,667.8 L367.1,666.5 L369.4,665.1 L371.6,663.8 L373.8,662.5 L376.1,661.1 L378.3,659.8 L380.5,658.5 L382.7,657.3 L384.8,656.1 L387,655.1 L389.3,654.2 L391.6,653.3 L394.1,652.4 L396.5,651.4 L398.9,650.5 L401.4,649.5 L403.9,648.4 L406.4,647.4 L408.9,646.3 L411.4,645.2 L413.9,644.2 L416.4,643.1 L418.8,642 L421.3,640.9 L423.8,639.9 L426.3,638.8 L428.9,637.6 L431.4,636.3 L433.8,634.9 L436.1,633.5 L438.3,632.1 L440.4,630.6 L442.5,629.2 L444.7,627.8 L446.8,626.4 L448.9,624.9 L451.1,623.5 L453.2,622.1 L455.3,620.7 L457.5,619.3 L459.6,617.8 L461.7,616.4 L463.9,615 L465.9,613.7 L468,612.4 L470.1,611.2 L472.4,610 L474.6,608.8 L477,607.6 L479.3,606.4 L481.6,605.2 L483.9,604 L486.2,602.8 L488.5,601.6 L490.8,600.4 L493.1,599.3 L495.4,598.3 L497.7,597.4 L500.2,596.6 L502.8,595.8 L505.4,595 L508,594.2 L510.6,593.4 L513.2,592.6 L515.7,591.8 L518.2,591 L520.7,590.5 L523,590 L525.4,589.7 L527.9,589.3 L530.4,589 L532.9,588.7 L535.4,588.4 L537.9,588.1 L540.3,587.9 L542.7,587.7 L545.2,587.5 L547.7,587.3 L550.2,587.2 L552.7,587 L555.2,586.9 L557.7,586.7 L560.2,586.6 L562.7,586.5 L565.1,586.3 L567.6,586.2 L570.1,586.2 L572.5,586.1 L575,586 L577.5,585.9 L580,585.9 L582.5,585.8 L585,585.7 L587.5,585.7 L590,585.6 L592.5,585.5 L595,585.4 L597.5,585.4 L599.9,585.4 L602.4,585.4 L604.8,585.5 L607.3,585.7 L609.8,585.8 L612.3,585.9 L614.8,586 L617.2,586.2 L619.6,586.5 L622,586.9 L624.4,587.5 L626.9,588.1 L629.5,588.7 L632,589.4 L634.5,590 L637,590.6 L639.5,591.2 L642,591.9 L644.6,592.5 L647.1,593.1 L649.6,593.7 L652.1,594.4 L654.6,595 L657.2,595.6 L659.7,596.2 L662.2,596.8 L664.7,597.3 L667.3,597.8 L669.8,598.3 L672.3,598.8 L674.8,599.3 L677.3,599.8 L679.9,600.3 L682.4,600.8 L684.9,601.3 L687.4,601.8 L689.9,602.4 L692.4,603.1 L694.9,603.8 L697.4,604.5 L699.9,605.3 L702.4,606 L704.8,606.8 L707.3,607.5 L709.8,608.3 L712.3,609 L714.8,609.8 L714.8,609.8 L712.3,609 L709.9,608.2 L707.4,607.4 L704.9,606.6 L702.4,605.8 L700,604.9 L697.5,604.1 L695,603.3 L692.6,602.5 L690.1,601.8 L687.6,601.1 L685.1,600.4 L682.6,599.7 L680.1,599 L677.7,598.4 L675.2,597.7 L672.7,597.1 L670.2,596.4 L667.7,595.7 L665.3,595.1 L662.8,594.4 L660.3,593.7 L657.8,593 L655.4,592.2 L652.9,591.5 L650.4,590.8 L647.9,590 L645.4,589.3 L643,588.5 L640.5,587.8 L638,587 L635.5,586.3 L633,585.5 L630.5,584.8 L628.1,584 L625.6,583.3 L623,582.6 L620.4,582 L617.8,581.5 L615.2,581.2 L612.7,581 L610.2,580.7 L607.7,580.5 L605.2,580.2 L602.6,580 L600.1,579.8 L597.5,579.7 L595,579.7 L592.5,579.7 L590,579.7 L587.5,579.7 L585,579.7 L582.5,579.7 L580,579.7 L577.5,579.7 L575,579.7 L572.5,579.7 L569.9,579.7 L567.4,579.7 L564.9,579.8 L562.3,579.9 L559.8,580 L557.3,580.2 L554.8,580.3 L552.3,580.5 L549.8,580.6 L547.3,580.8 L544.8,580.9 L542.3,581.1 L539.7,581.3 L537.1,581.6 L534.6,581.9 L532.1,582.2 L529.6,582.5 L527.1,582.8 L524.6,583.1 L521.9,583.5 L519.2,584 L516.5,584.7 L513.9,585.4 L511.2,586.2 L508.6,587 L506,587.8 L503.4,588.6 L500.8,589.4 L498.2,590.3 L495.5,591.1 L492.9,592.1 L490.3,593.2 L487.9,594.3 L485.5,595.4 L483.1,596.6 L480.8,597.7 L478.4,598.8 L476.1,600 L473.7,601.1 L471.4,602.2 L469,603.4 L466.6,604.6 L464.2,605.9 L461.9,607.3 L459.7,608.8 L457.6,610.3 L455.5,611.7 L453.4,613.2 L451.2,614.7 L449.1,616.2 L447,617.6 L444.9,619.1 L442.8,620.6 L440.7,622 L438.6,623.5 L436.5,625 L434.4,626.5 L432.4,627.9 L430.3,629.3 L428.2,630.5 L426,631.5 L423.7,632.5 L421.2,633.5 L418.7,634.5 L416.2,635.5 L413.6,636.5 L411.1,637.5 L408.6,638.5 L406.1,639.5 L403.6,640.5 L401.1,641.5 L398.7,642.4 L396.2,643.2 L393.8,644 L391.4,644.8 L388.9,645.6 L386.4,646.4 L383.9,647.2 L381.3,648.2 L378.8,649.2 L376.3,650.3 L373.9,651.4 L371.5,652.5 L369.2,653.5 L366.8,654.6 L364.4,655.7 L362.1,656.7 L359.7,657.8 L357.3,658.9Z"/><path d="M347.9,787 L345.9,785.5 L343.9,783.9 L341.9,782.3 L339.9,780.8 L337.9,779.2 L336,777.7 L334.1,776.1 L332.3,774.6 L330.5,772.9 L328.6,771.2 L326.7,769.5 L324.8,767.8 L322.9,766 L321,764.3 L318.9,762.4 L316.8,760.6 L314.6,758.8 L312.5,756.9 L310.3,755.1 L308.1,753.3 L305.9,751.4 L303.7,749.6 L301.5,747.9 L299.3,746.2 L297.1,744.5 L294.9,742.8 L292.7,741.2 L290.5,739.5 L288.3,737.9 L286,736.2 L283.8,734.6 L281.6,733 L279.4,731.4 L277.3,729.8 L275.2,728.2 L273.2,726.5 L271.2,724.7 L269.2,722.8 L267,720.9 L264.9,719 L262.7,717.2 L260.6,715.6 L258.5,714.1 L256.5,712.6 L254.4,711 L252.3,709.5 L250.2,707.9 L247.9,706.4 L245.7,704.9 L243.4,703.4 L241.2,701.8 L238.9,700.3 L236.7,698.8 L234.4,697.3 L232.2,695.8 L229.9,694.4 L227.8,692.9 L225.6,691.5 L223.5,690.2 L221.3,688.8 L219.2,687.4 L217,686 L214.9,684.6 L212.7,683.3 L210.6,681.9 L208.5,680.5 L206.4,679 L204.2,677.5 L202,675.9 L199.8,674.3 L197.6,672.6 L195.4,671 L193.2,669.3 L191.1,667.7 L189.1,666 L187.1,664.3 L185.2,662.6 L183.3,660.8 L181.5,659.1 L179.6,657.3 L177.7,655.5 L175.9,653.8 L174,652 L174,652 L175.6,654 L177.3,656 L178.9,658 L180.5,659.9 L182.2,661.9 L183.8,663.9 L185.5,665.9 L187.3,667.9 L189.2,669.8 L191.3,671.7 L193.3,673.5 L195.4,675.4 L197.4,677.2 L199.5,679.1 L201.5,680.9 L203.6,682.7 L205.7,684.3 L207.8,685.9 L209.8,687.5 L211.8,689 L213.9,690.5 L215.9,692.1 L218,693.6 L220,695.1 L222,696.7 L224.1,698.2 L226.2,699.7 L228.3,701.3 L230.5,702.9 L232.7,704.5 L234.9,706.1 L237.1,707.7 L239.2,709.3 L241.4,710.9 L243.6,712.5 L245.6,714.1 L247.6,715.7 L249.6,717.3 L251.5,718.9 L253.5,720.5 L255.4,722.1 L257.3,723.7 L259.1,725.4 L261,727.2 L262.8,729.2 L264.8,731.3 L266.8,733.4 L268.9,735.4 L271.1,737.4 L273.3,739.2 L275.4,741 L277.5,742.7 L279.6,744.5 L281.7,746.2 L283.8,747.9 L285.9,749.7 L288,751.4 L290.1,753.2 L292.2,755 L294.2,756.7 L296.3,758.5 L298.4,760.3 L300.5,762.2 L302.6,764 L304.7,765.9 L306.8,767.8 L308.9,769.6 L310.8,771.5 L312.7,773.2 L314.6,775 L316.4,776.7 L318.3,778.5 L320.1,780.3 L322,782.1 L324,783.9 L326,785.7 L328,787.4 L330.1,789.1 L332.1,790.7 L334.1,792.2 L336.1,793.8 L338.1,795.4 L340.1,797Z"/><path d="M427.8,397.5 L428.4,394.7 L429,391.9 L429.5,389.1 L430.1,386.3 L430.7,383.5 L431.3,380.7 L432,377.8 L432.6,375 L432.6,375 L431.4,377.7 L430.3,380.3 L429.1,383 L428,385.7 L427,388.4 L426,391.1 L425.1,393.8 L424.2,396.5Z"/><path d="M429.9,397.6 L432.9,397.7 L435.9,397.8 L438.9,397.8 L441.7,397.9 L444.5,398 L447.2,398.1 L449.9,398.2 L452.5,398.3 L455.2,398.4 L455.2,398.4 L452.6,397.9 L450,397.5 L447.3,397 L444.7,396.6 L441.9,396.1 L439.1,395.7 L436.1,395.2 L433.1,394.8 L430.1,394.4Z"/><path d="M463.3,380.5 L464.1,377.5 L464.9,374.6 L465.7,372 L466.5,369.4 L466.5,369.4 L464.9,371.6 L463.4,374 L462,376.7 L460.7,379.5Z"/><path d="M463.7,381.1 L466.7,381.6 L469.7,382 L472.4,382.4 L475.1,382.7 L477.7,383 L477.7,383 L475.2,382.3 L472.6,381.5 L469.9,380.7 L467.2,379.8 L464.3,378.9Z"/><path d="M197.9,440.7 L197.3,438.1 L196.8,435.6 L196.2,433 L195.7,430.4 L195.1,427.8 L194.5,425.2 L193.8,422.6 L193.1,420 L192.5,417.4 L191.8,414.8 L191.8,414.8 L192,417.5 L192.2,420.2 L192.4,422.8 L192.7,425.5 L192.9,428.2 L193.1,430.8 L193.4,433.4 L193.6,436 L193.9,438.7 L194.1,441.3Z"/><path d="M238,462.3 L237.1,459.8 L236.1,457.2 L235.2,454.7 L234.2,452.2 L233.2,449.6 L232.3,447.1 L231.3,444.6 L230.4,442.2 L229.5,439.7 L228.5,437.3 L227.6,434.9 L226.7,432.5 L225.6,430.1 L224.3,427.7 L222.8,425.5 L221,423.5 L219.1,421.5 L217.2,419.6 L215,417.9 L212.5,416.6 L209.9,415.5 L207.3,414.5 L204.6,413.6 L202,412.6 L202,412.6 L204.6,413.8 L207.1,415 L209.6,416.2 L212.1,417.5 L214.3,418.9 L216.2,420.6 L218,422.5 L219.8,424.5 L221.4,426.6 L222.8,428.7 L223.9,430.9 L224.7,433.2 L225.5,435.7 L226.3,438.1 L227.1,440.6 L227.9,443 L228.7,445.5 L229.4,448.1 L230.2,450.7 L230.9,453.3 L231.7,455.9 L232.4,458.5 L233.2,461.1 L234,463.7Z"/><path d="M228.1,429.7 L227.1,426.7 L226.1,423.8 L224.9,420.8 L223.7,417.8 L222.3,414.8 L222.3,414.8 L223.1,418 L223.8,421.1 L224.5,424.2 L225.2,427.3 L225.9,430.3Z"/><path d="M270.1,483.8 L269.7,481.2 L269.4,478.6 L269,476.1 L268.6,473.5 L268.2,471 L267.8,468.4 L267.3,465.7 L266.8,463.1 L266.2,460.4 L265.6,457.8 L265,455.1 L264.5,452.5 L263.8,449.9 L263.2,447.4 L262.6,444.9 L261.9,442.4 L261.3,439.9 L260.6,437.4 L260.6,437.4 L260.9,440 L261.2,442.5 L261.5,445.1 L261.8,447.6 L262.2,450.2 L262.5,452.9 L263,455.5 L263.4,458.2 L263.8,460.9 L264.2,463.5 L264.5,466.2 L264.8,468.8 L265,471.3 L265.1,473.9 L265.3,476.5 L265.5,479.1 L265.7,481.7 L265.9,484.2Z"/><path d="M237,463.1 L234.2,463.2 L231.5,463.3 L228.8,463.4 L226,463.5 L223.3,463.6 L220.5,463.7 L217.8,463.8 L215,463.8 L212.3,463.9 L209.6,464 L206.9,464.1 L204.2,464.1 L201.5,464.2 L198.7,464.3 L196,464.4 L193.3,464.4 L190.6,464.5 L190.6,464.5 L193.3,464.7 L196,464.9 L198.7,465 L201.4,465.2 L204.1,465.4 L206.9,465.6 L209.6,465.8 L212.3,466 L215,466.1 L217.7,466.2 L220.5,466.3 L223.2,466.4 L226,466.5 L228.8,466.6 L231.5,466.7 L234.2,466.8 L237,466.9Z"/><path d="M267.9,486.9 L265.4,487 L262.8,487.2 L260.3,487.4 L257.7,487.6 L255.1,487.8 L252.6,488 L250,488.2 L247.5,488.4 L244.9,488.7 L242.4,488.9 L239.9,489.2 L237.4,489.5 L234.9,489.9 L232.4,490.2 L229.9,490.5 L227.4,490.8 L224.9,491.1 L222.3,491.5 L219.7,491.8 L217.1,492.2 L214.6,492.5 L212,492.9 L209.4,493.2 L206.8,493.6 L204.2,493.9 L204.2,493.9 L206.8,493.8 L209.4,493.6 L212,493.5 L214.6,493.4 L217.3,493.3 L219.9,493.1 L222.5,493 L225,492.9 L227.6,492.7 L230.1,492.5 L232.6,492.3 L235.1,492.1 L237.6,492 L240.1,491.8 L242.6,491.6 L245.1,491.5 L247.6,491.4 L250.2,491.3 L252.7,491.3 L255.3,491.3 L257.9,491.3 L260.4,491.2 L263,491.2 L265.5,491.2 L268.1,491.1Z"/><path d="M189.5,434.7 L187,435.8 L184.6,437 L182.2,438 L179.8,439 L177.4,439.9 L174.9,440.6 L172.5,441.3 L170,442 L170,442 L172.5,441.7 L175.1,441.4 L177.6,441 L180.2,440.5 L182.8,439.8 L185.4,439 L188,438.2 L190.5,437.3Z"/><path d="M185.3,430.9 L182.6,430.4 L180,429.9 L177.4,429.4 L174.8,428.9 L172.2,428.3 L169.6,427.8 L167.1,427.2 L164.5,426.6 L162,426 L162,426 L164.5,426.9 L166.9,427.8 L169.4,428.7 L171.9,429.5 L174.4,430.3 L177,431 L179.6,431.7 L182.2,432.4 L184.7,433.1Z"/><path d="M498.9,498.7 L498.2,495.9 L497.5,493.2 L496.7,490.4 L495.9,487.6 L494.9,484.7 L493.8,481.7 L492.6,478.7 L492.6,478.7 L493,481.9 L493.4,485 L493.8,488.1 L494.2,491 L494.5,493.8 L494.8,496.6 L495.1,499.3Z"/><path d="M500.5,503.8 L503,503 L505.5,502.1 L508,501.3 L510.4,500.5 L512.9,499.6 L515.4,498.8 L517.8,498 L520.3,497.1 L522.8,496.3 L525.2,495.5 L527.7,494.7 L530.2,494 L532.7,493.2 L535.2,492.5 L537.8,491.9 L540.5,491.3 L543.2,490.8 L545.9,490.3 L548.6,489.7 L551.3,489.2 L551.3,489.2 L548.6,489.6 L545.8,490 L543.1,490.4 L540.4,490.8 L537.7,491.2 L535,491.7 L532.4,492.2 L529.8,492.7 L527.3,493.3 L524.8,493.8 L522.2,494.4 L519.7,494.9 L517.2,495.6 L514.6,496.2 L512.1,496.9 L509.6,497.5 L507,498.2 L504.5,498.9 L502,499.5 L499.5,500.2Z"/><path d="M532.9,466.8 L532.5,464.3 L532,461.8 L531.5,459.3 L531,456.7 L530.3,454.1 L529.6,451.3 L528.8,448.6 L528.8,448.6 L528.8,451.4 L528.8,454.3 L528.9,457 L528.9,459.6 L529,462.2 L529,464.7 L529.1,467.2Z"/><path d="M535.2,469.6 L537.7,469.2 L540.2,468.7 L542.7,468.3 L545.2,467.8 L547.7,467.4 L550.3,467 L553.1,466.6 L556,466.2 L559,465.9 L561.9,465.5 L564.9,465.2 L564.9,465.2 L561.9,465.2 L558.9,465.2 L555.9,465.1 L553,465.2 L550.1,465.2 L547.4,465.3 L544.9,465.5 L542.3,465.7 L539.8,465.9 L537.3,466.2 L534.8,466.4Z"/><path d="M560.4,448.8 L559.5,445.8 L558.8,442.8 L558.1,439.7 L557.4,436.6 L557.4,436.6 L557.4,439.8 L557.4,443 L557.5,446.1 L557.6,449.2Z"/><path d="M502.3,590.5 L502.8,587.9 L503.2,585.3 L503.6,582.7 L504.1,580.1 L504.5,577.5 L504.9,574.9 L505.3,572.2 L505.6,569.6 L505.9,566.8 L506.2,564.1 L506.4,561.4 L506.7,558.7 L506.7,558.7 L505.9,561.3 L505.1,563.9 L504.3,566.5 L503.5,569.1 L502.7,571.7 L501.9,574.2 L501.2,576.8 L500.5,579.3 L499.8,581.9 L499.1,584.4 L498.4,586.9 L497.7,589.5Z"/><path d="M505.6,569 L508,567.4 L510.5,565.8 L512.9,564.3 L515.3,563.1 L517.9,562.1 L520.5,561.4 L523.1,560.7 L525.8,560 L528.5,559.4 L528.5,559.4 L525.8,559.8 L523.1,560.2 L520.3,560.6 L517.6,561.1 L514.9,561.9 L512.2,562.9 L509.6,564.2 L507,565.6 L504.4,567Z"/><path d="M555.5,582.4 L556.7,580.1 L558,577.7 L559.2,575.4 L560.4,573 L561.6,570.7 L562.8,568.3 L564,566 L565.2,563.6 L566.4,561.3 L567.7,559 L568.9,556.6 L570.2,554.3 L571.4,551.9 L572.7,549.5 L574,547.2 L575.3,544.8 L576.6,542.4 L577.8,540 L579.1,537.7 L580.4,535.3 L580.4,535.3 L578.8,537.5 L577.2,539.6 L575.6,541.8 L574,544 L572.4,546.1 L570.8,548.3 L569.2,550.5 L567.6,552.7 L566,554.8 L564.5,557.1 L563,559.3 L561.6,561.6 L560.2,563.8 L558.8,566.1 L557.4,568.3 L556,570.6 L554.6,572.8 L553.2,575.1 L551.9,577.3 L550.5,579.6Z"/><path d="M566.5,560.8 L569.2,560.1 L571.9,559.3 L574.6,558.5 L577.3,557.7 L580,556.9 L582.6,556.2 L585.2,555.5 L587.7,555 L590.2,554.5 L592.7,554.1 L595.2,553.6 L597.7,553.2 L600.1,552.8 L602.6,552.4 L605.1,552 L607.6,551.7 L610.1,551.4 L612.6,551.1 L615,550.9 L617.5,550.6 L620,550.4 L622.5,550.2 L625,550 L627.5,549.9 L630,549.9 L632.6,549.9 L635.1,549.8 L637.6,549.8 L640.1,549.8 L642.7,549.8 L645.2,549.8 L645.2,549.8 L642.7,549.7 L640.2,549.6 L637.6,549.5 L635.1,549.5 L632.6,549.4 L630.1,549.3 L627.5,549.2 L625,549.2 L622.5,549.3 L620,549.4 L617.5,549.5 L615,549.6 L612.4,549.7 L609.9,549.9 L607.4,550 L604.9,550.2 L602.4,550.4 L599.9,550.7 L597.3,551 L594.8,551.4 L592.3,551.7 L589.8,552 L587.2,552.3 L584.6,552.8 L581.9,553.3 L579.2,553.9 L576.4,554.6 L573.7,555.2 L571,555.9 L568.2,556.5 L565.5,557.2Z"/><path d="M603.7,551.6 L605.3,549.5 L607,547.4 L608.7,545.3 L610.4,543.1 L612.3,540.7 L614.2,538.3 L616.1,535.9 L618,533.4 L618,533.4 L615.9,535.7 L613.9,538.1 L611.8,540.4 L609.8,542.5 L607.9,544.6 L606,546.6 L604.2,548.5 L602.3,550.4Z"/><path d="M612.8,583.3 L615.3,582.2 L617.8,581.2 L620.3,580.2 L622.8,579.2 L625.3,578.2 L627.9,577.2 L630.4,576.1 L632.9,575.1 L635.4,574.1 L637.9,573.2 L640.4,572.3 L643,571.5 L645.6,570.8 L648.3,570.2 L651,569.5 L653.7,568.9 L656.4,568.2 L659.1,567.6 L661.8,566.9 L664.5,566.3 L664.5,566.3 L661.8,566.7 L659,567.1 L656.3,567.5 L653.5,567.9 L650.8,568.3 L648,568.7 L645.3,569.1 L642.5,569.5 L639.8,570.1 L637.1,570.8 L634.5,571.5 L631.9,572.3 L629.3,573.1 L626.7,573.9 L624.1,574.7 L621.5,575.5 L618.9,576.3 L616.4,577.1 L613.8,577.9 L611.2,578.7Z"/><path d="M618.9,588.8 L621.2,590.1 L623.4,591.4 L625.7,592.6 L628,593.9 L630.2,595.2 L632.5,596.4 L634.8,597.7 L637,598.9 L639.3,600.2 L641.6,601.4 L643.8,602.5 L646.1,603.7 L648.4,604.8 L650.6,606 L652.9,607.1 L655.2,608.3 L657.5,609.4 L659.8,610.6 L662.3,611.7 L664.8,612.8 L667.3,613.9 L669.9,615 L672.4,616.2 L674.9,617.3 L677.5,618.4 L680,619.5 L680,619.5 L677.5,618.2 L675.1,617 L672.6,615.7 L670.1,614.5 L667.7,613.2 L665.2,611.9 L662.8,610.7 L660.4,609.4 L658.2,608.1 L656,606.8 L653.8,605.5 L651.6,604.2 L649.4,603 L647.2,601.7 L645,600.4 L642.9,599.1 L640.7,597.7 L638.5,596.4 L636.4,595 L634.2,593.6 L632,592.2 L629.8,590.8 L627.6,589.4 L625.5,588 L623.3,586.6 L621.1,585.2Z"/><path d="M641.1,601.2 L641.9,603.7 L642.6,606.2 L643.4,608.7 L644.1,611.1 L644.8,613.6 L645.5,616.1 L646.2,618.6 L646.7,621.1 L647.3,623.5 L647.9,626 L648.4,628.5 L649,631 L649,631 L648.6,628.5 L648.1,626 L647.7,623.5 L647.3,620.9 L646.8,618.4 L646.3,615.9 L645.8,613.4 L645.2,610.9 L644.6,608.3 L644,605.8 L643.5,603.3 L642.9,600.8Z"/><path d="M564.6,592 L566.8,593.4 L569,594.7 L571.1,596.1 L573.3,597.5 L575.4,598.9 L577.6,600.2 L579.8,601.6 L581.9,603 L584.1,604.4 L586.3,605.9 L588.6,607.3 L590.9,608.8 L593.1,610.3 L595.4,611.8 L597.7,613.3 L599.9,614.8 L602.2,616.2 L604.5,617.7 L606.8,619.1 L609.2,620.4 L611.5,621.8 L613.8,623.1 L616.1,624.4 L618.4,625.8 L620.7,627.1 L623.1,628.4 L625.4,629.8 L627.7,631.1 L627.7,631.1 L625.5,629.6 L623.3,628.1 L621,626.6 L618.8,625.2 L616.6,623.7 L614.4,622.2 L612.1,620.7 L609.9,619.2 L607.7,617.7 L605.5,616.2 L603.3,614.6 L601.2,613 L599,611.4 L596.8,609.8 L594.6,608.1 L592.5,606.5 L590.3,604.9 L588.1,603.3 L586,601.7 L583.9,600.1 L581.8,598.6 L579.7,597.1 L577.7,595.6 L575.6,594.1 L573.5,592.6 L571.5,591 L569.4,589.5 L567.4,588Z"/><path d="M597.3,611.6 L599,613.5 L600.7,615.4 L602.3,617.4 L604,619.4 L605.7,621.5 L607.3,623.8 L609,626.2 L610.6,628.6 L612.3,631.1 L612.3,631.1 L610.8,628.5 L609.3,626 L607.8,623.4 L606.3,621 L604.8,618.8 L603.3,616.6 L601.7,614.6 L600.2,612.5 L598.7,610.4Z"/><path d="M191.6,663 L190.1,660.8 L188.6,658.5 L187.1,656.3 L185.5,654.1 L184,651.9 L182.5,649.6 L181,647.4 L179.6,645.1 L178.1,642.9 L176.7,640.6 L175.2,638.3 L173.8,636 L172.3,633.7 L172.3,633.7 L173.4,636.2 L174.5,638.6 L175.6,641.1 L176.8,643.6 L177.9,646.1 L179.1,648.5 L180.4,650.9 L181.7,653.3 L183,655.6 L184.4,658 L185.7,660.3 L187.1,662.7 L188.4,665Z"/><path d="M186.7,659.8 L184.4,658.7 L182.2,657.5 L179.9,656.4 L177.6,655.4 L175.2,654.4 L172.7,653.6 L170.2,652.9 L167.7,652.2 L165.1,651.5 L162.6,650.9 L162.6,650.9 L165,651.9 L167.4,652.9 L169.9,653.9 L172.2,654.9 L174.5,656 L176.7,657.1 L178.9,658.4 L181,659.7 L183.2,660.9 L185.3,662.2Z"/><path d="M185.9,665.6 L183.4,666 L180.9,666.4 L178.4,666.7 L175.9,667.1 L173.3,667.4 L170.7,667.8 L168,668.1 L168,668.1 L170.7,668.4 L173.3,668.6 L176,668.7 L178.6,668.7 L181.1,668.6 L183.6,668.5 L186.1,668.4Z"/><path d="M226.4,691.6 L225.8,688.8 L225.2,686.1 L224.6,683.4 L224,680.6 L223.4,677.9 L222.8,675.2 L222.2,672.4 L221.5,669.7 L220.8,667.1 L220,664.5 L219.1,661.9 L218.3,659.4 L217.5,656.8 L216.6,654.3 L215.7,651.8 L214.6,649.4 L213.4,647 L212.2,644.6 L211,642.3 L211,642.3 L211.8,644.8 L212.6,647.3 L213.3,649.8 L214.1,652.3 L214.7,654.9 L215.4,657.5 L216,660 L216.6,662.6 L217.2,665.2 L217.8,667.8 L218.3,670.4 L218.8,673.1 L219.2,675.8 L219.6,678.6 L220,681.4 L220.4,684.1 L220.8,686.9 L221.2,689.7 L221.6,692.4Z"/><path d="M254.4,712 L254.3,709.2 L254.2,706.5 L254.1,703.8 L254,701 L253.9,698.2 L253.8,695.5 L253.7,692.8 L253.6,690.1 L253.5,687.5 L253.3,684.9 L253.1,682.4 L252.9,679.9 L252.8,677.4 L252.6,675 L252.4,672.5 L252.2,670 L252.1,667.4 L251.8,664.8 L251.6,662.1 L251.3,659.4 L251,656.6 L250.6,653.8 L250.3,651.1 L250,648.3 L249.7,645.5 L249.7,645.5 L249.8,648.3 L249.8,651.1 L249.9,653.9 L249.9,656.7 L250,659.5 L250,662.2 L250.1,664.9 L250.1,667.5 L250.2,670 L250.2,672.5 L250.2,675 L250.2,677.6 L250.3,680.1 L250.3,682.6 L250.3,685.1 L250.3,687.6 L250.3,690.1 L250.2,692.8 L250.2,695.5 L250.1,698.3 L250,701 L249.9,703.8 L249.8,706.5 L249.7,709.2 L249.6,712Z"/><path d="M213.7,687.9 L210.9,688.4 L208.1,689 L205.4,689.5 L202.6,690.1 L199.9,690.8 L197.3,691.6 L194.8,692.4 L192.4,693.3 L190,694.2 L187.6,695.1 L185.2,696 L185.2,696 L187.7,695.6 L190.3,695.1 L192.8,694.7 L195.3,694.2 L197.8,693.8 L200.4,693.5 L203.1,693.2 L205.9,692.9 L208.7,692.6 L211.5,692.4 L214.3,692.1Z"/><path d="M245.4,711.9 L242.7,712.9 L239.9,713.8 L237.1,714.8 L234.4,715.8 L231.6,716.8 L229,718 L226.3,719.2 L223.7,720.4 L221.1,721.7 L218.5,722.9 L218.5,722.9 L221.3,722.2 L224.1,721.5 L226.9,720.8 L229.7,720 L232.5,719.4 L235.3,718.7 L238.1,718 L240.9,717.4 L243.7,716.7 L246.6,716.1Z"/><path d="M272.1,726.4 L272.5,723.7 L272.9,721 L273.2,718.3 L273.6,715.6 L274,712.9 L274.3,710.2 L274.5,707.6 L274.7,704.9 L274.9,702.3 L275,699.6 L275.2,697 L275.3,694.3 L275.5,691.7 L275.5,691.7 L274.9,694.3 L274.4,696.9 L273.8,699.5 L273.3,702 L272.7,704.6 L272.2,707.2 L271.6,709.8 L271,712.4 L270.4,715 L269.8,717.7 L269.1,720.3 L268.5,723 L267.9,725.6Z"/><path d="M261.2,733.3 L258.7,734.7 L256.3,736.1 L253.9,737.5 L251.3,738.8 L248.5,740 L245.4,741.2 L245.4,741.2 L248.7,741 L251.9,740.6 L254.9,739.9 L257.6,738.9 L260.3,737.8 L262.8,736.7Z"/></g>
<g fill="url(#gStem)"><path d="M331.8,36 L331.8,38.7 L331.8,41.3 L331.8,44 L331.8,46.7 L331.8,49.3 L331.8,52 L331.8,54.7 L331.8,57.3 L331.8,59.9 L331.8,62.5 L331.8,65.1 L331.8,67.6 L331.8,70.1 L331.9,72.6 L332,75.2 L332.3,77.8 L332.7,80.3 L333.1,82.9 L333.5,85.4 L333.9,87.9 L334.3,90.4 L334.6,93 L335,95.6 L335.3,98.3 L335.6,100.9 L335.9,103.6 L336.1,106.2 L336.3,108.8 L336.3,111.4 L336.3,114.1 L336.3,116.9 L336.3,119.6 L336.3,122.3 L336.3,124.9 L336.3,127.5 L336.2,130 L336.2,132.5 L336.2,135 L336.2,137.5 L336.1,140 L336.1,142.5 L336.1,145 L336.1,147.5 L336.1,150.1 L336.1,152.8 L336.1,155.6 L336.1,158.3 L336.2,161.1 L336.2,163.8 L336.2,166.6 L336.3,169.4 L336.5,172.3 L336.9,175.1 L337.4,177.9 L337.9,180.7 L338.5,183.5 L339,186.2 L339.5,188.9 L340,191.6 L340.4,194.3 L340.8,196.8 L341.1,199.3 L341.3,201.9 L341.6,204.4 L341.8,207 L342.1,209.5 L342.3,212.1 L342.6,214.6 L342.8,217.1 L343,219.6 L343.1,222 L343,224.4 L342.7,226.9 L342.4,229.4 L342.1,232 L341.7,234.5 L341.4,237.1 L341,239.6 L340.6,242.1 L340.2,244.6 L339.7,247.1 L339.3,249.6 L338.8,252.1 L338.4,254.6 L338,257.1 L337.5,259.6 L337.1,262.1 L336.7,264.6 L336.3,267.2 L336,269.9 L335.8,272.7 L335.6,275.4 L335.5,278.2 L335.4,280.9 L335.3,283.7 L335.2,286.5 L335.2,289.2 L335.2,292.1 L335.2,294.9 L335.4,297.7 L335.5,300.4 L335.7,303.2 L335.8,305.9 L336,308.7 L336.1,311.4 L336.3,314.1 L336.4,316.7 L336.6,319.2 L336.7,321.7 L336.8,324.2 L336.9,326.6 L337,329.1 L337,331.7 L337,334.3 L336.9,337 L336.9,339.8 L336.8,342.5 L336.8,345.2 L336.8,347.9 L336.7,350.7 L336.7,353.5 L336.7,356.2 L336.7,359 L336.7,361.7 L336.6,364.5 L336.6,367.2 L336.6,369.8 L336.5,372.4 L336.4,374.9 L336.3,377.4 L336.2,379.9 L336.1,382.4 L336,384.9 L335.9,387.4 L335.7,389.9 L335.6,392.4 L335.5,394.9 L335.4,397.4 L335.3,399.9 L335.1,402.4 L335.1,405 L335.1,407.5 L335.1,410 L335.2,412.6 L335.2,415.1 L335.3,417.6 L335.4,420.2 L335.7,422.8 L336,425.4 L336.3,427.9 L336.6,430.4 L336.9,432.9 L337.2,435.5 L337.6,438 L338,440.6 L338.4,443.3 L339,445.9 L339.5,448.5 L340.1,451.1 L340.6,453.7 L341.1,456.3 L341.7,458.8 L342.2,461.5 L342.7,464.2 L343.2,466.9 L343.7,469.7 L344.2,472.4 L344.7,475.2 L345.2,477.9 L345.7,480.5 L346.1,483 L346.4,485.5 L346.7,488 L347.1,490.5 L347.4,493 L347.7,495.4 L348.1,497.9 L348.3,500.4 L348.5,502.9 L348.6,505.4 L348.7,508.1 L348.7,510.7 L348.8,513.3 L348.9,516 L349,518.6 L349.1,521.3 L349.2,523.9 L349.3,526.6 L349.3,529.2 L349.4,531.8 L349.5,534.4 L349.5,536.9 L349.4,539.3 L349.2,541.8 L349,544.4 L348.8,546.9 L348.5,549.4 L348.3,552 L348.1,554.5 L347.9,557.1 L347.7,559.6 L347.5,562.2 L347.3,564.8 L347.3,567.5 L347.2,570 L347.2,572.6 L347.2,575.1 L347.2,577.7 L347.2,580.2 L347.1,582.7 L347.1,585.3 L347.1,587.8 L347.1,590.4 L347.1,592.9 L347.1,595.5 L347.1,598.2 L347.3,600.8 L347.4,603.4 L347.6,605.9 L347.8,608.4 L348,610.9 L348.2,613.5 L348.4,616 L348.7,618.7 L349,621.4 L349.4,624.1 L349.8,626.8 L350.2,629.4 L350.6,632.1 L350.9,634.8 L351.3,637.5 L351.7,640.2 L352.2,642.9 L352.6,645.6 L353.1,648.2 L353.6,650.9 L354,653.4 L354.5,655.9 L354.8,658.1 L354.9,660.2 L354.8,662.2 L354.5,664.6 L354.1,667.3 L353.6,670 L353.2,672.8 L352.8,675.5 L352.3,678.1 L351.8,680.6 L351.1,683.1 L350.4,685.6 L349.6,688.1 L348.8,690.7 L347.9,693.3 L347.1,696 L346.3,698.7 L345.7,701.4 L345,704.1 L344.5,706.6 L343.9,709.2 L343.4,711.7 L342.8,714.3 L342.2,716.9 L341.7,719.5 L341.2,722.1 L340.7,724.8 L340.3,727.5 L339.9,730.1 L339.5,732.7 L339.1,735.3 L338.7,737.9 L338.4,740.6 L338,743.2 L337.6,745.8 L337.2,748.4 L336.8,751.1 L336.5,753.8 L336.2,756.7 L336.1,759.5 L336.1,762.2 L336.1,764.8 L336.1,767.4 L336.2,770 L336.2,772.5 L336.2,775.2 L336.3,778 L336.6,780.9 L337,783.9 L337.5,786.7 L338,789.3 L338.4,791.9 L338.9,794.5 L339.4,797 L339.8,799.6 L340.3,802.1 L340.8,804.6 L341.2,807 L341.6,809.3 L342.1,811.7 L342.7,814.2 L343.2,816.9 L343.7,819.3 L344.1,821.5 L344.3,823.7 L344.4,826.1 L344.5,828.7 L344.6,831.4 L344.7,834.1 L344.7,836.8 L344.7,839.3 L344.6,841.8 L344.5,844.2 L344.3,846.7 L344.1,849.2 L343.9,851.8 L343.8,854.3 L343.6,856.8 L343.4,859.3 L343.2,862 L343.1,864.7 L343,867.4 L342.9,870.1 L342.9,872.8 L342.9,875.6 L343.1,878.6 L343.4,881.6 L343.8,884.7 L344.3,887.7 L344.8,890.5 L345.2,893.1 L345.5,895.7 L345.9,898.2 L346.2,900.7 L346.6,903.2 L346.9,905.6 L347.2,908 L347.5,910.3 L347.7,912.6 L347.9,915 L348.1,917.5 L348.2,920.1 L348.4,922.7 L348.6,925.2 L348.8,927.8 L348.9,930.4 L349.1,933 L349.2,935.6 L349.3,938.1 L349.4,940.7 L349.5,943.2 L349.6,945.8 L349.7,948.4 L349.8,950.9 L350,953.6 L350.2,956.3 L350.5,959 L350.9,961.8 L351.3,964.6 L351.7,967.3 L352.1,970.1 L352.5,972.8 L352.8,975.5 L353.1,978.2 L353.2,981 L353.2,983.9 L353.2,986.8 L353.1,989.6 L353,992.3 L352.9,994.9 L352.7,997.4 L352.6,999.9 L352.5,1002.4 L352.3,1005 L352.2,1007.6 L352.1,1010.2 L352,1012.8 L351.9,1015.5 L351.8,1018.1 L351.7,1020.7 L351.6,1023.4 L351.5,1026 L351.5,1026 L351.8,1023.4 L352,1020.8 L352.3,1018.1 L352.6,1015.5 L352.9,1012.9 L353.2,1010.3 L353.4,1007.7 L353.8,1005.1 L354.1,1002.6 L354.5,1000.1 L354.9,997.6 L355.3,995.1 L355.7,992.6 L356.1,989.9 L356.5,987.1 L356.9,984.1 L357.2,981.1 L357.3,978.1 L357.3,975.1 L357,972.2 L356.6,969.4 L356.3,966.7 L356,963.9 L355.6,961.2 L355.3,958.5 L355.1,955.9 L355.1,953.4 L355.1,950.8 L355.1,948.3 L355.2,945.8 L355.3,943.2 L355.3,940.6 L355.4,938.1 L355.5,935.6 L355.6,933 L355.9,930.5 L356.2,928 L356.5,925.5 L356.8,922.9 L357.1,920.4 L357.5,917.8 L357.8,915.2 L358,912.5 L358.2,909.8 L358.1,907 L357.8,904.4 L357.6,901.8 L357.3,899.3 L357,896.8 L356.7,894.3 L356.4,891.7 L356.2,889.1 L355.9,886.2 L355.7,883.3 L355.5,880.5 L355.3,877.8 L355.3,875.3 L355.3,872.8 L355.3,870.3 L355.4,867.8 L355.5,865.4 L355.8,863.1 L356.1,860.7 L356.5,858.2 L356.9,855.7 L357.3,853.2 L357.6,850.8 L358,848.3 L358.4,845.7 L358.8,843.2 L359.2,840.5 L359.5,837.7 L359.9,835 L360.3,832.3 L360.6,829.6 L361,826.7 L361.2,823.7 L361.3,820.4 L361.1,817.1 L360.8,813.9 L360.3,811 L359.8,808 L359.1,805 L358.2,802.2 L357.1,799.6 L356,797.2 L355,794.8 L353.9,792.4 L352.8,790.1 L351.7,787.7 L350.7,785.4 L349.6,783.1 L348.7,781 L348.1,779 L347.6,776.9 L347.4,774.6 L347.3,772.1 L347.1,769.6 L347,767 L346.8,764.5 L346.7,762 L346.6,759.6 L346.6,757.3 L346.8,754.9 L347.1,752.5 L347.5,749.9 L347.9,747.3 L348.3,744.7 L348.7,742.1 L349,739.4 L349.4,736.8 L349.8,734.2 L350.2,731.6 L350.6,729 L351,726.4 L351.4,723.9 L351.8,721.4 L352.3,718.9 L352.8,716.4 L353.3,713.8 L353.8,711.3 L354.3,708.7 L354.8,706.2 L355.4,703.7 L356,701.3 L356.7,698.9 L357.5,696.4 L358.4,693.9 L359.3,691.3 L360.2,688.7 L361.1,686 L361.9,683.2 L362.6,680.3 L363.2,677.5 L363.8,674.7 L364.4,672 L364.9,669.2 L365.5,666.4 L366,663.3 L366.1,660 L365.8,656.8 L365.2,653.8 L364.5,651.1 L363.9,648.6 L363.2,646 L362.5,643.5 L361.9,641 L361.4,638.5 L360.9,635.9 L360.4,633.2 L359.9,630.6 L359.4,627.9 L358.9,625.2 L358.4,622.6 L357.9,620 L357.5,617.5 L357.1,615 L356.8,612.6 L356.5,610.1 L356.2,607.6 L355.9,605.1 L355.6,602.6 L355.3,600.2 L355.1,597.8 L355,595.4 L355,592.9 L355,590.4 L355,587.9 L355,585.3 L355,582.8 L355.1,580.3 L355.1,577.7 L355.1,575.2 L355.1,572.6 L355.1,570.1 L355.2,567.6 L355.2,565.2 L355.3,562.7 L355.5,560.2 L355.6,557.7 L355.8,555.1 L356,552.6 L356.1,550 L356.3,547.5 L356.5,544.9 L356.7,542.3 L356.8,539.7 L356.9,537 L356.9,534.3 L356.8,531.6 L356.7,528.9 L356.6,526.3 L356.5,523.7 L356.4,521 L356.3,518.4 L356.2,515.7 L356.1,513.1 L356,510.4 L355.9,507.8 L355.8,505.1 L355.7,502.5 L355.5,499.8 L355.2,497.1 L354.9,494.6 L354.6,492 L354.3,489.5 L354,487 L353.7,484.5 L353.4,481.9 L353,479.3 L352.5,476.6 L352,473.8 L351.5,471.1 L351,468.3 L350.5,465.6 L350,462.8 L349.4,460.1 L348.8,457.3 L348.2,454.7 L347.5,452 L346.8,449.5 L346.2,446.9 L345.5,444.4 L344.8,441.9 L344.3,439.4 L343.7,437 L343.3,434.5 L342.9,432.1 L342.4,429.6 L342,427.1 L341.6,424.6 L341.2,422.2 L340.9,419.8 L340.7,417.4 L340.6,414.9 L340.5,412.4 L340.5,410 L340.5,407.5 L340.4,405 L340.5,402.6 L340.5,400.1 L340.5,397.6 L340.6,395.1 L340.6,392.6 L340.7,390.1 L340.7,387.6 L340.8,385.1 L340.9,382.6 L340.9,380.1 L341,377.6 L341.1,375.1 L341.1,372.5 L341.2,369.9 L341.3,367.3 L341.4,364.5 L341.4,361.8 L341.5,359 L341.6,356.3 L341.7,353.5 L341.8,350.8 L341.9,348.1 L342,345.4 L342.2,342.7 L342.3,340 L342.5,337.2 L342.6,334.5 L342.7,331.8 L342.8,329.1 L342.7,326.4 L342.5,323.8 L342.3,321.3 L342.1,318.8 L341.9,316.3 L341.7,313.7 L341.5,311 L341.3,308.3 L341,305.6 L340.8,302.8 L340.6,300.1 L340.4,297.3 L340.2,294.6 L340.1,291.9 L340,289.3 L340,286.5 L340,283.8 L340.1,281.1 L340.1,278.3 L340.1,275.6 L340.2,272.9 L340.4,270.3 L340.7,267.9 L341.2,265.4 L341.7,262.9 L342.2,260.4 L342.7,257.9 L343.2,255.4 L343.7,252.9 L344.1,250.4 L344.6,247.9 L345,245.4 L345.5,242.9 L345.9,240.3 L346.2,237.8 L346.6,235.2 L346.9,232.6 L347.2,230 L347.6,227.4 L347.8,224.8 L348,222 L347.9,219.3 L347.7,216.7 L347.5,214.1 L347.2,211.6 L347,209 L346.7,206.5 L346.5,203.9 L346.2,201.4 L345.9,198.8 L345.7,196.2 L345.3,193.6 L344.9,190.8 L344.5,188.1 L344,185.3 L343.5,182.5 L343.1,179.8 L342.6,177.1 L342.2,174.4 L341.9,171.7 L341.6,169.1 L341.5,166.4 L341.4,163.7 L341.3,160.9 L341.2,158.2 L341.1,155.5 L341.1,152.7 L341,150.1 L340.9,147.5 L340.9,145 L340.9,142.5 L340.9,140 L340.8,137.5 L340.8,135 L340.8,132.5 L340.8,130 L340.7,127.5 L340.7,124.9 L340.7,122.3 L340.7,119.6 L340.7,116.9 L340.7,114.1 L340.7,111.4 L340.7,108.7 L340.5,105.9 L340.3,103.1 L340,100.4 L339.7,97.7 L339.3,95.1 L339,92.4 L338.6,89.8 L338.2,87.2 L337.8,84.6 L337.4,82.1 L337,79.7 L336.6,77.2 L336.3,74.8 L336.1,72.4 L335.9,69.9 L335.7,67.4 L335.5,64.9 L335.4,62.4 L335.3,59.9 L335.2,57.3 L335.2,54.7 L335.2,52 L335.2,49.3 L335.2,46.7 L335.2,44 L335.2,41.3 L335.2,38.7 L335.2,36Z"/><path d="M310.8,61.8 L313.3,63.4 L315.8,65.1 L318.5,66.9 L321.3,68.7 L324.2,70.6 L327.2,72.4 L330.1,74.2 L333,76 L335,72 L331.9,70.7 L328.9,69.3 L325.9,67.8 L323.2,66 L320.7,64.1 L318.6,61.9 L316.9,59.6 L315.2,57.2Z"/><path d="M368.4,74.6 L365.9,77.2 L363.5,79.7 L361.3,82 L359.1,84.1 L356.9,86 L354.7,87.8 L352.4,89.7 L350,91.6 L347.6,93.6 L345.2,95.7 L342.9,97.8 L340.6,100 L338.3,102.2 L336.1,104.4 L339.9,107.6 L341.7,105.1 L343.5,102.7 L345.4,100.3 L347.5,98 L349.7,95.9 L352,93.9 L354.3,92.1 L356.6,90.5 L359.1,89 L361.6,87.6 L364.2,86.3 L367.1,85 L370.3,83.7 L373.6,82.4Z"/><path d="M283.7,130.3 L286.3,131 L289,131.7 L291.6,132.4 L294.2,133.3 L296.8,134.4 L299.3,135.6 L301.6,136.8 L303.7,138.2 L305.8,139.5 L307.9,141 L309.9,142.6 L311.9,144.2 L313.8,145.9 L315.8,147.6 L317.9,149.4 L320.1,151.2 L322.6,153 L325.1,154.9 L327.6,156.7 L330.1,158.3 L332.4,159.9 L334.7,161.3 L337.3,156.7 L334.9,155.5 L332.5,154.2 L330,152.9 L327.5,151.3 L324.9,149.7 L322.5,148 L320.3,146.4 L318.2,144.7 L316.2,143.1 L314.1,141.5 L312.1,139.8 L310.1,138.2 L308.2,136.5 L306.2,134.8 L304.3,133.1 L302.4,131.3 L300.5,129.2 L298.5,127.1 L296.4,124.9 L294.4,122.7 L292.3,120.7 L290.3,118.7Z"/><path d="M346.3,205.5 L348.5,203.4 L350.8,201.4 L353.1,199.3 L355.4,197.3 L357.8,195.3 L360.1,193.3 L357.9,190.7 L355.6,192.7 L353.2,194.7 L350.9,196.7 L348.5,198.6 L346.1,200.6 L343.7,202.5Z"/><path d="M341.4,246.1 L338.9,245 L336.3,243.9 L333.8,242.7 L331.2,241.6 L328.7,240.5 L326.3,239.4 L323.8,238.4 L321.4,237.3 L318.9,236.3 L316.3,235.4 L313.8,234.6 L311.2,233.7 L308.7,232.9 L307.3,237.1 L309.8,238 L312.2,238.9 L314.7,239.9 L317,240.9 L319.4,241.9 L321.7,243 L324.1,244.2 L326.5,245.3 L328.9,246.5 L331.3,247.8 L333.7,249.1 L336.1,250.5 L338.6,251.9Z"/><path d="M341.6,308.2 L343.5,306.6 L345.5,304.9 L347.5,303.3 L349.5,301.5 L351.6,299.5 L353.8,297.5 L356,295.4 L358.1,293.3 L355.9,290.7 L353.5,292.6 L351.2,294.5 L348.9,296.4 L346.7,298.1 L344.6,299.6 L342.5,301 L340.5,302.4 L338.4,303.8Z"/><path d="M338.9,397 L337.6,394.3 L336.2,391.7 L334.9,389.1 L333.6,386.5 L332.4,384.1 L331.4,381.7 L330.5,379.4 L329.6,377.1 L328.8,374.7 L327.9,372.4 L327,370 L326.1,367.7 L325.3,365.3 L324.4,363 L323.5,360.6 L322.5,358.2 L321.5,355.7 L320.3,353.2 L319.1,350.7 L317.8,348.3 L316.6,345.8 L315.3,343.4 L314,340.9 L312.7,338.4 L311.2,336 L309.8,333.6 L308.3,331.2 L306.8,328.9 L305.5,326.5 L304.2,324.2 L303.1,321.9 L302.1,319.5 L301.2,317.2 L300.6,314.8 L300.3,312.3 L300.3,309.8 L300.4,307.3 L300.5,304.8 L300.8,302.1 L282.2,307.9 L284,310.2 L285.9,312.5 L287.8,314.8 L289.8,317 L291.6,319.2 L293.3,321.3 L294.9,323.5 L296.5,325.7 L298,327.9 L299.6,330.2 L301.2,332.5 L302.7,334.8 L304.2,337.1 L305.7,339.4 L307.1,341.7 L308.5,344 L309.8,346.3 L311.1,348.7 L312.4,351.1 L313.7,353.5 L315,355.9 L316.2,358.2 L317.2,360.5 L318.2,362.7 L319.1,365 L320.1,367.4 L321,369.7 L322,372 L322.9,374.3 L323.9,376.6 L324.9,378.9 L325.8,381.3 L326.9,383.7 L328,386.2 L329.3,388.7 L330.7,391.3 L332.2,393.9 L333.6,396.5 L335.1,399Z"/><path d="M364.8,659 L366.2,656.8 L367.5,654.6 L368.9,652.4 L370.2,650.2 L371.6,648.1 L372.9,645.9 L374.2,643.7 L375.6,641.5 L376.9,639.3 L378.3,637.1 L379.6,635 L381,632.8 L382.5,630.6 L383.9,628.4 L385.4,626.2 L386.9,624 L388.4,621.8 L389.9,619.6 L391.3,617.4 L392.8,615.1 L394.3,612.9 L395.7,610.6 L397.2,608.3 L398.6,606.1 L400,603.8 L401.3,601.6 L402.8,599.3 L404.2,597 L405.6,594.6 L406.9,592.1 L408.1,589.5 L409,586.9 L409.9,584.4 L410.8,582 L411.6,579.5 L404.4,576.5 L403.2,578.8 L402.1,581.2 L401,583.5 L399.8,585.7 L398.7,587.7 L397.4,589.8 L396,591.9 L394.6,594 L393.1,596.2 L391.6,598.4 L390.1,600.6 L388.6,602.8 L387.1,605 L385.7,607.1 L384.2,609.3 L382.7,611.4 L381.1,613.6 L379.6,615.8 L378.1,618 L376.6,620.2 L375.1,622.4 L373.5,624.6 L372,626.8 L370.5,629 L369,631.2 L367.6,633.4 L366.2,635.6 L364.8,637.8 L363.5,640 L362.1,642.1 L360.7,644.3 L359.3,646.5 L357.9,648.6 L356.5,650.8 L355.2,653Z"/><path d="M408.9,580.6 L409.4,577.9 L409.9,575.2 L410.4,572.6 L410.9,569.9 L411.4,567.2 L411.9,564.5 L412.4,561.9 L412.9,559.2 L413.4,556.6 L413.9,554 L414.5,551.4 L415,548.8 L415.5,546.2 L416.1,543.6 L416.6,541.1 L417.1,538.5 L417.7,535.9 L418.2,533.3 L418.8,530.7 L419.3,528.2 L419.8,525.6 L420.4,523 L420.9,520.5 L421.5,518 L422.1,515.5 L422.8,513 L423.4,510.5 L424,508 L424.6,505.5 L425.3,503 L425.9,500.5 L422.1,499.5 L421.5,502 L420.9,504.5 L420.2,507 L419.6,509.5 L419,512 L418.4,514.5 L417.7,517 L417.1,519.6 L416.5,522.1 L415.9,524.7 L415.3,527.3 L414.7,529.8 L414.1,532.4 L413.5,535 L412.9,537.5 L412.2,540.1 L411.6,542.7 L411,545.2 L410.4,547.8 L409.8,550.3 L409.2,552.9 L408.6,555.5 L408,558.2 L407.4,560.8 L406.8,563.5 L406.2,566.1 L405.6,568.8 L404.9,571.4 L404.3,574.1 L403.7,576.7 L403.1,579.4Z"/><path d="M352.5,845.5 L355.1,846.1 L357.6,846.7 L360.2,847.3 L362.8,847.9 L365.5,848.5 L368.2,849.2 L370.9,849.8 L373.7,850.5 L376.5,851.2 L379.3,851.9 L382.1,852.5 L384.9,853.2 L387.5,853.8 L390.1,854.4 L392.7,854.9 L395.2,855.5 L397.7,856.1 L400.3,856.6 L402.8,857.2 L405.5,857.7 L408.2,858.2 L410.9,858.6 L413.5,858.9 L416,859.2 L418.6,859.4 L421.1,859.7 L423.6,859.9 L426.1,860.2 L428.7,860.4 L431.3,860.7 L434,860.9 L436.8,861.1 L439.6,861.3 L442.4,861.6 L445.2,861.8 L448,862 L450.8,862.2 L453.5,862.5 L456.2,862.8 L458.9,863.2 L461.7,863.5 L464.4,863.9 L467.2,864.3 L469.9,864.7 L472.7,865 L475.4,865.5 L478.1,865.9 L480.9,866.5 L483.8,867 L486.6,867.5 L489.4,868.1 L492.1,868.7 L494.7,869.4 L497.3,870.2 L499.9,871 L502.6,871.9 L505.2,872.7 L507.8,873.5 L510.5,874.3 L513.1,875.1 L515.6,875.8 L518.2,876.5 L520.8,877.2 L523.3,877.9 L525.9,878.6 L528.4,879.3 L531,880 L531,880 L528.6,879 L526.1,877.9 L523.7,876.9 L521.2,875.8 L518.8,874.8 L516.4,873.7 L513.9,872.7 L511.5,871.6 L509,870.5 L506.5,869.3 L504,868.1 L501.5,867 L499,865.8 L496.4,864.7 L493.7,863.6 L490.9,862.7 L488,861.8 L485.2,861 L482.4,860.2 L479.6,859.5 L476.7,858.8 L473.9,858.1 L471.1,857.6 L468.3,857.1 L465.6,856.6 L462.8,856.1 L460.1,855.6 L457.3,855.1 L454.5,854.7 L451.6,854.3 L448.8,854 L446,853.7 L443.2,853.4 L440.4,853.2 L437.6,852.9 L434.8,852.6 L432.2,852.3 L429.6,852 L427,851.7 L424.5,851.4 L422,851.1 L419.5,850.8 L417,850.5 L414.5,850.2 L412.2,849.8 L409.8,849.4 L407.5,848.8 L405.2,848.1 L402.7,847.4 L400.3,846.6 L397.8,845.8 L395.3,845.1 L392.9,844.3 L390.4,843.5 L387.9,842.7 L385.3,841.8 L382.7,840.8 L380,839.8 L377.3,838.8 L374.6,837.8 L372.1,836.8 L369.6,835.8 L367.2,834.7 L364.8,833.7 L362.4,832.6 L359.9,831.5 L357.5,830.5Z"/><path d="M486.9,864.7 L489.1,863.3 L491.3,862 L493.5,860.7 L495.7,859.5 L498,858.3 L500.4,857.3 L502.8,856.3 L505.3,855.5 L507.9,854.8 L510.5,854.4 L513.3,853.9 L516,853.5 L516,853.5 L513.2,853.6 L510.5,853.7 L507.7,853.8 L505,854.1 L502.3,854.6 L499.7,855.2 L497.1,856 L494.5,856.9 L492.1,857.9 L489.7,859 L487.4,860.2 L485.1,861.3Z"/><path d="M442,861.4 L443.8,863.8 L445.7,866.3 L447.6,868.7 L449.5,871 L451.4,873.1 L453.4,875.1 L455.3,877 L457.3,878.9 L459.4,880.7 L461.7,882.2 L464.1,883.7 L466.5,885 L469,886.3 L471.6,887.6 L474.3,888.8 L477,890 L477,890 L474.4,888.5 L471.9,887 L469.4,885.5 L467.1,883.9 L465,882.3 L462.9,880.6 L461,878.9 L459.2,877 L457.5,875 L455.8,872.9 L454.2,870.8 L452.5,868.6 L450.9,866.2 L449.3,863.7 L447.7,861.2 L446,858.6Z"/><path d="M450.7,874.7 L452.1,876.8 L453.4,879 L454.7,881.1 L456.2,883.3 L457.7,885.5 L459.5,887.7 L461.5,890 L463.5,892.2 L465.5,894.5 L465.5,894.5 L463.8,892 L462,889.5 L460.4,887.1 L458.9,884.7 L457.6,882.4 L456.5,880.1 L455.4,877.8 L454.3,875.6 L453.3,873.3Z"/><path d="M351.3,899.4 L353.9,899.8 L356.5,900.1 L359,900.5 L361.6,900.8 L364.1,901.2 L366.7,901.6 L369.2,901.9 L371.8,902.3 L374.3,902.7 L376.9,903.1 L379.4,903.5 L382,903.9 L384.5,904.3 L387.1,904.7 L389.6,905.1 L392.2,905.6 L394.7,906 L397.2,906.4 L399.6,906.9 L402,907.4 L404.5,907.9 L407,908.4 L409.4,909 L411.9,909.5 L414.4,910 L416.8,910.5 L419.3,911.1 L421.7,911.6 L424.2,912.2 L426.7,912.8 L429.1,913.4 L431.7,914 L434.2,914.7 L436.7,915.4 L439.2,916 L441.7,916.7 L444.2,917.4 L446.7,918.2 L449.2,919.1 L451.7,920 L454.2,921 L456.8,921.9 L459.4,922.7 L462.1,923.4 L464.7,924 L467.3,924.6 L469.9,925.2 L472.5,925.8 L475.1,926.3 L477.7,926.9 L480.2,927.4 L482.7,928 L485.1,928.5 L487.6,929 L490.1,929.5 L492.5,930.1 L495,930.6 L495,930.6 L492.6,929.8 L490.2,929 L487.8,928.2 L485.4,927.4 L483,926.7 L480.6,925.9 L478.2,925.1 L475.7,924.2 L473.2,923.4 L470.7,922.5 L468.1,921.7 L465.6,920.8 L463.1,920 L460.6,919 L458.2,918.1 L455.8,917 L453.3,916 L450.8,914.9 L448.3,913.8 L445.8,912.8 L443.3,911.9 L440.8,911 L438.3,910.1 L435.8,909.3 L433.3,908.5 L430.9,907.6 L428.4,906.8 L425.9,906 L423.4,905.3 L420.9,904.6 L418.4,903.9 L416,903.3 L413.6,902.6 L411.1,901.9 L408.7,901.3 L406.2,900.6 L403.8,900 L401.3,899.3 L398.7,898.7 L396.2,898.2 L393.6,897.7 L391,897.2 L388.5,896.7 L385.9,896.2 L383.4,895.8 L380.8,895.3 L378.3,894.8 L375.7,894.4 L373.1,893.9 L370.5,893.5 L368,893.1 L365.4,892.7 L362.9,892.3 L360.3,891.8 L357.8,891.4 L355.2,891 L352.7,890.6Z"/><path d="M418.4,907.6 L421.4,906.7 L424.3,905.8 L427.2,904.9 L430.1,904.1 L432.8,903.3 L435.6,902.6 L438.3,902 L441,901.3 L441,901.3 L438.2,901.5 L435.4,901.7 L432.6,901.9 L429.7,902.2 L426.7,902.7 L423.7,903.2 L420.6,903.8 L417.6,904.4Z"/><path d="M454.2,922.2 L456.6,923.6 L459,925.1 L461.4,926.7 L463.6,928.4 L465.8,930.2 L468,932 L468,932 L466.2,929.8 L464.3,927.7 L462.3,925.6 L460.2,923.6 L458,921.7 L455.8,919.8Z"/><path d="M351.1,923.3 L353.7,924 L356.3,924.6 L358.9,925.3 L361.5,926 L364,926.7 L366.7,927.6 L369.3,928.6 L372,929.6 L374.5,930.7 L376.8,931.7 L379.1,932.8 L381.4,933.9 L383.9,935 L386.6,936 L389.5,936.8 L392.6,937.3 L395.8,937.6 L398.9,937.7 L401.9,937.7 L404.8,937.8 L407.7,938.1 L410.8,939 L413.9,940.3 L417,942 L417,942 L414.1,939.9 L411.2,938 L408.3,936.4 L405.2,935.2 L402.1,934.5 L399.1,934.2 L396.2,933.8 L393.4,933.2 L390.7,932.4 L388.2,931.5 L385.9,930.4 L383.8,929.2 L381.7,928 L379.4,926.7 L377,925.4 L374.4,924.1 L371.7,922.9 L368.9,921.7 L366.1,920.7 L363.4,919.7 L360.7,918.9 L358.1,918.2 L355.5,917.4 L352.9,916.7Z"/><path d="M351.4,972.5 L353.7,973.9 L356,975.3 L358.4,976.7 L360.8,978 L363.4,979.4 L365.9,980.8 L368.6,982.1 L371.3,983.4 L374.1,984.5 L376.9,985.6 L379.9,986.6 L382.9,987.6 L385.9,988.5 L389,989.4 L389,989.4 L386.1,988 L383.2,986.7 L380.5,985.2 L377.8,983.7 L375.3,982.1 L372.9,980.5 L370.5,978.9 L368.1,977.2 L365.7,975.6 L363.4,974 L361.2,972.3 L359,970.7 L356.8,969.1 L354.6,967.5Z"/><path d="M352.4,988.4 L350.6,990.6 L348.7,992.8 L346.8,995.2 L345.1,997.9 L343.4,1000.9 L341.8,1004.1 L340.2,1007.4 L340.2,1007.4 L342.4,1004.5 L344.7,1001.8 L346.9,999.4 L349.2,997.3 L351.3,995.3 L353.4,993.4 L355.6,991.6Z"/><path d="M342.6,854.5 L340,856.3 L337.6,858 L335.2,859.6 L332.9,861.1 L330.7,862.4 L328.4,863.8 L326.1,865.2 L323.8,866.6 L321.4,867.9 L319.1,869.3 L316.7,870.6 L314.3,871.9 L312,873.3 L309.7,874.5 L307.5,875.5 L305.2,876.5 L302.8,877.3 L300.3,878 L297.7,878.8 L295.2,879.6 L292.6,880.4 L290,881.1 L287.3,881.9 L284.6,882.6 L281.8,883.4 L278.9,884.1 L276.1,884.9 L273.3,885.7 L270.6,886.5 L267.9,887.3 L265.3,888.2 L262.6,889 L259.9,889.9 L257.3,890.8 L254.6,891.9 L252,893 L249.5,894.1 L246.9,895.3 L244.4,896.5 L241.9,897.7 L239.4,899 L236.9,900.3 L234.5,901.6 L232.1,902.9 L229.6,904.2 L227.3,905.5 L224.9,906.8 L222.6,908.2 L220.3,909.5 L218,910.8 L215.7,912.2 L213.3,913.5 L211,914.9 L208.7,916.2 L208.7,916.2 L211.1,915 L213.5,913.9 L215.9,912.7 L218.4,911.6 L220.8,910.4 L223.2,909.3 L225.6,908.1 L228,907 L230.5,905.9 L233,904.8 L235.5,903.8 L238.1,902.7 L240.6,901.7 L243.2,900.6 L245.7,899.7 L248.3,898.7 L250.9,897.9 L253.6,897 L256.2,896.2 L258.8,895.4 L261.4,894.7 L264.1,894 L266.7,893.3 L269.4,892.7 L272.1,892 L274.8,891.4 L277.6,890.8 L280.4,890.2 L283.2,889.6 L286.1,889 L288.9,888.4 L291.7,887.8 L294.4,887.2 L297.1,886.5 L299.7,885.9 L302.3,885.2 L304.9,884.6 L307.6,883.8 L310.4,883 L313.1,882 L315.7,880.9 L318.2,879.8 L320.7,878.7 L323.2,877.6 L325.7,876.5 L328.2,875.5 L330.7,874.4 L333.2,873.4 L335.7,872.3 L338.3,871.2 L341,869.9 L343.8,868.5 L346.6,867 L349.4,865.5Z"/><path d="M250.1,893.6 L247.3,893.5 L244.5,893.5 L241.7,893.4 L238.8,893.4 L236,893.4 L233.1,893.4 L230.2,893.5 L227.2,893.7 L224.3,893.8 L221.4,893.9 L221.4,893.9 L224.3,894.1 L227.2,894.2 L230.2,894.4 L233.1,894.6 L235.9,894.8 L238.7,895.1 L241.5,895.4 L244.3,895.7 L247.1,896.1 L249.9,896.4Z"/><path d="M285.1,884.8 L283.9,887.1 L282.6,889.4 L281.3,891.6 L280,893.9 L278.7,896 L277.3,898.2 L275.8,900.2 L274.3,902.3 L272.8,904.3 L271.2,906.4 L269.4,908.5 L267.7,910.7 L265.8,912.9 L264,915 L262.2,917.2 L262.2,917.2 L264.3,915.3 L266.4,913.4 L268.5,911.5 L270.5,909.6 L272.5,907.6 L274.4,905.7 L276.1,903.7 L277.8,901.8 L279.5,899.8 L281.1,897.8 L282.7,895.7 L284.3,893.5 L285.8,891.4 L287.3,889.3 L288.9,887.2Z"/><path d="M351.2,906.6 L347.7,907.2 L344.4,907.8 L341.3,908.5 L338.4,909.3 L335.7,910 L333,910.8 L330.4,911.6 L327.7,912.4 L325.1,913 L322.5,913.7 L319.9,914.3 L317.3,914.8 L314.7,915.4 L312.1,915.9 L309.5,916.5 L306.8,917.1 L304.1,917.7 L301.2,918.4 L298.2,919.2 L295.2,920 L292.2,921 L289.6,922.3 L287.2,923.7 L285,925.1 L282.9,926.5 L280.8,927.9 L278.6,929.3 L276.4,930.7 L274.2,932.1 L271.9,933.5 L269.7,934.9 L267.5,936.3 L265.3,937.7 L262.9,939.1 L260.6,940.5 L258.2,941.9 L255.8,943.2 L253.4,944.6 L251,946 L248.6,947.4 L248.6,947.4 L251.2,946.4 L253.8,945.4 L256.3,944.4 L258.9,943.3 L261.5,942.3 L264,941.3 L266.6,940.2 L269,939.1 L271.4,937.9 L273.8,936.8 L276.1,935.6 L278.5,934.5 L280.8,933.3 L283.2,932.2 L285.5,931.1 L287.8,930.1 L290,929.1 L292.2,928.2 L294.5,927.5 L297,926.9 L299.8,926.4 L302.7,925.9 L305.6,925.4 L308.3,924.9 L311,924.5 L313.6,924.1 L316.3,923.6 L318.9,923.2 L321.6,922.7 L324.3,922.3 L327,921.8 L329.7,921.3 L332.5,920.8 L335.3,920.3 L338,919.8 L340.7,919.3 L343.5,918.8 L346.3,918.4 L349.5,917.9 L352.8,917.4Z"/><path d="M297.4,920.4 L294.6,919.8 L291.8,919.2 L289,918.7 L286.1,918.1 L283.1,917.6 L280.1,917.1 L277,916.7 L273.9,916.2 L273.9,916.2 L276.9,917.1 L279.8,918.1 L282.8,919 L285.6,919.9 L288.4,920.9 L291.2,921.8 L293.9,922.7 L296.6,923.6Z"/><path d="M287.2,928.2 L286.1,931 L285.1,933.8 L284,936.6 L283,939.4 L282.1,942 L281.2,944.6 L280.4,947.1 L279.5,949.7 L278.7,952.2 L278.7,952.2 L280,949.9 L281.3,947.5 L282.5,945.2 L283.8,942.8 L285.2,940.3 L286.5,937.8 L287.9,935.1 L289.4,932.5 L290.8,929.8Z"/><path d="M349.1,930.6 L346.9,932.7 L344.7,934.7 L342.6,936.6 L340.5,938.3 L338.4,939.9 L336.3,941.4 L334.2,942.9 L332,944.3 L329.7,945.6 L327.4,946.9 L325,948.2 L322.7,949.5 L320.3,950.8 L318,952.1 L315.7,953.4 L313.4,954.6 L311.1,955.9 L308.8,957.2 L306.6,958.5 L304.2,959.9 L301.9,961.4 L299.6,963.1 L297.4,965 L295.1,966.9 L292.9,968.8 L290.7,970.7 L288.5,972.6 L288.5,972.6 L291.1,971.3 L293.7,970 L296.4,968.7 L299,967.4 L301.5,966.2 L304,965 L306.4,963.9 L308.8,962.9 L311.2,961.8 L313.5,960.7 L315.9,959.7 L318.4,958.6 L320.8,957.4 L323.2,956.2 L325.6,955 L328,953.8 L330.4,952.6 L332.8,951.4 L335.3,950.2 L337.7,948.9 L340.2,947.5 L342.6,946.1 L345,944.6 L347.4,942.9 L349.9,941.1 L352.4,939.3 L354.9,937.4Z"/><path d="M311.5,957.1 L310.2,959.7 L308.9,962.3 L307.5,965 L306.3,967.6 L305.2,970.4 L304.1,973.1 L303.1,975.9 L302.1,978.6 L301.1,981.4 L301.1,981.4 L302.5,978.8 L303.8,976.2 L305.2,973.6 L306.5,971 L308,968.5 L309.5,966.1 L311.1,963.7 L312.8,961.3 L314.5,958.9Z"/><path d="M338.1,398.9 L336.1,397.1 L334.2,395.3 L332.3,393.5 L330.4,391.7 L328.5,390 L326.6,388.2 L324.6,386.4 L322.7,384.6 L320.8,382.8 L319,381 L317.1,379.2 L315.3,377.3 L313.5,375.5 L311.7,373.6 L309.9,371.7 L308,369.8 L306.2,367.9 L304.4,366 L302.5,364.2 L300.6,362.4 L298.6,360.7 L296.6,359 L294.6,357.4 L292.6,355.9 L290.6,354.3 L288.6,352.7 L286.5,351.1 L284.5,349.5 L282.5,348 L280.5,346.4 L278.4,344.9 L276.4,343.5 L274.4,342 L272.3,340.6 L270.3,339.1 L268.2,337.7 L266.2,336.2 L264.2,334.8 L262.1,333.3 L260.1,331.9 L258,330.4 L256,329 L256,329 L258,330.6 L259.9,332.1 L261.9,333.7 L263.8,335.2 L265.8,336.8 L267.8,338.3 L269.7,339.9 L271.7,341.4 L273.6,343 L275.6,344.5 L277.6,346.1 L279.5,347.7 L281.5,349.3 L283.5,350.9 L285.5,352.5 L287.4,354.1 L289.4,355.7 L291.4,357.3 L293.4,359 L295.4,360.6 L297.3,362.2 L299.2,363.9 L301,365.7 L302.8,367.6 L304.6,369.5 L306.4,371.4 L308.1,373.3 L309.9,375.2 L311.7,377.1 L313.5,379.1 L315.3,381 L317.1,382.9 L319,384.7 L320.9,386.6 L322.8,388.4 L324.6,390.2 L326.5,392 L328.4,393.9 L330.3,395.7 L332.2,397.5 L334.1,399.3 L335.9,401.1Z"/><path d="M348,459.6 L349.9,458.1 L351.9,456.5 L353.8,454.9 L355.8,453.4 L357.8,451.8 L359.8,450.2 L362,448.6 L364.3,446.9 L366.6,445.2 L368.9,443.5 L371.2,441.7 L373.4,440 L375.6,438.3 L377.6,436.6 L379.7,434.8 L381.7,433.1 L383.7,431.4 L385.7,429.7 L387.7,428 L389.6,426.3 L391.6,424.7 L393.6,423 L395.6,421.4 L397.5,419.9 L399.5,418.3 L401.5,416.7 L403.5,415.1 L405.5,413.5 L407.4,412 L409.4,410.4 L411.4,408.9 L413.4,407.4 L415.5,405.9 L417.6,404.4 L419.6,402.9 L421.7,401.4 L423.7,399.9 L425.8,398.5 L427.9,397.2 L430.1,395.8 L432.4,394.5 L434.6,393.2 L436.9,391.9 L439.1,390.5 L441.4,389.2 L443.6,388 L445.8,386.8 L448.2,385.8 L450.6,384.8 L453,383.8 L455.5,382.8 L457.9,381.9 L460.4,380.9 L462.9,379.9 L465.4,378.8 L468,377.6 L470.5,376.3 L473,374.9 L475.5,373.6 L478,372.3 L480.3,371 L482.5,369.8 L484.7,368.5 L486.8,367.3 L489,366 L489,366 L486.8,367.1 L484.5,368.3 L482.3,369.4 L480,370.6 L477.7,371.7 L475.2,372.8 L472.5,373.9 L469.9,374.9 L467.3,375.9 L464.7,376.9 L462.1,377.8 L459.6,378.6 L457.1,379.4 L454.5,380.2 L452,380.9 L449.5,381.7 L446.9,382.6 L444.4,383.6 L441.9,384.7 L439.5,385.9 L437.2,387.1 L434.9,388.3 L432.6,389.6 L430.3,390.8 L428,392 L425.7,393.3 L423.4,394.7 L421.2,396.1 L419,397.6 L416.9,399.1 L414.9,400.6 L412.8,402.1 L410.7,403.7 L408.6,405.2 L406.6,406.7 L404.6,408.2 L402.5,409.8 L400.5,411.3 L398.5,412.9 L396.5,414.4 L394.5,415.9 L392.4,417.5 L390.4,419.1 L388.4,420.8 L386.4,422.5 L384.3,424.2 L382.3,425.9 L380.3,427.6 L378.3,429.3 L376.3,431 L374.4,432.6 L372.3,434.3 L370.3,436 L368.1,437.6 L365.8,439.2 L363.4,440.8 L361.1,442.5 L358.8,444.1 L356.5,445.6 L354.3,447.2 L352.2,448.6 L350.2,450.1 L348.1,451.5 L346.1,452.9 L344,454.4Z"/><path d="M354.2,549.1 L352.5,547.2 L350.8,545.3 L349.1,543.4 L347.4,541.6 L345.7,539.7 L344,537.8 L342.1,535.9 L340.2,534 L338.3,532.3 L336.4,530.6 L334.6,528.9 L332.7,527.2 L330.8,525.5 L328.8,523.8 L326.8,522 L324.8,520.3 L322.7,518.5 L320.7,516.7 L318.6,515 L316.6,513.2 L314.5,511.4 L312.5,509.6 L310.4,507.8 L308.4,506 L306.3,504.2 L304.2,502.4 L301.9,500.6 L299.6,499.1 L297.3,497.7 L295.1,496.5 L292.8,495.2 L290.6,494 L288.4,492.7 L286.2,491.5 L284,490.3 L281.8,489 L279.6,487.8 L277.4,486.6 L275.3,485.3 L273.1,484 L270.9,482.7 L268.7,481.3 L266.5,480 L264.2,478.7 L262,477.3 L259.8,476 L257.6,474.7 L255.4,473.4 L253.2,472 L251.1,470.7 L248.9,469.2 L246.7,467.8 L244.4,466.4 L242.2,465 L240,463.6 L237.8,462.2 L235.6,460.8 L233.4,459.3 L231.2,457.9 L228.9,456.5 L226.6,455.1 L224.3,453.8 L222,452.4 L219.6,451 L217.3,449.7 L215,448.3 L212.7,447 L210.3,445.6 L208,444.3 L205.7,443 L203.4,441.7 L201.1,440.6 L198.8,439.4 L196.6,438.3 L194.3,437.1 L192.1,436 L189.8,434.8 L187.5,433.7 L185.2,432.5 L182.8,431.5 L180.4,430.4 L178,429.3 L175.6,428.3 L173.2,427.2 L170.8,426.1 L168.4,425.1 L166,424 L166,424 L168.3,425.2 L170.7,426.4 L173,427.6 L175.4,428.7 L177.7,429.9 L180.1,431.1 L182.4,432.3 L184.7,433.5 L186.9,434.8 L189.1,436.1 L191.3,437.4 L193.5,438.7 L195.6,440 L197.8,441.3 L200,442.5 L202.2,443.9 L204.4,445.2 L206.6,446.6 L208.9,448 L211.1,449.4 L213.4,450.9 L215.7,452.3 L218,453.8 L220.2,455.2 L222.5,456.7 L224.8,458.1 L227,459.5 L229.2,461 L231.3,462.5 L233.5,464 L235.6,465.5 L237.8,467 L239.9,468.5 L242.1,469.9 L244.3,471.4 L246.4,472.9 L248.6,474.4 L250.8,475.9 L252.9,477.3 L255.1,478.8 L257.3,480.2 L259.4,481.6 L261.6,483 L263.7,484.4 L265.9,485.8 L268,487.2 L270.2,488.6 L272.4,490 L274.6,491.4 L276.7,492.7 L278.9,494 L281.1,495.4 L283.2,496.7 L285.4,498 L287.5,499.3 L289.7,500.6 L291.9,501.9 L294,503.2 L296,504.5 L297.9,505.9 L299.8,507.5 L301.7,509.3 L303.6,511.2 L305.6,513.1 L307.5,515 L309.5,516.9 L311.4,518.8 L313.4,520.7 L315.3,522.6 L317.3,524.5 L319.2,526.4 L321.1,528.3 L323,530.1 L324.9,531.9 L326.7,533.6 L328.6,535.4 L330.4,537.1 L332.2,538.8 L334,540.6 L335.7,542.3 L337.4,544 L339.2,545.8 L340.9,547.6 L342.6,549.4 L344.4,551.3 L346.1,553.1 L347.8,554.9Z"/><path d="M405.8,584.3 L408.1,583 L410.4,581.7 L412.7,580.4 L415,579.1 L417.3,577.7 L419.7,576.3 L422,574.9 L424.4,573.5 L426.8,572 L429.2,570.5 L431.6,568.9 L433.9,567.2 L436.1,565.5 L438.2,563.8 L440.3,562 L442.4,560.3 L444.5,558.6 L446.6,556.9 L448.8,555.2 L450.9,553.4 L453,551.7 L455.1,550 L457.2,548.2 L459.4,546.5 L461.5,544.6 L463.6,542.7 L465.5,540.7 L467.3,538.7 L469.1,536.6 L470.8,534.6 L472.6,532.6 L474.3,530.6 L476,528.5 L477.7,526.5 L479.4,524.5 L481.1,522.5 L482.8,520.4 L484.5,518.4 L486.2,516.4 L487.9,514.4 L489.6,512.3 L491.2,510.3 L492.9,508.3 L494.6,506.3 L496.3,504.2 L498,502.2 L499.7,500.3 L501.4,498.4 L503.1,496.5 L504.9,494.8 L506.8,493 L508.6,491.2 L510.5,489.5 L512.3,487.7 L514.2,485.9 L516.1,484.2 L518.2,482.5 L520.3,480.8 L522.4,479.1 L524.6,477.4 L526.8,475.7 L528.9,473.9 L531.1,472.2 L533.2,470.4 L535.2,468.6 L537.3,466.8 L539.3,465 L541.4,463.2 L543.5,461.5 L545.5,459.7 L547.6,458.1 L549.7,456.5 L551.9,454.9 L554,453.4 L556.1,451.8 L558.3,450.3 L560.5,448.9 L562.7,447.6 L564.9,446.4 L567.2,445.3 L569.4,444.1 L571.7,443 L573.9,441.9 L576.2,440.7 L578.4,439.6 L578.4,439.6 L576.1,440.7 L573.9,441.8 L571.6,443 L569.4,444.1 L567.1,445.2 L564.9,446.3 L562.6,447.5 L560.4,448.7 L558.1,450 L555.9,451.4 L553.6,452.7 L551.3,454.1 L549.1,455.5 L546.8,457 L544.6,458.5 L542.4,460.1 L540.2,461.8 L538.1,463.4 L535.9,465.1 L533.8,466.8 L531.6,468.5 L529.5,470.2 L527.3,471.8 L525.1,473.5 L522.9,475.1 L520.7,476.8 L518.5,478.5 L516.3,480.1 L514.1,481.8 L512.1,483.6 L510.2,485.3 L508.3,487 L506.4,488.8 L504.5,490.5 L502.6,492.2 L500.7,494 L498.8,495.9 L496.9,497.8 L495.2,499.8 L493.4,501.8 L491.7,503.7 L489.9,505.7 L488.2,507.7 L486.4,509.7 L484.7,511.6 L483,513.6 L481.2,515.6 L479.5,517.6 L477.7,519.5 L476,521.5 L474.2,523.5 L472.5,525.5 L470.7,527.4 L468.9,529.4 L467.2,531.4 L465.4,533.4 L463.6,535.3 L461.9,537.2 L460.1,539 L458.1,540.7 L456,542.4 L453.9,544.1 L451.7,545.8 L449.6,547.4 L447.4,549.1 L445.3,550.8 L443.1,552.5 L441,554.1 L438.8,555.8 L436.7,557.5 L434.5,559.1 L432.4,560.8 L430.3,562.4 L428.1,563.8 L425.9,565.2 L423.6,566.6 L421.2,567.9 L418.8,569.3 L416.4,570.5 L414,571.8 L411.7,572.9 L409.3,574.1 L407,575.3 L404.6,576.5 L402.2,577.7Z"/><path d="M362.7,669.1 L364.9,667.8 L367.1,666.5 L369.4,665.1 L371.6,663.8 L373.8,662.5 L376.1,661.1 L378.3,659.8 L380.5,658.5 L382.7,657.3 L384.8,656.1 L387,655.1 L389.3,654.2 L391.6,653.3 L394.1,652.4 L396.5,651.4 L398.9,650.5 L401.4,649.5 L403.9,648.4 L406.4,647.4 L408.9,646.3 L411.4,645.2 L413.9,644.2 L416.4,643.1 L418.8,642 L421.3,640.9 L423.8,639.9 L426.3,638.8 L428.9,637.6 L431.4,636.3 L433.8,634.9 L436.1,633.5 L438.3,632.1 L440.4,630.6 L442.5,629.2 L444.7,627.8 L446.8,626.4 L448.9,624.9 L451.1,623.5 L453.2,622.1 L455.3,620.7 L457.5,619.3 L459.6,617.8 L461.7,616.4 L463.9,615 L465.9,613.7 L468,612.4 L470.1,611.2 L472.4,610 L474.6,608.8 L477,607.6 L479.3,606.4 L481.6,605.2 L483.9,604 L486.2,602.8 L488.5,601.6 L490.8,600.4 L493.1,599.3 L495.4,598.3 L497.7,597.4 L500.2,596.6 L502.8,595.8 L505.4,595 L508,594.2 L510.6,593.4 L513.2,592.6 L515.7,591.8 L518.2,591 L520.7,590.5 L523,590 L525.4,589.7 L527.9,589.3 L530.4,589 L532.9,588.7 L535.4,588.4 L537.9,588.1 L540.3,587.9 L542.7,587.7 L545.2,587.5 L547.7,587.3 L550.2,587.2 L552.7,587 L555.2,586.9 L557.7,586.7 L560.2,586.6 L562.7,586.5 L565.1,586.3 L567.6,586.2 L570.1,586.2 L572.5,586.1 L575,586 L577.5,585.9 L580,585.9 L582.5,585.8 L585,585.7 L587.5,585.7 L590,585.6 L592.5,585.5 L595,585.4 L597.5,585.4 L599.9,585.4 L602.4,585.4 L604.8,585.5 L607.3,585.7 L609.8,585.8 L612.3,585.9 L614.8,586 L617.2,586.2 L619.6,586.5 L622,586.9 L624.4,587.5 L626.9,588.1 L629.5,588.7 L632,589.4 L634.5,590 L637,590.6 L639.5,591.2 L642,591.9 L644.6,592.5 L647.1,593.1 L649.6,593.7 L652.1,594.4 L654.6,595 L657.2,595.6 L659.7,596.2 L662.2,596.8 L664.7,597.3 L667.3,597.8 L669.8,598.3 L672.3,598.8 L674.8,599.3 L677.3,599.8 L679.9,600.3 L682.4,600.8 L684.9,601.3 L687.4,601.8 L689.9,602.4 L692.4,603.1 L694.9,603.8 L697.4,604.5 L699.9,605.3 L702.4,606 L704.8,606.8 L707.3,607.5 L709.8,608.3 L712.3,609 L714.8,609.8 L714.8,609.8 L712.3,609 L709.9,608.2 L707.4,607.4 L704.9,606.6 L702.4,605.8 L700,604.9 L697.5,604.1 L695,603.3 L692.6,602.5 L690.1,601.8 L687.6,601.1 L685.1,600.4 L682.6,599.7 L680.1,599 L677.7,598.4 L675.2,597.7 L672.7,597.1 L670.2,596.4 L667.7,595.7 L665.3,595.1 L662.8,594.4 L660.3,593.7 L657.8,593 L655.4,592.2 L652.9,591.5 L650.4,590.8 L647.9,590 L645.4,589.3 L643,588.5 L640.5,587.8 L638,587 L635.5,586.3 L633,585.5 L630.5,584.8 L628.1,584 L625.6,583.3 L623,582.6 L620.4,582 L617.8,581.5 L615.2,581.2 L612.7,581 L610.2,580.7 L607.7,580.5 L605.2,580.2 L602.6,580 L600.1,579.8 L597.5,579.7 L595,579.7 L592.5,579.7 L590,579.7 L587.5,579.7 L585,579.7 L582.5,579.7 L580,579.7 L577.5,579.7 L575,579.7 L572.5,579.7 L569.9,579.7 L567.4,579.7 L564.9,579.8 L562.3,579.9 L559.8,580 L557.3,580.2 L554.8,580.3 L552.3,580.5 L549.8,580.6 L547.3,580.8 L544.8,580.9 L542.3,581.1 L539.7,581.3 L537.1,581.6 L534.6,581.9 L532.1,582.2 L529.6,582.5 L527.1,582.8 L524.6,583.1 L521.9,583.5 L519.2,584 L516.5,584.7 L513.9,585.4 L511.2,586.2 L508.6,587 L506,587.8 L503.4,588.6 L500.8,589.4 L498.2,590.3 L495.5,591.1 L492.9,592.1 L490.3,593.2 L487.9,594.3 L485.5,595.4 L483.1,596.6 L480.8,597.7 L478.4,598.8 L476.1,600 L473.7,601.1 L471.4,602.2 L469,603.4 L466.6,604.6 L464.2,605.9 L461.9,607.3 L459.7,608.8 L457.6,610.3 L455.5,611.7 L453.4,613.2 L451.2,614.7 L449.1,616.2 L447,617.6 L444.9,619.1 L442.8,620.6 L440.7,622 L438.6,623.5 L436.5,625 L434.4,626.5 L432.4,627.9 L430.3,629.3 L428.2,630.5 L426,631.5 L423.7,632.5 L421.2,633.5 L418.7,634.5 L416.2,635.5 L413.6,636.5 L411.1,637.5 L408.6,638.5 L406.1,639.5 L403.6,640.5 L401.1,641.5 L398.7,642.4 L396.2,643.2 L393.8,644 L391.4,644.8 L388.9,645.6 L386.4,646.4 L383.9,647.2 L381.3,648.2 L378.8,649.2 L376.3,650.3 L373.9,651.4 L371.5,652.5 L369.2,653.5 L366.8,654.6 L364.4,655.7 L362.1,656.7 L359.7,657.8 L357.3,658.9Z"/><path d="M347.9,787 L345.9,785.5 L343.9,783.9 L341.9,782.3 L339.9,780.8 L337.9,779.2 L336,777.7 L334.1,776.1 L332.3,774.6 L330.5,772.9 L328.6,771.2 L326.7,769.5 L324.8,767.8 L322.9,766 L321,764.3 L318.9,762.4 L316.8,760.6 L314.6,758.8 L312.5,756.9 L310.3,755.1 L308.1,753.3 L305.9,751.4 L303.7,749.6 L301.5,747.9 L299.3,746.2 L297.1,744.5 L294.9,742.8 L292.7,741.2 L290.5,739.5 L288.3,737.9 L286,736.2 L283.8,734.6 L281.6,733 L279.4,731.4 L277.3,729.8 L275.2,728.2 L273.2,726.5 L271.2,724.7 L269.2,722.8 L267,720.9 L264.9,719 L262.7,717.2 L260.6,715.6 L258.5,714.1 L256.5,712.6 L254.4,711 L252.3,709.5 L250.2,707.9 L247.9,706.4 L245.7,704.9 L243.4,703.4 L241.2,701.8 L238.9,700.3 L236.7,698.8 L234.4,697.3 L232.2,695.8 L229.9,694.4 L227.8,692.9 L225.6,691.5 L223.5,690.2 L221.3,688.8 L219.2,687.4 L217,686 L214.9,684.6 L212.7,683.3 L210.6,681.9 L208.5,680.5 L206.4,679 L204.2,677.5 L202,675.9 L199.8,674.3 L197.6,672.6 L195.4,671 L193.2,669.3 L191.1,667.7 L189.1,666 L187.1,664.3 L185.2,662.6 L183.3,660.8 L181.5,659.1 L179.6,657.3 L177.7,655.5 L175.9,653.8 L174,652 L174,652 L175.6,654 L177.3,656 L178.9,658 L180.5,659.9 L182.2,661.9 L183.8,663.9 L185.5,665.9 L187.3,667.9 L189.2,669.8 L191.3,671.7 L193.3,673.5 L195.4,675.4 L197.4,677.2 L199.5,679.1 L201.5,680.9 L203.6,682.7 L205.7,684.3 L207.8,685.9 L209.8,687.5 L211.8,689 L213.9,690.5 L215.9,692.1 L218,693.6 L220,695.1 L222,696.7 L224.1,698.2 L226.2,699.7 L228.3,701.3 L230.5,702.9 L232.7,704.5 L234.9,706.1 L237.1,707.7 L239.2,709.3 L241.4,710.9 L243.6,712.5 L245.6,714.1 L247.6,715.7 L249.6,717.3 L251.5,718.9 L253.5,720.5 L255.4,722.1 L257.3,723.7 L259.1,725.4 L261,727.2 L262.8,729.2 L264.8,731.3 L266.8,733.4 L268.9,735.4 L271.1,737.4 L273.3,739.2 L275.4,741 L277.5,742.7 L279.6,744.5 L281.7,746.2 L283.8,747.9 L285.9,749.7 L288,751.4 L290.1,753.2 L292.2,755 L294.2,756.7 L296.3,758.5 L298.4,760.3 L300.5,762.2 L302.6,764 L304.7,765.9 L306.8,767.8 L308.9,769.6 L310.8,771.5 L312.7,773.2 L314.6,775 L316.4,776.7 L318.3,778.5 L320.1,780.3 L322,782.1 L324,783.9 L326,785.7 L328,787.4 L330.1,789.1 L332.1,790.7 L334.1,792.2 L336.1,793.8 L338.1,795.4 L340.1,797Z"/><path d="M427.8,397.5 L428.4,394.7 L429,391.9 L429.5,389.1 L430.1,386.3 L430.7,383.5 L431.3,380.7 L432,377.8 L432.6,375 L432.6,375 L431.4,377.7 L430.3,380.3 L429.1,383 L428,385.7 L427,388.4 L426,391.1 L425.1,393.8 L424.2,396.5Z"/><path d="M429.9,397.6 L432.9,397.7 L435.9,397.8 L438.9,397.8 L441.7,397.9 L444.5,398 L447.2,398.1 L449.9,398.2 L452.5,398.3 L455.2,398.4 L455.2,398.4 L452.6,397.9 L450,397.5 L447.3,397 L444.7,396.6 L441.9,396.1 L439.1,395.7 L436.1,395.2 L433.1,394.8 L430.1,394.4Z"/><path d="M463.3,380.5 L464.1,377.5 L464.9,374.6 L465.7,372 L466.5,369.4 L466.5,369.4 L464.9,371.6 L463.4,374 L462,376.7 L460.7,379.5Z"/><path d="M463.7,381.1 L466.7,381.6 L469.7,382 L472.4,382.4 L475.1,382.7 L477.7,383 L477.7,383 L475.2,382.3 L472.6,381.5 L469.9,380.7 L467.2,379.8 L464.3,378.9Z"/><path d="M197.9,440.7 L197.3,438.1 L196.8,435.6 L196.2,433 L195.7,430.4 L195.1,427.8 L194.5,425.2 L193.8,422.6 L193.1,420 L192.5,417.4 L191.8,414.8 L191.8,414.8 L192,417.5 L192.2,420.2 L192.4,422.8 L192.7,425.5 L192.9,428.2 L193.1,430.8 L193.4,433.4 L193.6,436 L193.9,438.7 L194.1,441.3Z"/><path d="M238,462.3 L237.1,459.8 L236.1,457.2 L235.2,454.7 L234.2,452.2 L233.2,449.6 L232.3,447.1 L231.3,444.6 L230.4,442.2 L229.5,439.7 L228.5,437.3 L227.6,434.9 L226.7,432.5 L225.6,430.1 L224.3,427.7 L222.8,425.5 L221,423.5 L219.1,421.5 L217.2,419.6 L215,417.9 L212.5,416.6 L209.9,415.5 L207.3,414.5 L204.6,413.6 L202,412.6 L202,412.6 L204.6,413.8 L207.1,415 L209.6,416.2 L212.1,417.5 L214.3,418.9 L216.2,420.6 L218,422.5 L219.8,424.5 L221.4,426.6 L222.8,428.7 L223.9,430.9 L224.7,433.2 L225.5,435.7 L226.3,438.1 L227.1,440.6 L227.9,443 L228.7,445.5 L229.4,448.1 L230.2,450.7 L230.9,453.3 L231.7,455.9 L232.4,458.5 L233.2,461.1 L234,463.7Z"/><path d="M228.1,429.7 L227.1,426.7 L226.1,423.8 L224.9,420.8 L223.7,417.8 L222.3,414.8 L222.3,414.8 L223.1,418 L223.8,421.1 L224.5,424.2 L225.2,427.3 L225.9,430.3Z"/><path d="M270.1,483.8 L269.7,481.2 L269.4,478.6 L269,476.1 L268.6,473.5 L268.2,471 L267.8,468.4 L267.3,465.7 L266.8,463.1 L266.2,460.4 L265.6,457.8 L265,455.1 L264.5,452.5 L263.8,449.9 L263.2,447.4 L262.6,444.9 L261.9,442.4 L261.3,439.9 L260.6,437.4 L260.6,437.4 L260.9,440 L261.2,442.5 L261.5,445.1 L261.8,447.6 L262.2,450.2 L262.5,452.9 L263,455.5 L263.4,458.2 L263.8,460.9 L264.2,463.5 L264.5,466.2 L264.8,468.8 L265,471.3 L265.1,473.9 L265.3,476.5 L265.5,479.1 L265.7,481.7 L265.9,484.2Z"/><path d="M237,463.1 L234.2,463.2 L231.5,463.3 L228.8,463.4 L226,463.5 L223.3,463.6 L220.5,463.7 L217.8,463.8 L215,463.8 L212.3,463.9 L209.6,464 L206.9,464.1 L204.2,464.1 L201.5,464.2 L198.7,464.3 L196,464.4 L193.3,464.4 L190.6,464.5 L190.6,464.5 L193.3,464.7 L196,464.9 L198.7,465 L201.4,465.2 L204.1,465.4 L206.9,465.6 L209.6,465.8 L212.3,466 L215,466.1 L217.7,466.2 L220.5,466.3 L223.2,466.4 L226,466.5 L228.8,466.6 L231.5,466.7 L234.2,466.8 L237,466.9Z"/><path d="M267.9,486.9 L265.4,487 L262.8,487.2 L260.3,487.4 L257.7,487.6 L255.1,487.8 L252.6,488 L250,488.2 L247.5,488.4 L244.9,488.7 L242.4,488.9 L239.9,489.2 L237.4,489.5 L234.9,489.9 L232.4,490.2 L229.9,490.5 L227.4,490.8 L224.9,491.1 L222.3,491.5 L219.7,491.8 L217.1,492.2 L214.6,492.5 L212,492.9 L209.4,493.2 L206.8,493.6 L204.2,493.9 L204.2,493.9 L206.8,493.8 L209.4,493.6 L212,493.5 L214.6,493.4 L217.3,493.3 L219.9,493.1 L222.5,493 L225,492.9 L227.6,492.7 L230.1,492.5 L232.6,492.3 L235.1,492.1 L237.6,492 L240.1,491.8 L242.6,491.6 L245.1,491.5 L247.6,491.4 L250.2,491.3 L252.7,491.3 L255.3,491.3 L257.9,491.3 L260.4,491.2 L263,491.2 L265.5,491.2 L268.1,491.1Z"/><path d="M189.5,434.7 L187,435.8 L184.6,437 L182.2,438 L179.8,439 L177.4,439.9 L174.9,440.6 L172.5,441.3 L170,442 L170,442 L172.5,441.7 L175.1,441.4 L177.6,441 L180.2,440.5 L182.8,439.8 L185.4,439 L188,438.2 L190.5,437.3Z"/><path d="M185.3,430.9 L182.6,430.4 L180,429.9 L177.4,429.4 L174.8,428.9 L172.2,428.3 L169.6,427.8 L167.1,427.2 L164.5,426.6 L162,426 L162,426 L164.5,426.9 L166.9,427.8 L169.4,428.7 L171.9,429.5 L174.4,430.3 L177,431 L179.6,431.7 L182.2,432.4 L184.7,433.1Z"/><path d="M498.9,498.7 L498.2,495.9 L497.5,493.2 L496.7,490.4 L495.9,487.6 L494.9,484.7 L493.8,481.7 L492.6,478.7 L492.6,478.7 L493,481.9 L493.4,485 L493.8,488.1 L494.2,491 L494.5,493.8 L494.8,496.6 L495.1,499.3Z"/><path d="M500.5,503.8 L503,503 L505.5,502.1 L508,501.3 L510.4,500.5 L512.9,499.6 L515.4,498.8 L517.8,498 L520.3,497.1 L522.8,496.3 L525.2,495.5 L527.7,494.7 L530.2,494 L532.7,493.2 L535.2,492.5 L537.8,491.9 L540.5,491.3 L543.2,490.8 L545.9,490.3 L548.6,489.7 L551.3,489.2 L551.3,489.2 L548.6,489.6 L545.8,490 L543.1,490.4 L540.4,490.8 L537.7,491.2 L535,491.7 L532.4,492.2 L529.8,492.7 L527.3,493.3 L524.8,493.8 L522.2,494.4 L519.7,494.9 L517.2,495.6 L514.6,496.2 L512.1,496.9 L509.6,497.5 L507,498.2 L504.5,498.9 L502,499.5 L499.5,500.2Z"/><path d="M532.9,466.8 L532.5,464.3 L532,461.8 L531.5,459.3 L531,456.7 L530.3,454.1 L529.6,451.3 L528.8,448.6 L528.8,448.6 L528.8,451.4 L528.8,454.3 L528.9,457 L528.9,459.6 L529,462.2 L529,464.7 L529.1,467.2Z"/><path d="M535.2,469.6 L537.7,469.2 L540.2,468.7 L542.7,468.3 L545.2,467.8 L547.7,467.4 L550.3,467 L553.1,466.6 L556,466.2 L559,465.9 L561.9,465.5 L564.9,465.2 L564.9,465.2 L561.9,465.2 L558.9,465.2 L555.9,465.1 L553,465.2 L550.1,465.2 L547.4,465.3 L544.9,465.5 L542.3,465.7 L539.8,465.9 L537.3,466.2 L534.8,466.4Z"/><path d="M560.4,448.8 L559.5,445.8 L558.8,442.8 L558.1,439.7 L557.4,436.6 L557.4,436.6 L557.4,439.8 L557.4,443 L557.5,446.1 L557.6,449.2Z"/><path d="M502.3,590.5 L502.8,587.9 L503.2,585.3 L503.6,582.7 L504.1,580.1 L504.5,577.5 L504.9,574.9 L505.3,572.2 L505.6,569.6 L505.9,566.8 L506.2,564.1 L506.4,561.4 L506.7,558.7 L506.7,558.7 L505.9,561.3 L505.1,563.9 L504.3,566.5 L503.5,569.1 L502.7,571.7 L501.9,574.2 L501.2,576.8 L500.5,579.3 L499.8,581.9 L499.1,584.4 L498.4,586.9 L497.7,589.5Z"/><path d="M505.6,569 L508,567.4 L510.5,565.8 L512.9,564.3 L515.3,563.1 L517.9,562.1 L520.5,561.4 L523.1,560.7 L525.8,560 L528.5,559.4 L528.5,559.4 L525.8,559.8 L523.1,560.2 L520.3,560.6 L517.6,561.1 L514.9,561.9 L512.2,562.9 L509.6,564.2 L507,565.6 L504.4,567Z"/><path d="M555.5,582.4 L556.7,580.1 L558,577.7 L559.2,575.4 L560.4,573 L561.6,570.7 L562.8,568.3 L564,566 L565.2,563.6 L566.4,561.3 L567.7,559 L568.9,556.6 L570.2,554.3 L571.4,551.9 L572.7,549.5 L574,547.2 L575.3,544.8 L576.6,542.4 L577.8,540 L579.1,537.7 L580.4,535.3 L580.4,535.3 L578.8,537.5 L577.2,539.6 L575.6,541.8 L574,544 L572.4,546.1 L570.8,548.3 L569.2,550.5 L567.6,552.7 L566,554.8 L564.5,557.1 L563,559.3 L561.6,561.6 L560.2,563.8 L558.8,566.1 L557.4,568.3 L556,570.6 L554.6,572.8 L553.2,575.1 L551.9,577.3 L550.5,579.6Z"/><path d="M566.5,560.8 L569.2,560.1 L571.9,559.3 L574.6,558.5 L577.3,557.7 L580,556.9 L582.6,556.2 L585.2,555.5 L587.7,555 L590.2,554.5 L592.7,554.1 L595.2,553.6 L597.7,553.2 L600.1,552.8 L602.6,552.4 L605.1,552 L607.6,551.7 L610.1,551.4 L612.6,551.1 L615,550.9 L617.5,550.6 L620,550.4 L622.5,550.2 L625,550 L627.5,549.9 L630,549.9 L632.6,549.9 L635.1,549.8 L637.6,549.8 L640.1,549.8 L642.7,549.8 L645.2,549.8 L645.2,549.8 L642.7,549.7 L640.2,549.6 L637.6,549.5 L635.1,549.5 L632.6,549.4 L630.1,549.3 L627.5,549.2 L625,549.2 L622.5,549.3 L620,549.4 L617.5,549.5 L615,549.6 L612.4,549.7 L609.9,549.9 L607.4,550 L604.9,550.2 L602.4,550.4 L599.9,550.7 L597.3,551 L594.8,551.4 L592.3,551.7 L589.8,552 L587.2,552.3 L584.6,552.8 L581.9,553.3 L579.2,553.9 L576.4,554.6 L573.7,555.2 L571,555.9 L568.2,556.5 L565.5,557.2Z"/><path d="M603.7,551.6 L605.3,549.5 L607,547.4 L608.7,545.3 L610.4,543.1 L612.3,540.7 L614.2,538.3 L616.1,535.9 L618,533.4 L618,533.4 L615.9,535.7 L613.9,538.1 L611.8,540.4 L609.8,542.5 L607.9,544.6 L606,546.6 L604.2,548.5 L602.3,550.4Z"/><path d="M612.8,583.3 L615.3,582.2 L617.8,581.2 L620.3,580.2 L622.8,579.2 L625.3,578.2 L627.9,577.2 L630.4,576.1 L632.9,575.1 L635.4,574.1 L637.9,573.2 L640.4,572.3 L643,571.5 L645.6,570.8 L648.3,570.2 L651,569.5 L653.7,568.9 L656.4,568.2 L659.1,567.6 L661.8,566.9 L664.5,566.3 L664.5,566.3 L661.8,566.7 L659,567.1 L656.3,567.5 L653.5,567.9 L650.8,568.3 L648,568.7 L645.3,569.1 L642.5,569.5 L639.8,570.1 L637.1,570.8 L634.5,571.5 L631.9,572.3 L629.3,573.1 L626.7,573.9 L624.1,574.7 L621.5,575.5 L618.9,576.3 L616.4,577.1 L613.8,577.9 L611.2,578.7Z"/><path d="M618.9,588.8 L621.2,590.1 L623.4,591.4 L625.7,592.6 L628,593.9 L630.2,595.2 L632.5,596.4 L634.8,597.7 L637,598.9 L639.3,600.2 L641.6,601.4 L643.8,602.5 L646.1,603.7 L648.4,604.8 L650.6,606 L652.9,607.1 L655.2,608.3 L657.5,609.4 L659.8,610.6 L662.3,611.7 L664.8,612.8 L667.3,613.9 L669.9,615 L672.4,616.2 L674.9,617.3 L677.5,618.4 L680,619.5 L680,619.5 L677.5,618.2 L675.1,617 L672.6,615.7 L670.1,614.5 L667.7,613.2 L665.2,611.9 L662.8,610.7 L660.4,609.4 L658.2,608.1 L656,606.8 L653.8,605.5 L651.6,604.2 L649.4,603 L647.2,601.7 L645,600.4 L642.9,599.1 L640.7,597.7 L638.5,596.4 L636.4,595 L634.2,593.6 L632,592.2 L629.8,590.8 L627.6,589.4 L625.5,588 L623.3,586.6 L621.1,585.2Z"/><path d="M641.1,601.2 L641.9,603.7 L642.6,606.2 L643.4,608.7 L644.1,611.1 L644.8,613.6 L645.5,616.1 L646.2,618.6 L646.7,621.1 L647.3,623.5 L647.9,626 L648.4,628.5 L649,631 L649,631 L648.6,628.5 L648.1,626 L647.7,623.5 L647.3,620.9 L646.8,618.4 L646.3,615.9 L645.8,613.4 L645.2,610.9 L644.6,608.3 L644,605.8 L643.5,603.3 L642.9,600.8Z"/><path d="M564.6,592 L566.8,593.4 L569,594.7 L571.1,596.1 L573.3,597.5 L575.4,598.9 L577.6,600.2 L579.8,601.6 L581.9,603 L584.1,604.4 L586.3,605.9 L588.6,607.3 L590.9,608.8 L593.1,610.3 L595.4,611.8 L597.7,613.3 L599.9,614.8 L602.2,616.2 L604.5,617.7 L606.8,619.1 L609.2,620.4 L611.5,621.8 L613.8,623.1 L616.1,624.4 L618.4,625.8 L620.7,627.1 L623.1,628.4 L625.4,629.8 L627.7,631.1 L627.7,631.1 L625.5,629.6 L623.3,628.1 L621,626.6 L618.8,625.2 L616.6,623.7 L614.4,622.2 L612.1,620.7 L609.9,619.2 L607.7,617.7 L605.5,616.2 L603.3,614.6 L601.2,613 L599,611.4 L596.8,609.8 L594.6,608.1 L592.5,606.5 L590.3,604.9 L588.1,603.3 L586,601.7 L583.9,600.1 L581.8,598.6 L579.7,597.1 L577.7,595.6 L575.6,594.1 L573.5,592.6 L571.5,591 L569.4,589.5 L567.4,588Z"/><path d="M597.3,611.6 L599,613.5 L600.7,615.4 L602.3,617.4 L604,619.4 L605.7,621.5 L607.3,623.8 L609,626.2 L610.6,628.6 L612.3,631.1 L612.3,631.1 L610.8,628.5 L609.3,626 L607.8,623.4 L606.3,621 L604.8,618.8 L603.3,616.6 L601.7,614.6 L600.2,612.5 L598.7,610.4Z"/><path d="M191.6,663 L190.1,660.8 L188.6,658.5 L187.1,656.3 L185.5,654.1 L184,651.9 L182.5,649.6 L181,647.4 L179.6,645.1 L178.1,642.9 L176.7,640.6 L175.2,638.3 L173.8,636 L172.3,633.7 L172.3,633.7 L173.4,636.2 L174.5,638.6 L175.6,641.1 L176.8,643.6 L177.9,646.1 L179.1,648.5 L180.4,650.9 L181.7,653.3 L183,655.6 L184.4,658 L185.7,660.3 L187.1,662.7 L188.4,665Z"/><path d="M186.7,659.8 L184.4,658.7 L182.2,657.5 L179.9,656.4 L177.6,655.4 L175.2,654.4 L172.7,653.6 L170.2,652.9 L167.7,652.2 L165.1,651.5 L162.6,650.9 L162.6,650.9 L165,651.9 L167.4,652.9 L169.9,653.9 L172.2,654.9 L174.5,656 L176.7,657.1 L178.9,658.4 L181,659.7 L183.2,660.9 L185.3,662.2Z"/><path d="M185.9,665.6 L183.4,666 L180.9,666.4 L178.4,666.7 L175.9,667.1 L173.3,667.4 L170.7,667.8 L168,668.1 L168,668.1 L170.7,668.4 L173.3,668.6 L176,668.7 L178.6,668.7 L181.1,668.6 L183.6,668.5 L186.1,668.4Z"/><path d="M226.4,691.6 L225.8,688.8 L225.2,686.1 L224.6,683.4 L224,680.6 L223.4,677.9 L222.8,675.2 L222.2,672.4 L221.5,669.7 L220.8,667.1 L220,664.5 L219.1,661.9 L218.3,659.4 L217.5,656.8 L216.6,654.3 L215.7,651.8 L214.6,649.4 L213.4,647 L212.2,644.6 L211,642.3 L211,642.3 L211.8,644.8 L212.6,647.3 L213.3,649.8 L214.1,652.3 L214.7,654.9 L215.4,657.5 L216,660 L216.6,662.6 L217.2,665.2 L217.8,667.8 L218.3,670.4 L218.8,673.1 L219.2,675.8 L219.6,678.6 L220,681.4 L220.4,684.1 L220.8,686.9 L221.2,689.7 L221.6,692.4Z"/><path d="M254.4,712 L254.3,709.2 L254.2,706.5 L254.1,703.8 L254,701 L253.9,698.2 L253.8,695.5 L253.7,692.8 L253.6,690.1 L253.5,687.5 L253.3,684.9 L253.1,682.4 L252.9,679.9 L252.8,677.4 L252.6,675 L252.4,672.5 L252.2,670 L252.1,667.4 L251.8,664.8 L251.6,662.1 L251.3,659.4 L251,656.6 L250.6,653.8 L250.3,651.1 L250,648.3 L249.7,645.5 L249.7,645.5 L249.8,648.3 L249.8,651.1 L249.9,653.9 L249.9,656.7 L250,659.5 L250,662.2 L250.1,664.9 L250.1,667.5 L250.2,670 L250.2,672.5 L250.2,675 L250.2,677.6 L250.3,680.1 L250.3,682.6 L250.3,685.1 L250.3,687.6 L250.3,690.1 L250.2,692.8 L250.2,695.5 L250.1,698.3 L250,701 L249.9,703.8 L249.8,706.5 L249.7,709.2 L249.6,712Z"/><path d="M213.7,687.9 L210.9,688.4 L208.1,689 L205.4,689.5 L202.6,690.1 L199.9,690.8 L197.3,691.6 L194.8,692.4 L192.4,693.3 L190,694.2 L187.6,695.1 L185.2,696 L185.2,696 L187.7,695.6 L190.3,695.1 L192.8,694.7 L195.3,694.2 L197.8,693.8 L200.4,693.5 L203.1,693.2 L205.9,692.9 L208.7,692.6 L211.5,692.4 L214.3,692.1Z"/><path d="M245.4,711.9 L242.7,712.9 L239.9,713.8 L237.1,714.8 L234.4,715.8 L231.6,716.8 L229,718 L226.3,719.2 L223.7,720.4 L221.1,721.7 L218.5,722.9 L218.5,722.9 L221.3,722.2 L224.1,721.5 L226.9,720.8 L229.7,720 L232.5,719.4 L235.3,718.7 L238.1,718 L240.9,717.4 L243.7,716.7 L246.6,716.1Z"/><path d="M272.1,726.4 L272.5,723.7 L272.9,721 L273.2,718.3 L273.6,715.6 L274,712.9 L274.3,710.2 L274.5,707.6 L274.7,704.9 L274.9,702.3 L275,699.6 L275.2,697 L275.3,694.3 L275.5,691.7 L275.5,691.7 L274.9,694.3 L274.4,696.9 L273.8,699.5 L273.3,702 L272.7,704.6 L272.2,707.2 L271.6,709.8 L271,712.4 L270.4,715 L269.8,717.7 L269.1,720.3 L268.5,723 L267.9,725.6Z"/><path d="M261.2,733.3 L258.7,734.7 L256.3,736.1 L253.9,737.5 L251.3,738.8 L248.5,740 L245.4,741.2 L245.4,741.2 L248.7,741 L251.9,740.6 L254.9,739.9 L257.6,738.9 L260.3,737.8 L262.8,736.7Z"/></g>
<g clip-path="url(#cBll)" fill="url(#gBllV)"><path d="M347.9,787 L345.9,785.5 L343.9,783.9 L341.9,782.3 L339.9,780.8 L337.9,779.2 L336,777.7 L334.1,776.1 L332.3,774.6 L330.5,772.9 L328.6,771.2 L326.7,769.5 L324.8,767.8 L322.9,766 L321,764.3 L318.9,762.4 L316.8,760.6 L314.6,758.8 L312.5,756.9 L310.3,755.1 L308.1,753.3 L305.9,751.4 L303.7,749.6 L301.5,747.9 L299.3,746.2 L297.1,744.5 L294.9,742.8 L292.7,741.2 L290.5,739.5 L288.3,737.9 L286,736.2 L283.8,734.6 L281.6,733 L279.4,731.4 L277.3,729.8 L275.2,728.2 L273.2,726.5 L271.2,724.7 L269.2,722.8 L267,720.9 L264.9,719 L262.7,717.2 L260.6,715.6 L258.5,714.1 L256.5,712.6 L254.4,711 L252.3,709.5 L250.2,707.9 L247.9,706.4 L245.7,704.9 L243.4,703.4 L241.2,701.8 L238.9,700.3 L236.7,698.8 L234.4,697.3 L232.2,695.8 L229.9,694.4 L227.8,692.9 L225.6,691.5 L223.5,690.2 L221.3,688.8 L219.2,687.4 L217,686 L214.9,684.6 L212.7,683.3 L210.6,681.9 L208.5,680.5 L206.4,679 L204.2,677.5 L202,675.9 L199.8,674.3 L197.6,672.6 L195.4,671 L193.2,669.3 L191.1,667.7 L189.1,666 L187.1,664.3 L185.2,662.6 L183.3,660.8 L181.5,659.1 L179.6,657.3 L177.7,655.5 L175.9,653.8 L174,652 L174,652 L175.6,654 L177.3,656 L178.9,658 L180.5,659.9 L182.2,661.9 L183.8,663.9 L185.5,665.9 L187.3,667.9 L189.2,669.8 L191.3,671.7 L193.3,673.5 L195.4,675.4 L197.4,677.2 L199.5,679.1 L201.5,680.9 L203.6,682.7 L205.7,684.3 L207.8,685.9 L209.8,687.5 L211.8,689 L213.9,690.5 L215.9,692.1 L218,693.6 L220,695.1 L222,696.7 L224.1,698.2 L226.2,699.7 L228.3,701.3 L230.5,702.9 L232.7,704.5 L234.9,706.1 L237.1,707.7 L239.2,709.3 L241.4,710.9 L243.6,712.5 L245.6,714.1 L247.6,715.7 L249.6,717.3 L251.5,718.9 L253.5,720.5 L255.4,722.1 L257.3,723.7 L259.1,725.4 L261,727.2 L262.8,729.2 L264.8,731.3 L266.8,733.4 L268.9,735.4 L271.1,737.4 L273.3,739.2 L275.4,741 L277.5,742.7 L279.6,744.5 L281.7,746.2 L283.8,747.9 L285.9,749.7 L288,751.4 L290.1,753.2 L292.2,755 L294.2,756.7 L296.3,758.5 L298.4,760.3 L300.5,762.2 L302.6,764 L304.7,765.9 L306.8,767.8 L308.9,769.6 L310.8,771.5 L312.7,773.2 L314.6,775 L316.4,776.7 L318.3,778.5 L320.1,780.3 L322,782.1 L324,783.9 L326,785.7 L328,787.4 L330.1,789.1 L332.1,790.7 L334.1,792.2 L336.1,793.8 L338.1,795.4 L340.1,797Z"/><path d="M191.6,663 L190.1,660.8 L188.6,658.5 L187.1,656.3 L185.5,654.1 L184,651.9 L182.5,649.6 L181,647.4 L179.6,645.1 L178.1,642.9 L176.7,640.6 L175.2,638.3 L173.8,636 L172.3,633.7 L172.3,633.7 L173.4,636.2 L174.5,638.6 L175.6,641.1 L176.8,643.6 L177.9,646.1 L179.1,648.5 L180.4,650.9 L181.7,653.3 L183,655.6 L184.4,658 L185.7,660.3 L187.1,662.7 L188.4,665Z"/><path d="M186.7,659.8 L184.4,658.7 L182.2,657.5 L179.9,656.4 L177.6,655.4 L175.2,654.4 L172.7,653.6 L170.2,652.9 L167.7,652.2 L165.1,651.5 L162.6,650.9 L162.6,650.9 L165,651.9 L167.4,652.9 L169.9,653.9 L172.2,654.9 L174.5,656 L176.7,657.1 L178.9,658.4 L181,659.7 L183.2,660.9 L185.3,662.2Z"/><path d="M185.9,665.6 L183.4,666 L180.9,666.4 L178.4,666.7 L175.9,667.1 L173.3,667.4 L170.7,667.8 L168,668.1 L168,668.1 L170.7,668.4 L173.3,668.6 L176,668.7 L178.6,668.7 L181.1,668.6 L183.6,668.5 L186.1,668.4Z"/><path d="M226.4,691.6 L225.8,688.8 L225.2,686.1 L224.6,683.4 L224,680.6 L223.4,677.9 L222.8,675.2 L222.2,672.4 L221.5,669.7 L220.8,667.1 L220,664.5 L219.1,661.9 L218.3,659.4 L217.5,656.8 L216.6,654.3 L215.7,651.8 L214.6,649.4 L213.4,647 L212.2,644.6 L211,642.3 L211,642.3 L211.8,644.8 L212.6,647.3 L213.3,649.8 L214.1,652.3 L214.7,654.9 L215.4,657.5 L216,660 L216.6,662.6 L217.2,665.2 L217.8,667.8 L218.3,670.4 L218.8,673.1 L219.2,675.8 L219.6,678.6 L220,681.4 L220.4,684.1 L220.8,686.9 L221.2,689.7 L221.6,692.4Z"/><path d="M254.4,712 L254.3,709.2 L254.2,706.5 L254.1,703.8 L254,701 L253.9,698.2 L253.8,695.5 L253.7,692.8 L253.6,690.1 L253.5,687.5 L253.3,684.9 L253.1,682.4 L252.9,679.9 L252.8,677.4 L252.6,675 L252.4,672.5 L252.2,670 L252.1,667.4 L251.8,664.8 L251.6,662.1 L251.3,659.4 L251,656.6 L250.6,653.8 L250.3,651.1 L250,648.3 L249.7,645.5 L249.7,645.5 L249.8,648.3 L249.8,651.1 L249.9,653.9 L249.9,656.7 L250,659.5 L250,662.2 L250.1,664.9 L250.1,667.5 L250.2,670 L250.2,672.5 L250.2,675 L250.2,677.6 L250.3,680.1 L250.3,682.6 L250.3,685.1 L250.3,687.6 L250.3,690.1 L250.2,692.8 L250.2,695.5 L250.1,698.3 L250,701 L249.9,703.8 L249.8,706.5 L249.7,709.2 L249.6,712Z"/><path d="M213.7,687.9 L210.9,688.4 L208.1,689 L205.4,689.5 L202.6,690.1 L199.9,690.8 L197.3,691.6 L194.8,692.4 L192.4,693.3 L190,694.2 L187.6,695.1 L185.2,696 L185.2,696 L187.7,695.6 L190.3,695.1 L192.8,694.7 L195.3,694.2 L197.8,693.8 L200.4,693.5 L203.1,693.2 L205.9,692.9 L208.7,692.6 L211.5,692.4 L214.3,692.1Z"/><path d="M245.4,711.9 L242.7,712.9 L239.9,713.8 L237.1,714.8 L234.4,715.8 L231.6,716.8 L229,718 L226.3,719.2 L223.7,720.4 L221.1,721.7 L218.5,722.9 L218.5,722.9 L221.3,722.2 L224.1,721.5 L226.9,720.8 L229.7,720 L232.5,719.4 L235.3,718.7 L238.1,718 L240.9,717.4 L243.7,716.7 L246.6,716.1Z"/><path d="M272.1,726.4 L272.5,723.7 L272.9,721 L273.2,718.3 L273.6,715.6 L274,712.9 L274.3,710.2 L274.5,707.6 L274.7,704.9 L274.9,702.3 L275,699.6 L275.2,697 L275.3,694.3 L275.5,691.7 L275.5,691.7 L274.9,694.3 L274.4,696.9 L273.8,699.5 L273.3,702 L272.7,704.6 L272.2,707.2 L271.6,709.8 L271,712.4 L270.4,715 L269.8,717.7 L269.1,720.3 L268.5,723 L267.9,725.6Z"/><path d="M261.2,733.3 L258.7,734.7 L256.3,736.1 L253.9,737.5 L251.3,738.8 L248.5,740 L245.4,741.2 L245.4,741.2 L248.7,741 L251.9,740.6 L254.9,739.9 L257.6,738.9 L260.3,737.8 L262.8,736.7Z"/></g>
<path d="M348,199C346.2,197.8 345.7,191.2 345.5,188C345.3,184.8 345.2,181.9 347,180C348.8,178.1 354.4,175.7 356.5,176.7C358.6,177.7 359.5,182.9 359.4,186C359.3,189.1 357.9,192.8 356,195C354.1,197.2 349.8,200.2 348,199Z" fill="url(#gStip)" stroke="#1c1c1c" stroke-width="1.7" stroke-linejoin="round"/>
<path d="M336,240C333.6,240.2 326.9,239.8 325.2,237.5C323.4,235.2 324.9,229.5 325.5,226C326.1,222.5 326.4,216.6 328.9,216.7C331.4,216.8 338.8,223.5 340.6,226.7C342.4,229.9 340.3,233.8 339.5,236C338.7,238.2 338.4,239.8 336,240Z" fill="url(#gStip)" stroke="#1c1c1c" stroke-width="1.7" stroke-linejoin="round"/>
<path d="M342,303C340.4,301.7 340.5,295.2 340.6,292C340.7,288.8 340.8,286 342.5,284C344.2,282 348.7,279 350.6,280C352.5,281 354,286.7 353.9,290C353.8,293.3 352,297.8 350,300C348,302.2 343.6,304.3 342,303Z" fill="url(#gStip)" stroke="#1c1c1c" stroke-width="1.7" stroke-linejoin="round"/>
<path d="M346,451C344.4,449.7 344.4,443.2 344.5,440C344.6,436.8 344.8,433.9 346.5,432C348.2,430.1 353.1,427.4 355,428.4C356.9,429.4 358.2,434.7 358,438C357.8,441.3 356,445.8 354,448C352,450.2 347.6,452.3 346,451Z" fill="url(#gStip)" stroke="#1c1c1c" stroke-width="1.7" stroke-linejoin="round"/>
<path d="M347,539C344.7,539.8 336.7,537.5 334.5,535C332.3,532.5 333.3,527.8 333.6,524C333.9,520.2 334.4,513.3 336.5,512.5C338.6,511.7 344.5,516.1 346.5,519C348.5,521.9 348.3,526.7 348.4,530C348.5,533.3 349.3,538.2 347,539Z" fill="url(#gStip)" stroke="#1c1c1c" stroke-width="1.7" stroke-linejoin="round"/>
<path d="M381,646.5C379,645.9 383.5,641.1 385,638C386.5,634.9 387.7,629.8 390,628C392.3,626.2 397.1,626.1 398.7,627.4C400.3,628.7 399.8,633.6 399.5,636C399.2,638.4 400.1,639.8 397,641.5C393.9,643.2 383,647.1 381,646.5Z" fill="url(#gStip)" stroke="#1c1c1c" stroke-width="1.7" stroke-linejoin="round"/>
<path d="M333.5,775C331.3,775.8 323.1,772.8 321,770C318.9,767.2 320.1,761.4 320.6,758C321.1,754.6 322.1,750.5 324,749.8C325.9,749.1 330.3,751.5 332,754C333.7,756.5 333.8,761.5 334,765C334.2,768.5 335.7,774.2 333.5,775Z" fill="url(#gStip)" stroke="#1c1c1c" stroke-width="1.7" stroke-linejoin="round"/>
<path d="M167.5,159.8C168.7,159.2 179.8,163.1 185,165C190.2,166.9 196,169.4 199,171C202,172.6 200.7,173.5 203,174.5C205.3,175.5 210.1,175.8 213,177C215.9,178.2 217.2,180.5 220.2,181.9C223.2,183.3 227.4,183.9 231,185.5C234.6,187.1 238.5,190.1 241.7,191.7C244.9,193.3 246.7,192.9 250.3,194.9C253.9,196.9 259.2,201.3 263.2,203.5C267.1,205.7 270.4,205.8 274,207.8C277.6,209.8 280.8,213.2 284.7,215.3C288.6,217.5 293.9,218.8 297.6,220.7C301.3,222.6 304.3,225.1 307,227C309.7,228.9 312.5,230 314,232C315.5,234 317.2,237.8 316,239C314.8,240.2 309.7,239.1 307,239C304.3,238.9 302.8,239 299.8,238.4C296.8,237.8 292.6,236.7 289,235.7C285.4,234.7 281.9,233.8 278.3,232.5C274.7,231.2 271.1,229.6 267.5,228.2C263.9,226.8 260.4,225.7 256.8,223.9C253.2,222.1 249.6,219.6 246,217.4C242.4,215.2 238.9,213.2 235.3,211C231.7,208.8 228.1,206.7 224.5,204.5C220.9,202.3 217.4,200.2 213.8,198.1C210.2,195.9 207.3,195 203,191.6C198.7,188.2 192.2,181.4 188,177.6C183.8,173.8 181.4,171.5 178,168.5C174.6,165.5 166.3,160.4 167.5,159.8Z" fill="url(#gFruitL)" stroke="#1c1c1c" stroke-width="1.8" stroke-linejoin="round"/>
<path d="M196,178 L198.2,179.3 L200.5,180.6 L202.7,181.9 L204.9,183.2 L207.2,184.5 L209.5,185.7 L211.8,186.9 L214.1,188 L216.4,189.2 L218.8,190.3 L221.1,191.4 L223.5,192.6 L225.8,193.7 L228.2,194.8 L230.5,196 L232.9,197.1 L235.2,198.2 L237.5,199.4 L239.9,200.5 L242.2,201.6 L244.6,202.8 L246.9,203.9 L249.3,205 L251.6,206.1 L254,207.2 L256.3,208.4 L258.7,209.5 L261.1,210.6 L263.4,211.7 L265.8,212.8 L268.1,213.9 L270.5,215 L272.9,216.1 L275.2,217.2 L277.6,218.3 L279.9,219.4 L282.3,220.5 L284.6,221.6 L287,222.8 L289.4,223.9 L291.8,225.1 L294.2,226.2 L296.7,227.4 L299.1,228.7 L301.6,229.9 L304.1,231.1 L306.5,232.3 L309.1,233.4 L311.8,234.5 L314.8,235.5 L318,236.5 L318,236.5 L315.3,234.5 L312.7,232.7 L310.2,231.2 L307.7,229.9 L305.3,228.6 L302.8,227.4 L300.4,226.1 L298,224.9 L295.5,223.6 L293.1,222.4 L290.7,221.2 L288.3,220 L286,218.9 L283.6,217.8 L281.3,216.6 L278.9,215.5 L276.6,214.4 L274.2,213.2 L271.9,212.1 L269.5,211 L267.2,209.9 L264.8,208.7 L262.5,207.6 L260.1,206.5 L257.8,205.3 L255.4,204.2 L253.1,203.1 L250.7,202 L248.4,200.9 L246,199.8 L243.6,198.7 L241.3,197.6 L238.9,196.5 L236.6,195.4 L234.2,194.3 L231.8,193.2 L229.5,192 L227.1,190.9 L224.8,189.8 L222.4,188.7 L220,187.6 L217.7,186.5 L215.3,185.4 L212.9,184.4 L210.6,183.3 L208.2,182.4 L205.7,181.5 L203.3,180.6 L200.9,179.7 L198.4,178.9 L196,178Z" fill="#1c1c1c"/>
<circle cx="203" cy="189" r="2.6" fill="#f6e21c" stroke="#6a4a10" stroke-width="1"/>
<circle cx="219.8" cy="185.8" r="2.6" fill="#f6e21c" stroke="#6a4a10" stroke-width="1"/>
<circle cx="217.6" cy="199.1" r="2.6" fill="#f6e21c" stroke="#6a4a10" stroke-width="1"/>
<circle cx="242.4" cy="197.6" r="2.6" fill="#f6e21c" stroke="#6a4a10" stroke-width="1"/>
<circle cx="235.7" cy="210.5" r="2.6" fill="#f6e21c" stroke="#6a4a10" stroke-width="1"/>
<circle cx="260" cy="208" r="2.6" fill="#f6e21c" stroke="#6a4a10" stroke-width="1"/>
<circle cx="279.8" cy="218" r="2.6" fill="#f6e21c" stroke="#6a4a10" stroke-width="1"/>
<circle cx="269.7" cy="226" r="2.6" fill="#f6e21c" stroke="#6a4a10" stroke-width="1"/>
<path d="M446.3,135.7C447.4,136.2 445.9,142.4 445.5,146C445.1,149.6 444.8,153 444,157C443.2,161 441.8,166.3 441,170C440.2,173.7 440.2,176 439.4,179.3C438.6,182.6 437.1,186.6 436,190C434.9,193.4 434.3,195.9 433,199.6C431.7,203.3 429.6,208 428,212C426.4,216 425.2,220.2 423.7,223.7C422.2,227.2 420.2,230.2 419,233C417.8,235.8 417.6,237.7 416.3,240.4C415,243.1 412.6,246.5 411,249C409.4,251.5 409.2,252.4 407,255.2C404.8,258 400.8,262.9 398,266C395.2,269.1 393.7,270.9 390.4,273.7C387.1,276.5 381.7,280.2 378,283C374.3,285.8 370.8,288.7 368.1,290.4C365.4,292.1 364,292.9 362,293C360,293.1 356.5,292 356,291C355.5,290 356.9,289.3 358.9,287C360.9,284.7 365.6,280.6 368.1,277.4C370.6,274.2 372.1,270.8 374,268C375.9,265.2 377.6,263.5 379.3,260.7C381,257.9 382.5,254.1 384,251C385.5,247.9 386.8,245.2 388.5,242.2C390.2,239.2 392.4,235.8 394,233C395.6,230.2 397,228.4 397.8,225.6C398.6,222.8 398.4,218.8 399,216C399.6,213.2 400.5,211.4 401.5,208.9C402.5,206.4 403.8,203.5 405,201C406.2,198.5 407.4,197 408.9,194C410.4,191 412.1,186.4 414,183C415.9,179.6 418.2,177 420,173.7C421.8,170.4 423.1,166.4 425,163C426.9,159.6 428.8,156.6 431.1,153.3C433.4,150 436.5,145.9 439,143C441.5,140.1 445.2,135.2 446.3,135.7Z" fill="url(#gFruitR)" stroke="#1c1c1c" stroke-width="1.8" stroke-linejoin="round"/>
<path d="M442.5,150 L441.1,152.3 L439.7,154.7 L438.3,157 L436.9,159.4 L435.5,161.7 L434.2,164 L432.8,166.3 L431.6,168.6 L430.3,170.8 L429.1,173.1 L427.9,175.3 L426.7,177.6 L425.5,179.8 L424.3,182 L423.1,184.3 L421.8,186.5 L420.6,188.8 L419.4,191 L418.2,193.3 L417,195.5 L415.8,197.7 L414.6,200 L413.4,202.2 L412.1,204.5 L410.9,206.7 L409.7,208.9 L408.5,211.2 L407.3,213.4 L406,215.6 L404.8,217.8 L403.5,220 L402.3,222.2 L401,224.4 L399.8,226.6 L398.6,228.8 L397.3,231 L396.1,233.2 L394.8,235.4 L393.6,237.6 L392.3,239.8 L391.1,242 L389.8,244.2 L388.6,246.4 L387.3,248.6 L386.1,250.8 L384.9,253 L383.6,255.2 L382.3,257.3 L381,259.5 L379.6,261.6 L378.3,263.8 L377,265.9 L375.6,268.1 L374.3,270.2 L372.9,272.4 L371.6,274.5 L370.3,276.7 L368.9,278.8 L367.6,281 L366.2,283.1 L364.7,285.2 L363,287.4 L361.1,289.6 L359.2,291.8 L357.2,294.1 L355.3,296.3 L356.7,297.7 L358.8,295.5 L360.8,293.4 L362.9,291.2 L364.9,289 L366.7,286.8 L368.4,284.6 L369.8,282.4 L371.2,280.3 L372.6,278.2 L374,276 L375.3,273.9 L376.7,271.8 L378.1,269.6 L379.5,267.5 L380.9,265.4 L382.2,263.2 L383.6,261.1 L385,259 L386.3,256.8 L387.6,254.6 L388.9,252.4 L390.2,250.2 L391.4,248 L392.7,245.8 L393.9,243.6 L395.2,241.4 L396.4,239.2 L397.7,237 L398.9,234.8 L400.2,232.6 L401.4,230.4 L402.7,228.2 L404,226 L405.2,223.8 L406.5,221.6 L407.7,219.4 L409,217.2 L410.2,215 L411.5,212.8 L412.7,210.5 L413.9,208.3 L415.1,206 L416.2,203.8 L417.4,201.5 L418.6,199.3 L419.8,197 L421,194.7 L422.2,192.5 L423.4,190.2 L424.6,188 L425.7,185.7 L426.9,183.5 L428.1,181.2 L429.3,178.9 L430.5,176.7 L431.7,174.4 L432.9,172.2 L434,169.9 L435.2,167.5 L436.3,165.1 L437.3,162.6 L438.4,160.1 L439.4,157.6 L440.4,155 L441.5,152.5 L442.5,150Z" fill="#1c1c1c"/>
<circle cx="434.4" cy="179.8" r="2.6" fill="#f6e21c" stroke="#6a4a10" stroke-width="1"/>
<circle cx="419.4" cy="187.6" r="2.6" fill="#f6e21c" stroke="#6a4a10" stroke-width="1"/>
<circle cx="428.7" cy="196.9" r="2.6" fill="#f6e21c" stroke="#6a4a10" stroke-width="1"/>
<circle cx="408" cy="210.4" r="2.6" fill="#f6e21c" stroke="#6a4a10" stroke-width="1"/>
<circle cx="420.9" cy="216.7" r="2.6" fill="#f6e21c" stroke="#6a4a10" stroke-width="1"/>
<circle cx="400" cy="229.3" r="2.6" fill="#f6e21c" stroke="#6a4a10" stroke-width="1"/>
<circle cx="403" cy="249.3" r="2.6" fill="#f6e21c" stroke="#6a4a10" stroke-width="1"/>
<circle cx="385.7" cy="252" r="2.6" fill="#f6e21c" stroke="#6a4a10" stroke-width="1"/>
<path d="M375.1,89.7C376.6,88.6 379.2,94.5 380.6,99.4C382.1,104.3 383.3,112.4 383.8,118.9C384.3,125.4 384.1,131.8 383.8,138.3C383.5,144.8 383.1,152 381.9,157.8C380.7,163.6 379.1,168.3 376.7,173.3C374.3,178.3 370.6,183.7 367.6,187.6C364.6,191.5 360.9,194.5 358.5,196.7C356.1,198.9 354.4,200.4 353,201C351.6,201.6 349.5,201.4 350,200C350.5,198.6 354,195.1 355.9,192.8C357.8,190.5 359.4,189.6 361.1,186.3C362.8,183.1 365.2,177 366.3,173.3C367.4,169.6 367.4,169.1 367.6,164.3C367.8,159.6 367.4,151.3 367.6,144.8C367.8,138.3 368.2,131.9 368.9,125.4C369.5,118.9 370.5,111.9 371.5,105.9C372.5,100 373.6,90.8 375.1,89.7Z" fill="url(#gPod)" stroke="#1c1c1c" stroke-width="1.7" stroke-linejoin="round"/>
<path d="M375.5,97 C375,130 376,160 372,178 C368,188 362,194 356,198" fill="none" stroke="#1c1c1c" stroke-width="1.7"/>
<path d="M377.5,108 C379,140 378,165 374,179" fill="none" stroke="#1c1c1c" stroke-width="1.2"/>
<path d="M281,37.7 L289,37 L287.9,29.5 L294.5,32 L294.4,24.4 C300,28 306,36 310,43 C314,50 318,55 317,59 C314,62.5 308,62.5 303,59.5 C296,54 288,45 281,37.7 Z" fill="url(#gTulip)" stroke="#1c1c1c" stroke-width="1.7" stroke-linejoin="round"/>
<path d="M289,37 C297,45 304,53 312,60 M294.5,32 C302,41 309,49 315,57" fill="none" stroke="#1c1c1c" stroke-width="1.6"/>
<ellipse cx="334.5" cy="22" rx="11.5" ry="6.5" transform="rotate(90 334.5 22)" fill="url(#gPink)" stroke="#1c1c1c" stroke-width="2.0"/>
<ellipse cx="325.8" cy="30.2" rx="10.6" ry="7.5" transform="rotate(49 325.8 30.2)" fill="url(#gPink)" stroke="#1c1c1c" stroke-width="2.0"/>
<ellipse cx="342.3" cy="31" rx="10" ry="7" transform="rotate(127 342.3 31)" fill="url(#gPink)" stroke="#1c1c1c" stroke-width="2.0"/>
<path d="M335.5,14 L335,24 M322,24 L327,29 M347,25 L342,32" fill="none" stroke="#1c1c1c" stroke-width="1.3"/>
<ellipse cx="376.8" cy="62.1" rx="8.3" ry="5" transform="rotate(111 376.8 62.1)" fill="url(#gYel)" stroke="#1c1c1c" stroke-width="2.0"/>
<ellipse cx="386.2" cy="70.4" rx="11" ry="6.8" transform="rotate(170 386.2 70.4)" fill="url(#gYel)" stroke="#1c1c1c" stroke-width="2.0"/>
<ellipse cx="364" cy="57" rx="13.5" ry="7.6" transform="rotate(68.8 364 57)" fill="url(#gYel)" stroke="#1c1c1c" stroke-width="2.0"/>
<ellipse cx="352.8" cy="62.8" rx="13.8" ry="7.4" transform="rotate(37.8 352.8 62.8)" fill="url(#gOra)" stroke="#1c1c1c" stroke-width="2.0"/>
<path d="M376,77 C383,76 390,80 394,88 C397,96 396,104 391,106 C386,108 382,103 380,96 C378,90 374,86 371,82 Z" fill="url(#gOra)" stroke="#1c1c1c" stroke-width="1.7"/>
<ellipse cx="369.6" cy="74.9" rx="7.6" ry="5.8" transform="rotate(25 369.6 74.9)" fill="#f4b866" stroke="none" stroke-width="0"/>
<ellipse cx="369.6" cy="74.9" rx="5.6" ry="3.9" transform="rotate(25 369.6 74.9)" fill="#e8202a" stroke="#1c1c1c" stroke-width="1.5"/>
<ellipse cx="268.1" cy="109.2" rx="12.7" ry="7.6" transform="rotate(27.6 268.1 109.2)" fill="url(#gYel)" stroke="#1c1c1c" stroke-width="2.0"/>
<ellipse cx="282.1" cy="95.8" rx="19" ry="11.3" transform="rotate(98 282.1 95.8)" fill="url(#gYel)" stroke="#1c1c1c" stroke-width="2.0"/>
<ellipse cx="301.4" cy="98.5" rx="19" ry="11.8" transform="rotate(122 301.4 98.5)" fill="url(#gOra)" stroke="#1c1c1c" stroke-width="2.0"/>
<ellipse cx="260.6" cy="128.1" rx="17.5" ry="10.8" transform="rotate(-14 260.6 128.1)" fill="url(#gYel)" stroke="#1c1c1c" stroke-width="2.0"/>
<path d="M279,126 C270,126 261,132 258,142 C256,152 258,162 265,168 C271,172 282,172 285,167 C287,162 283,156 282,150 C281,143 284,136 286,130 Z" fill="url(#gOra)" stroke="#1c1c1c" stroke-width="1.7"/>
<ellipse cx="285.3" cy="121.6" rx="10.2" ry="7.2" transform="rotate(131 285.3 121.6)" fill="#f4b866" stroke="none" stroke-width="0"/>
<ellipse cx="285.3" cy="121.6" rx="8" ry="5" transform="rotate(131 285.3 121.6)" fill="#e8202a" stroke="#1c1c1c" stroke-width="1.6"/>
<ellipse cx="270" cy="308.7" rx="12" ry="7.5" transform="rotate(15 270 308.7)" fill="url(#gPink)" stroke="#1c1c1c" stroke-width="2.0"/>
<ellipse cx="308" cy="295.4" rx="10" ry="6.8" transform="rotate(112 308 295.4)" fill="url(#gPink)" stroke="#1c1c1c" stroke-width="2.0"/>
<ellipse cx="287" cy="295.8" rx="14" ry="10.5" transform="rotate(71.6 287 295.8)" fill="url(#gPink)" stroke="#1c1c1c" stroke-width="2.0"/>
<path d="M286,285 L289,296 M263,306 L276,306 M311,289 L306,299" fill="none" stroke="#1c1c1c" stroke-width="1.3"/>
<path d="M420,493 L431,492 L428,503 L422,503 Z" fill="#a8c86a" stroke="#1c1c1c" stroke-width="1.5" stroke-linejoin="round"/>
<ellipse cx="428.5" cy="476" rx="8.6" ry="7" transform="rotate(100 428.5 476)" fill="url(#gPink)" stroke="#1c1c1c" stroke-width="2.0"/>
<ellipse cx="418.8" cy="484" rx="9.5" ry="6.5" transform="rotate(80 418.8 484)" fill="url(#gPink)" stroke="#1c1c1c" stroke-width="2.0"/>
<ellipse cx="434.4" cy="488.8" rx="9.5" ry="7" transform="rotate(140 434.4 488.8)" fill="url(#gPink)" stroke="#1c1c1c" stroke-width="2.0"/>
<path d="M418,478 L420,488 M428,470 L429,478 M438,485 L433,491" fill="none" stroke="#1c1c1c" stroke-width="1.2"/>
</g>
<g id="labels">
<text class="t" x="610" y="84.7" textLength="106" lengthAdjust="spacingAndGlyphs">Flower</text>
<text class="t" x="614.6" y="252.6" textLength="79" lengthAdjust="spacingAndGlyphs">Fruit</text>
<text class="t" x="615.8" y="335.9" textLength="81" lengthAdjust="spacingAndGlyphs">Stem</text>
<text class="t" x="641" y="383" textLength="69" lengthAdjust="spacingAndGlyphs">Leaf</text>
<text class="t" x="757" y="376.6" textLength="93" lengthAdjust="spacingAndGlyphs">Shoot</text>
<text class="t" x="757" y="416" textLength="112" lengthAdjust="spacingAndGlyphs">system</text>
<text class="t" x="120.3" y="558.7" textLength="80" lengthAdjust="spacingAndGlyphs">Node</text>
<text class="t" x="140.5" y="613.4" textLength="155" lengthAdjust="spacingAndGlyphs">Internode</text>
<text class="t" x="467.5" y="662.4" textLength="66" lengthAdjust="spacingAndGlyphs">Bud</text>
<text class="t" x="590.4" y="841.2" textLength="127" lengthAdjust="spacingAndGlyphs">Primary</text>
<text class="t" x="590.4" y="880.3" textLength="64" lengthAdjust="spacingAndGlyphs">root</text>
<text class="t" x="591.9" y="927" textLength="168" lengthAdjust="spacingAndGlyphs">Secondary</text>
<text class="t" x="591.9" y="966" textLength="64" lengthAdjust="spacingAndGlyphs">root</text>
<text class="t" x="778.3" y="890" textLength="75" lengthAdjust="spacingAndGlyphs">Root</text>
<text class="t" x="778.3" y="928.7" textLength="112" lengthAdjust="spacingAndGlyphs">system</text>
<text class="cap" x="124" y="1058.4" textLength="570" lengthAdjust="spacingAndGlyphs">Different edible parts of plants</text>
</g>
<g id="brackets">
<path d="M340,570.3 C333.5,570.3 331.5,573 331.5,579 L331.5,597 C331.5,602.5 328.5,605.8 323.8,606.6 C328.5,607.4 331.5,610.7 331.5,616 L331.5,636 C331.5,641 333.5,643.2 340,643.2" fill="none" stroke="#1e1e22" stroke-width="5"/>
<path class="br" d="M724,36 H742 V787 H722"/>
<path class="br" d="M750,807 H767 V987 H749"/>
</g>
<g id="arrows">
<line class="ln" x1="420" y1="72.5" x2="598" y2="72.5"/>
<path class="ah" d="M400,72.5 L424,62.5 Q418,72.5 424,82.5 Z"/>
<line class="ln" x1="435" y1="242.7" x2="604" y2="242.7"/>
<path class="ah" d="M415,242.7 L439,232.7 Q433,242.7 439,252.7 Z"/>
<line class="ln" x1="365" y1="329.5" x2="600" y2="329.5"/>
<path class="ah" d="M345.8,329.5 L369,319.5 Q363,329.5 369,339.5 Z"/>
<line class="ln" x1="519" y1="374.3" x2="620" y2="374.3"/>
<path class="ah" d="M499.4,374.3 L523,364.3 Q517,374.3 523,384.3 Z"/>
<line class="ln" x1="206" y1="552.3" x2="313" y2="552.3"/>
<path class="ah" d="M332.5,552.3 L309,542.3 Q315,552.3 309,562.3 Z"/>
<line class="ln" x1="420" y1="634.4" x2="463" y2="634.4"/>
<path class="ah" d="M401,634.4 L424.5,625 Q418.5,634.4 424.5,645 Z"/>
<line class="ln" x1="394" y1="825.5" x2="579" y2="825.5"/>
<path class="ah" d="M373.5,825.5 L397.6,815.5 Q391.6,825.5 397.6,835.5 Z"/>
<line class="ln" x1="520" y1="930" x2="586.4" y2="930"/>
<path class="ah" d="M498.5,930 L524,920 Q518,930 524,940 Z"/>
</g>
</svg>
</body></html>
